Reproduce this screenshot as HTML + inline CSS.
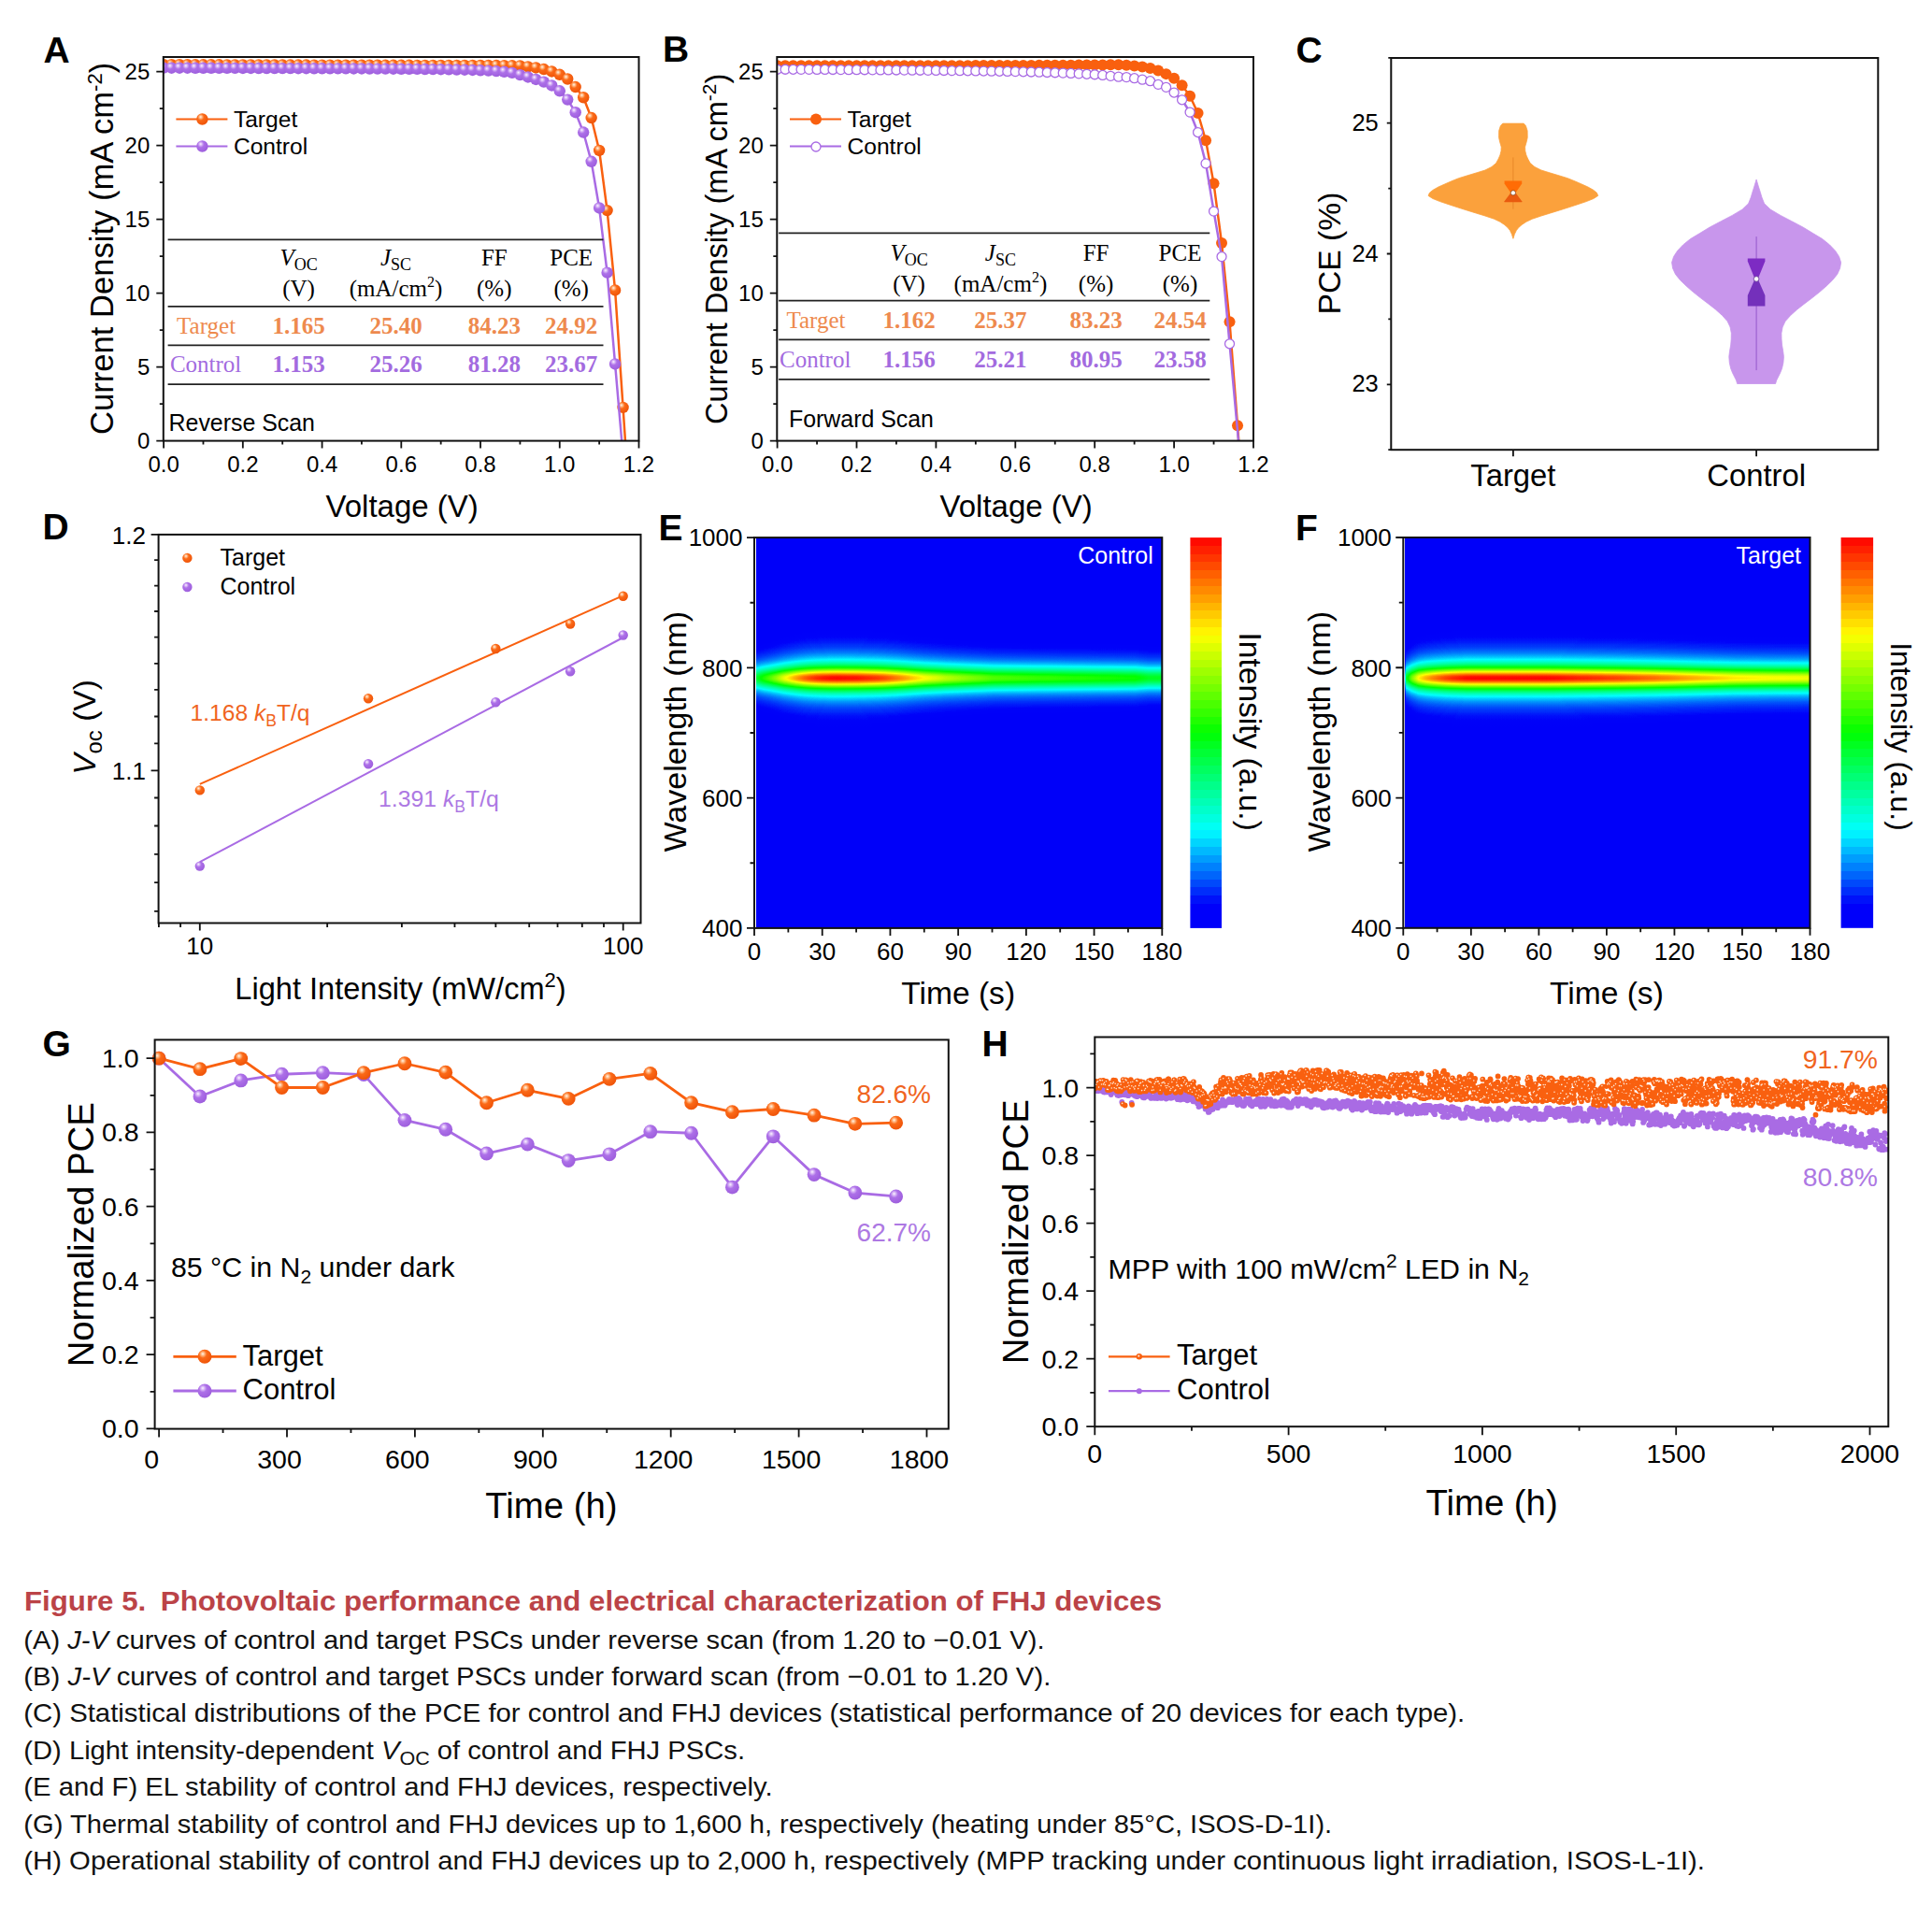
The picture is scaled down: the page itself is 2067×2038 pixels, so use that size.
<!DOCTYPE html>
<html><head><meta charset="utf-8"><title>Figure 5</title>
<style>html,body{margin:0;padding:0;background:#fff;}svg{display:block;}</style>
</head><body>
<svg width="2067" height="2038" viewBox="0 0 2067 2038" font-family="'Liberation Sans', Arial, Helvetica, sans-serif">
<defs><radialGradient id="gO" cx="0.38" cy="0.35" r="0.62" fx="0.36" fy="0.3">
<stop offset="0" stop-color="#fff5e8"/><stop offset="0.22" stop-color="#ffb27a"/><stop offset="0.45" stop-color="#fb6a18"/><stop offset="1" stop-color="#f0560a"/></radialGradient><radialGradient id="gP" cx="0.38" cy="0.35" r="0.62" fx="0.36" fy="0.3">
<stop offset="0" stop-color="#fbf4ff"/><stop offset="0.22" stop-color="#d4b0f5"/><stop offset="0.45" stop-color="#ad70e8"/><stop offset="1" stop-color="#9f60de"/></radialGradient><filter id="jetF" x="0" y="0" width="1" height="1" color-interpolation-filters="sRGB">
<feColorMatrix in="SourceGraphic" type="matrix" values="1 0 0 0 0 1 0 0 0 0 1 0 0 0 0 0 0 0 0 1" result="R"/>
<feColorMatrix in="SourceGraphic" type="matrix" values="0 1 0 0 0 0 1 0 0 0 0 1 0 0 0 0 0 0 0 1" result="G"/>
<feComposite in="R" in2="G" operator="arithmetic" k1="1" k2="0" k3="0" k4="0" result="P"/>
<feComponentTransfer in="P"><feFuncR type="table" tableValues="0 0 0 0 0 0 0 0 0 0 0 0 0 0 0 0 0 0 0 0 0 0 0 0 0 0.082 0.165 0.251 0.333 0.416 0.502 0.584 0.667 0.749 0.835 0.918 1 1 1 1 1 1 1 1 1 1 1 1 1"/><feFuncG type="table" tableValues="0 0 0 0.012 0.122 0.231 0.341 0.451 0.561 0.671 0.78 0.89 1 1 1 1 1 1 1 1 1 1 1 1 1 1 1 1 1 1 1 1 1 1 1 1 1 0.918 0.835 0.749 0.667 0.584 0.502 0.416 0.333 0.251 0.165 0.082 0"/><feFuncB type="table" tableValues="0.98 0.98 0.98 0.98 0.984 0.984 0.988 0.988 0.992 0.992 0.996 0.996 1 0.918 0.831 0.749 0.667 0.584 0.502 0.416 0.333 0.251 0.169 0.082 0 0 0 0 0 0 0 0 0 0 0 0 0 0 0 0 0 0 0 0 0 0 0 0 0"/><feFuncA type="identity"/></feComponentTransfer>
</filter><linearGradient id="hEv" x1="0" y1="0" x2="0" y2="1"><stop offset="0.0725" stop-color="#020000"/><stop offset="0.1204" stop-color="#030000"/><stop offset="0.1683" stop-color="#050000"/><stop offset="0.2042" stop-color="#080000"/><stop offset="0.2281" stop-color="#0b0000"/><stop offset="0.2472" stop-color="#0e0000"/><stop offset="0.2640" stop-color="#130000"/><stop offset="0.2688" stop-color="#150000"/><stop offset="0.2736" stop-color="#180000"/><stop offset="0.2784" stop-color="#1a0000"/><stop offset="0.2831" stop-color="#1d0000"/><stop offset="0.2879" stop-color="#210000"/><stop offset="0.2927" stop-color="#250000"/><stop offset="0.2975" stop-color="#2a0000"/><stop offset="0.3023" stop-color="#300000"/><stop offset="0.3071" stop-color="#370000"/><stop offset="0.3119" stop-color="#3f0000"/><stop offset="0.3167" stop-color="#4a0000"/><stop offset="0.3214" stop-color="#570000"/><stop offset="0.3262" stop-color="#670000"/><stop offset="0.3310" stop-color="#7a0000"/><stop offset="0.3358" stop-color="#910000"/><stop offset="0.3406" stop-color="#ac0000"/><stop offset="0.3454" stop-color="#c80000"/><stop offset="0.3502" stop-color="#e30000"/><stop offset="0.3550" stop-color="#f80000"/><stop offset="0.3597" stop-color="#ff0000"/><stop offset="0.3645" stop-color="#f80000"/><stop offset="0.3693" stop-color="#e30000"/><stop offset="0.3741" stop-color="#c80000"/><stop offset="0.3789" stop-color="#ac0000"/><stop offset="0.3837" stop-color="#910000"/><stop offset="0.3885" stop-color="#7a0000"/><stop offset="0.3933" stop-color="#670000"/><stop offset="0.3980" stop-color="#570000"/><stop offset="0.4028" stop-color="#4a0000"/><stop offset="0.4076" stop-color="#3f0000"/><stop offset="0.4124" stop-color="#370000"/><stop offset="0.4172" stop-color="#300000"/><stop offset="0.4220" stop-color="#2a0000"/><stop offset="0.4268" stop-color="#250000"/><stop offset="0.4315" stop-color="#210000"/><stop offset="0.4363" stop-color="#1d0000"/><stop offset="0.4411" stop-color="#1a0000"/><stop offset="0.4459" stop-color="#180000"/><stop offset="0.4507" stop-color="#150000"/><stop offset="0.4555" stop-color="#130000"/><stop offset="0.4722" stop-color="#0e0000"/><stop offset="0.4914" stop-color="#0b0000"/><stop offset="0.5153" stop-color="#080000"/><stop offset="0.5512" stop-color="#050000"/><stop offset="0.5991" stop-color="#030000"/><stop offset="0.6470" stop-color="#020000"/></linearGradient><linearGradient id="hEh" x1="0" y1="0" x2="1" y2="0"><stop offset="0.0000" stop-color="#007300"/><stop offset="0.0167" stop-color="#008500"/><stop offset="0.0333" stop-color="#009400"/><stop offset="0.0500" stop-color="#00a500"/><stop offset="0.0667" stop-color="#00b900"/><stop offset="0.0833" stop-color="#00c900"/><stop offset="0.1000" stop-color="#00d900"/><stop offset="0.1167" stop-color="#00e600"/><stop offset="0.1333" stop-color="#00f000"/><stop offset="0.1500" stop-color="#00f700"/><stop offset="0.1667" stop-color="#00fb00"/><stop offset="0.1833" stop-color="#00fe00"/><stop offset="0.2000" stop-color="#00ff00"/><stop offset="0.2167" stop-color="#00fe00"/><stop offset="0.2333" stop-color="#00fd00"/><stop offset="0.2500" stop-color="#00fc00"/><stop offset="0.2667" stop-color="#00f900"/><stop offset="0.2833" stop-color="#00f600"/><stop offset="0.3000" stop-color="#00f300"/><stop offset="0.3167" stop-color="#00ee00"/><stop offset="0.3333" stop-color="#00e700"/><stop offset="0.3500" stop-color="#00e000"/><stop offset="0.3667" stop-color="#00d800"/><stop offset="0.3833" stop-color="#00cf00"/><stop offset="0.4000" stop-color="#00c700"/><stop offset="0.4167" stop-color="#00bf00"/><stop offset="0.4333" stop-color="#00ba00"/><stop offset="0.4500" stop-color="#00b500"/><stop offset="0.4667" stop-color="#00af00"/><stop offset="0.4833" stop-color="#00ab00"/><stop offset="0.5000" stop-color="#00a700"/><stop offset="0.5167" stop-color="#00a300"/><stop offset="0.5333" stop-color="#009f00"/><stop offset="0.5500" stop-color="#009c00"/><stop offset="0.5667" stop-color="#009800"/><stop offset="0.5833" stop-color="#009400"/><stop offset="0.6000" stop-color="#009300"/><stop offset="0.6167" stop-color="#009200"/><stop offset="0.6333" stop-color="#009100"/><stop offset="0.6500" stop-color="#009000"/><stop offset="0.6667" stop-color="#008f00"/><stop offset="0.6833" stop-color="#008e00"/><stop offset="0.7000" stop-color="#008d00"/><stop offset="0.7167" stop-color="#008d00"/><stop offset="0.7333" stop-color="#008c00"/><stop offset="0.7500" stop-color="#008b00"/><stop offset="0.7667" stop-color="#008a00"/><stop offset="0.7833" stop-color="#008900"/><stop offset="0.8000" stop-color="#008900"/><stop offset="0.8167" stop-color="#008800"/><stop offset="0.8333" stop-color="#008700"/><stop offset="0.8500" stop-color="#008600"/><stop offset="0.8667" stop-color="#008600"/><stop offset="0.8833" stop-color="#008500"/><stop offset="0.9000" stop-color="#008400"/><stop offset="0.9167" stop-color="#008300"/><stop offset="0.9333" stop-color="#008300"/><stop offset="0.9500" stop-color="#007d00"/><stop offset="0.9667" stop-color="#007800"/><stop offset="0.9833" stop-color="#007800"/><stop offset="1.0000" stop-color="#007800"/></linearGradient><linearGradient id="hEcb" x1="0" y1="0" x2="0" y2="1"><stop offset="0.0000" stop-color="#ff0b00"/><stop offset="0.0208" stop-color="#ff0b00"/><stop offset="0.0208" stop-color="#ff2000"/><stop offset="0.0417" stop-color="#ff2000"/><stop offset="0.0417" stop-color="#ff3500"/><stop offset="0.0625" stop-color="#ff3500"/><stop offset="0.0625" stop-color="#ff4a00"/><stop offset="0.0833" stop-color="#ff4a00"/><stop offset="0.0833" stop-color="#ff6000"/><stop offset="0.1042" stop-color="#ff6000"/><stop offset="0.1042" stop-color="#ff7500"/><stop offset="0.1250" stop-color="#ff7500"/><stop offset="0.1250" stop-color="#ff8a00"/><stop offset="0.1458" stop-color="#ff8a00"/><stop offset="0.1458" stop-color="#ff9f00"/><stop offset="0.1667" stop-color="#ff9f00"/><stop offset="0.1667" stop-color="#ffb500"/><stop offset="0.1875" stop-color="#ffb500"/><stop offset="0.1875" stop-color="#ffca00"/><stop offset="0.2083" stop-color="#ffca00"/><stop offset="0.2083" stop-color="#ffdf00"/><stop offset="0.2292" stop-color="#ffdf00"/><stop offset="0.2292" stop-color="#fff400"/><stop offset="0.2500" stop-color="#fff400"/><stop offset="0.2500" stop-color="#f4ff00"/><stop offset="0.2708" stop-color="#f4ff00"/><stop offset="0.2708" stop-color="#dfff00"/><stop offset="0.2917" stop-color="#dfff00"/><stop offset="0.2917" stop-color="#caff00"/><stop offset="0.3125" stop-color="#caff00"/><stop offset="0.3125" stop-color="#b5ff00"/><stop offset="0.3333" stop-color="#b5ff00"/><stop offset="0.3333" stop-color="#9fff00"/><stop offset="0.3542" stop-color="#9fff00"/><stop offset="0.3542" stop-color="#8aff00"/><stop offset="0.3750" stop-color="#8aff00"/><stop offset="0.3750" stop-color="#75ff00"/><stop offset="0.3958" stop-color="#75ff00"/><stop offset="0.3958" stop-color="#60ff00"/><stop offset="0.4167" stop-color="#60ff00"/><stop offset="0.4167" stop-color="#4aff00"/><stop offset="0.4375" stop-color="#4aff00"/><stop offset="0.4375" stop-color="#35ff00"/><stop offset="0.4583" stop-color="#35ff00"/><stop offset="0.4583" stop-color="#20ff00"/><stop offset="0.4792" stop-color="#20ff00"/><stop offset="0.4792" stop-color="#0bff00"/><stop offset="0.5000" stop-color="#0bff00"/><stop offset="0.5000" stop-color="#00ff0b"/><stop offset="0.5208" stop-color="#00ff0b"/><stop offset="0.5208" stop-color="#00ff20"/><stop offset="0.5417" stop-color="#00ff20"/><stop offset="0.5417" stop-color="#00ff35"/><stop offset="0.5625" stop-color="#00ff35"/><stop offset="0.5625" stop-color="#00ff4a"/><stop offset="0.5833" stop-color="#00ff4a"/><stop offset="0.5833" stop-color="#00ff60"/><stop offset="0.6042" stop-color="#00ff60"/><stop offset="0.6042" stop-color="#00ff75"/><stop offset="0.6250" stop-color="#00ff75"/><stop offset="0.6250" stop-color="#00ff8a"/><stop offset="0.6458" stop-color="#00ff8a"/><stop offset="0.6458" stop-color="#00ff9f"/><stop offset="0.6667" stop-color="#00ff9f"/><stop offset="0.6667" stop-color="#00ffb5"/><stop offset="0.6875" stop-color="#00ffb5"/><stop offset="0.6875" stop-color="#00ffca"/><stop offset="0.7083" stop-color="#00ffca"/><stop offset="0.7083" stop-color="#00ffdf"/><stop offset="0.7292" stop-color="#00ffdf"/><stop offset="0.7292" stop-color="#00fff4"/><stop offset="0.7500" stop-color="#00fff4"/><stop offset="0.7500" stop-color="#00f1ff"/><stop offset="0.7708" stop-color="#00f1ff"/><stop offset="0.7708" stop-color="#00d5fe"/><stop offset="0.7917" stop-color="#00d5fe"/><stop offset="0.7917" stop-color="#00b9fe"/><stop offset="0.8125" stop-color="#00b9fe"/><stop offset="0.8125" stop-color="#009dfd"/><stop offset="0.8333" stop-color="#009dfd"/><stop offset="0.8333" stop-color="#0081fd"/><stop offset="0.8542" stop-color="#0081fd"/><stop offset="0.8542" stop-color="#0065fc"/><stop offset="0.8750" stop-color="#0065fc"/><stop offset="0.8750" stop-color="#0049fb"/><stop offset="0.8958" stop-color="#0049fb"/><stop offset="0.8958" stop-color="#002dfb"/><stop offset="0.9167" stop-color="#002dfb"/><stop offset="0.9167" stop-color="#0011fa"/><stop offset="0.9375" stop-color="#0011fa"/><stop offset="0.9375" stop-color="#0000fa"/><stop offset="0.9583" stop-color="#0000fa"/><stop offset="0.9583" stop-color="#0000fa"/><stop offset="0.9792" stop-color="#0000fa"/><stop offset="0.9792" stop-color="#0000fa"/><stop offset="1.0000" stop-color="#0000fa"/></linearGradient><linearGradient id="hFv" x1="0" y1="0" x2="0" y2="1"><stop offset="0.0728" stop-color="#020000"/><stop offset="0.1206" stop-color="#030000"/><stop offset="0.1685" stop-color="#050000"/><stop offset="0.2044" stop-color="#080000"/><stop offset="0.2283" stop-color="#0b0000"/><stop offset="0.2475" stop-color="#0e0000"/><stop offset="0.2642" stop-color="#130000"/><stop offset="0.2690" stop-color="#150000"/><stop offset="0.2738" stop-color="#180000"/><stop offset="0.2786" stop-color="#1a0000"/><stop offset="0.2834" stop-color="#1d0000"/><stop offset="0.2882" stop-color="#210000"/><stop offset="0.2930" stop-color="#250000"/><stop offset="0.2978" stop-color="#2a0000"/><stop offset="0.3025" stop-color="#300000"/><stop offset="0.3073" stop-color="#370000"/><stop offset="0.3121" stop-color="#3f0000"/><stop offset="0.3169" stop-color="#4a0000"/><stop offset="0.3217" stop-color="#570000"/><stop offset="0.3265" stop-color="#670000"/><stop offset="0.3313" stop-color="#7a0000"/><stop offset="0.3360" stop-color="#910000"/><stop offset="0.3408" stop-color="#ac0000"/><stop offset="0.3456" stop-color="#c80000"/><stop offset="0.3504" stop-color="#e30000"/><stop offset="0.3552" stop-color="#f80000"/><stop offset="0.3600" stop-color="#ff0000"/><stop offset="0.3648" stop-color="#f80000"/><stop offset="0.3696" stop-color="#e30000"/><stop offset="0.3743" stop-color="#c80000"/><stop offset="0.3791" stop-color="#ac0000"/><stop offset="0.3839" stop-color="#910000"/><stop offset="0.3887" stop-color="#7a0000"/><stop offset="0.3935" stop-color="#670000"/><stop offset="0.3983" stop-color="#570000"/><stop offset="0.4031" stop-color="#4a0000"/><stop offset="0.4079" stop-color="#3f0000"/><stop offset="0.4126" stop-color="#370000"/><stop offset="0.4174" stop-color="#300000"/><stop offset="0.4222" stop-color="#2a0000"/><stop offset="0.4270" stop-color="#250000"/><stop offset="0.4318" stop-color="#210000"/><stop offset="0.4366" stop-color="#1d0000"/><stop offset="0.4414" stop-color="#1a0000"/><stop offset="0.4461" stop-color="#180000"/><stop offset="0.4509" stop-color="#150000"/><stop offset="0.4557" stop-color="#130000"/><stop offset="0.4725" stop-color="#0e0000"/><stop offset="0.4916" stop-color="#0b0000"/><stop offset="0.5156" stop-color="#080000"/><stop offset="0.5515" stop-color="#050000"/><stop offset="0.5993" stop-color="#030000"/><stop offset="0.6472" stop-color="#020000"/></linearGradient><linearGradient id="hFh" x1="0" y1="0" x2="1" y2="0"><stop offset="0.0000" stop-color="#006b00"/><stop offset="0.0167" stop-color="#009d00"/><stop offset="0.0333" stop-color="#00c200"/><stop offset="0.0500" stop-color="#00d300"/><stop offset="0.0667" stop-color="#00df00"/><stop offset="0.0833" stop-color="#00e800"/><stop offset="0.1000" stop-color="#00f000"/><stop offset="0.1167" stop-color="#00f600"/><stop offset="0.1333" stop-color="#00fa00"/><stop offset="0.1500" stop-color="#00fe00"/><stop offset="0.1667" stop-color="#00ff00"/><stop offset="0.1833" stop-color="#00ff00"/><stop offset="0.2000" stop-color="#00ff00"/><stop offset="0.2167" stop-color="#00ff00"/><stop offset="0.2333" stop-color="#00ff00"/><stop offset="0.2500" stop-color="#00ff00"/><stop offset="0.2667" stop-color="#00ff00"/><stop offset="0.2833" stop-color="#00ff00"/><stop offset="0.3000" stop-color="#00ff00"/><stop offset="0.3167" stop-color="#00ff00"/><stop offset="0.3333" stop-color="#00ff00"/><stop offset="0.3500" stop-color="#00ff00"/><stop offset="0.3667" stop-color="#00fe00"/><stop offset="0.3833" stop-color="#00fd00"/><stop offset="0.4000" stop-color="#00fb00"/><stop offset="0.4167" stop-color="#00fa00"/><stop offset="0.4333" stop-color="#00f800"/><stop offset="0.4500" stop-color="#00f700"/><stop offset="0.4667" stop-color="#00f500"/><stop offset="0.4833" stop-color="#00f400"/><stop offset="0.5000" stop-color="#00f200"/><stop offset="0.5167" stop-color="#00f100"/><stop offset="0.5333" stop-color="#00ef00"/><stop offset="0.5500" stop-color="#00ed00"/><stop offset="0.5667" stop-color="#00eb00"/><stop offset="0.5833" stop-color="#00e900"/><stop offset="0.6000" stop-color="#00e700"/><stop offset="0.6167" stop-color="#00e500"/><stop offset="0.6333" stop-color="#00e200"/><stop offset="0.6500" stop-color="#00e000"/><stop offset="0.6667" stop-color="#00dd00"/><stop offset="0.6833" stop-color="#00da00"/><stop offset="0.7000" stop-color="#00d700"/><stop offset="0.7167" stop-color="#00d400"/><stop offset="0.7333" stop-color="#00d100"/><stop offset="0.7500" stop-color="#00cf00"/><stop offset="0.7667" stop-color="#00cc00"/><stop offset="0.7833" stop-color="#00ca00"/><stop offset="0.8000" stop-color="#00c700"/><stop offset="0.8167" stop-color="#00c500"/><stop offset="0.8333" stop-color="#00c400"/><stop offset="0.8500" stop-color="#00c300"/><stop offset="0.8667" stop-color="#00c200"/><stop offset="0.8833" stop-color="#00c100"/><stop offset="0.9000" stop-color="#00c000"/><stop offset="0.9167" stop-color="#00bf00"/><stop offset="0.9333" stop-color="#00bf00"/><stop offset="0.9500" stop-color="#00be00"/><stop offset="0.9667" stop-color="#00be00"/><stop offset="0.9833" stop-color="#00bd00"/><stop offset="1.0000" stop-color="#00bd00"/></linearGradient><linearGradient id="hFcb" x1="0" y1="0" x2="0" y2="1"><stop offset="0.0000" stop-color="#ff0b00"/><stop offset="0.0208" stop-color="#ff0b00"/><stop offset="0.0208" stop-color="#ff2000"/><stop offset="0.0417" stop-color="#ff2000"/><stop offset="0.0417" stop-color="#ff3500"/><stop offset="0.0625" stop-color="#ff3500"/><stop offset="0.0625" stop-color="#ff4a00"/><stop offset="0.0833" stop-color="#ff4a00"/><stop offset="0.0833" stop-color="#ff6000"/><stop offset="0.1042" stop-color="#ff6000"/><stop offset="0.1042" stop-color="#ff7500"/><stop offset="0.1250" stop-color="#ff7500"/><stop offset="0.1250" stop-color="#ff8a00"/><stop offset="0.1458" stop-color="#ff8a00"/><stop offset="0.1458" stop-color="#ff9f00"/><stop offset="0.1667" stop-color="#ff9f00"/><stop offset="0.1667" stop-color="#ffb500"/><stop offset="0.1875" stop-color="#ffb500"/><stop offset="0.1875" stop-color="#ffca00"/><stop offset="0.2083" stop-color="#ffca00"/><stop offset="0.2083" stop-color="#ffdf00"/><stop offset="0.2292" stop-color="#ffdf00"/><stop offset="0.2292" stop-color="#fff400"/><stop offset="0.2500" stop-color="#fff400"/><stop offset="0.2500" stop-color="#f4ff00"/><stop offset="0.2708" stop-color="#f4ff00"/><stop offset="0.2708" stop-color="#dfff00"/><stop offset="0.2917" stop-color="#dfff00"/><stop offset="0.2917" stop-color="#caff00"/><stop offset="0.3125" stop-color="#caff00"/><stop offset="0.3125" stop-color="#b5ff00"/><stop offset="0.3333" stop-color="#b5ff00"/><stop offset="0.3333" stop-color="#9fff00"/><stop offset="0.3542" stop-color="#9fff00"/><stop offset="0.3542" stop-color="#8aff00"/><stop offset="0.3750" stop-color="#8aff00"/><stop offset="0.3750" stop-color="#75ff00"/><stop offset="0.3958" stop-color="#75ff00"/><stop offset="0.3958" stop-color="#60ff00"/><stop offset="0.4167" stop-color="#60ff00"/><stop offset="0.4167" stop-color="#4aff00"/><stop offset="0.4375" stop-color="#4aff00"/><stop offset="0.4375" stop-color="#35ff00"/><stop offset="0.4583" stop-color="#35ff00"/><stop offset="0.4583" stop-color="#20ff00"/><stop offset="0.4792" stop-color="#20ff00"/><stop offset="0.4792" stop-color="#0bff00"/><stop offset="0.5000" stop-color="#0bff00"/><stop offset="0.5000" stop-color="#00ff0b"/><stop offset="0.5208" stop-color="#00ff0b"/><stop offset="0.5208" stop-color="#00ff20"/><stop offset="0.5417" stop-color="#00ff20"/><stop offset="0.5417" stop-color="#00ff35"/><stop offset="0.5625" stop-color="#00ff35"/><stop offset="0.5625" stop-color="#00ff4a"/><stop offset="0.5833" stop-color="#00ff4a"/><stop offset="0.5833" stop-color="#00ff60"/><stop offset="0.6042" stop-color="#00ff60"/><stop offset="0.6042" stop-color="#00ff75"/><stop offset="0.6250" stop-color="#00ff75"/><stop offset="0.6250" stop-color="#00ff8a"/><stop offset="0.6458" stop-color="#00ff8a"/><stop offset="0.6458" stop-color="#00ff9f"/><stop offset="0.6667" stop-color="#00ff9f"/><stop offset="0.6667" stop-color="#00ffb5"/><stop offset="0.6875" stop-color="#00ffb5"/><stop offset="0.6875" stop-color="#00ffca"/><stop offset="0.7083" stop-color="#00ffca"/><stop offset="0.7083" stop-color="#00ffdf"/><stop offset="0.7292" stop-color="#00ffdf"/><stop offset="0.7292" stop-color="#00fff4"/><stop offset="0.7500" stop-color="#00fff4"/><stop offset="0.7500" stop-color="#00f1ff"/><stop offset="0.7708" stop-color="#00f1ff"/><stop offset="0.7708" stop-color="#00d5fe"/><stop offset="0.7917" stop-color="#00d5fe"/><stop offset="0.7917" stop-color="#00b9fe"/><stop offset="0.8125" stop-color="#00b9fe"/><stop offset="0.8125" stop-color="#009dfd"/><stop offset="0.8333" stop-color="#009dfd"/><stop offset="0.8333" stop-color="#0081fd"/><stop offset="0.8542" stop-color="#0081fd"/><stop offset="0.8542" stop-color="#0065fc"/><stop offset="0.8750" stop-color="#0065fc"/><stop offset="0.8750" stop-color="#0049fb"/><stop offset="0.8958" stop-color="#0049fb"/><stop offset="0.8958" stop-color="#002dfb"/><stop offset="0.9167" stop-color="#002dfb"/><stop offset="0.9167" stop-color="#0011fa"/><stop offset="0.9375" stop-color="#0011fa"/><stop offset="0.9375" stop-color="#0000fa"/><stop offset="0.9583" stop-color="#0000fa"/><stop offset="0.9583" stop-color="#0000fa"/><stop offset="0.9792" stop-color="#0000fa"/><stop offset="0.9792" stop-color="#0000fa"/><stop offset="1.0000" stop-color="#0000fa"/></linearGradient></defs>
<rect width="2067" height="2038" fill="#fff"/>
<text x="46.5" y="66.8" font-size="39" font-weight="bold">A</text>
<clipPath id="clipA"><rect x="174.8" y="61" width="508.7" height="410.6"/></clipPath>
<g clip-path="url(#clipA)">
<path d="M175.1 69.17L183.57 69.2L192.05 69.22L200.52 69.24L208.99 69.26L217.47 69.28L225.94 69.3L234.41 69.32L242.89 69.34L251.36 69.36L259.83 69.38L268.31 69.41L276.78 69.43L285.25 69.45L293.73 69.47L302.2 69.49L310.67 69.51L319.15 69.53L327.62 69.55L336.09 69.58L344.57 69.6L353.04 69.62L361.51 69.64L369.99 69.66L378.46 69.69L386.93 69.71L395.41 69.73L403.88 69.75L412.35 69.77L420.83 69.79L429.3 69.81L437.77 69.82L446.25 69.84L454.72 69.85L463.19 69.86L471.67 69.87L480.14 69.88L488.61 69.9L497.09 69.92L505.56 69.94L514.03 69.96L522.51 70L530.98 70.05L539.45 70.13L547.93 70.26L556.4 70.44L564.87 71.39L573.35 72.49L581.82 74.07L590.29 76.44L598.77 79.76L607.24 84.5L615.71 93.03L624.19 104.25L632.66 126.05L641.13 160.97L649.61 225.12L658.08 310.44L666.55 435.89L669.03 472.6" stroke="#f9600f" stroke-width="2.5" fill="none" stroke-linejoin="round" />
<circle cx="175.1" cy="69.17" r="6.2" fill="url(#gO)"/>
<circle cx="183.57" cy="69.2" r="6.2" fill="url(#gO)"/>
<circle cx="192.05" cy="69.22" r="6.2" fill="url(#gO)"/>
<circle cx="200.52" cy="69.24" r="6.2" fill="url(#gO)"/>
<circle cx="208.99" cy="69.26" r="6.2" fill="url(#gO)"/>
<circle cx="217.47" cy="69.28" r="6.2" fill="url(#gO)"/>
<circle cx="225.94" cy="69.3" r="6.2" fill="url(#gO)"/>
<circle cx="234.41" cy="69.32" r="6.2" fill="url(#gO)"/>
<circle cx="242.89" cy="69.34" r="6.2" fill="url(#gO)"/>
<circle cx="251.36" cy="69.36" r="6.2" fill="url(#gO)"/>
<circle cx="259.83" cy="69.38" r="6.2" fill="url(#gO)"/>
<circle cx="268.31" cy="69.41" r="6.2" fill="url(#gO)"/>
<circle cx="276.78" cy="69.43" r="6.2" fill="url(#gO)"/>
<circle cx="285.25" cy="69.45" r="6.2" fill="url(#gO)"/>
<circle cx="293.73" cy="69.47" r="6.2" fill="url(#gO)"/>
<circle cx="302.2" cy="69.49" r="6.2" fill="url(#gO)"/>
<circle cx="310.67" cy="69.51" r="6.2" fill="url(#gO)"/>
<circle cx="319.15" cy="69.53" r="6.2" fill="url(#gO)"/>
<circle cx="327.62" cy="69.55" r="6.2" fill="url(#gO)"/>
<circle cx="336.09" cy="69.58" r="6.2" fill="url(#gO)"/>
<circle cx="344.57" cy="69.6" r="6.2" fill="url(#gO)"/>
<circle cx="353.04" cy="69.62" r="6.2" fill="url(#gO)"/>
<circle cx="361.51" cy="69.64" r="6.2" fill="url(#gO)"/>
<circle cx="369.99" cy="69.66" r="6.2" fill="url(#gO)"/>
<circle cx="378.46" cy="69.69" r="6.2" fill="url(#gO)"/>
<circle cx="386.93" cy="69.71" r="6.2" fill="url(#gO)"/>
<circle cx="395.41" cy="69.73" r="6.2" fill="url(#gO)"/>
<circle cx="403.88" cy="69.75" r="6.2" fill="url(#gO)"/>
<circle cx="412.35" cy="69.77" r="6.2" fill="url(#gO)"/>
<circle cx="420.83" cy="69.79" r="6.2" fill="url(#gO)"/>
<circle cx="429.3" cy="69.81" r="6.2" fill="url(#gO)"/>
<circle cx="437.77" cy="69.82" r="6.2" fill="url(#gO)"/>
<circle cx="446.25" cy="69.84" r="6.2" fill="url(#gO)"/>
<circle cx="454.72" cy="69.85" r="6.2" fill="url(#gO)"/>
<circle cx="463.19" cy="69.86" r="6.2" fill="url(#gO)"/>
<circle cx="471.67" cy="69.87" r="6.2" fill="url(#gO)"/>
<circle cx="480.14" cy="69.88" r="6.2" fill="url(#gO)"/>
<circle cx="488.61" cy="69.9" r="6.2" fill="url(#gO)"/>
<circle cx="497.09" cy="69.92" r="6.2" fill="url(#gO)"/>
<circle cx="505.56" cy="69.94" r="6.2" fill="url(#gO)"/>
<circle cx="514.03" cy="69.96" r="6.2" fill="url(#gO)"/>
<circle cx="522.51" cy="70" r="6.2" fill="url(#gO)"/>
<circle cx="530.98" cy="70.05" r="6.2" fill="url(#gO)"/>
<circle cx="539.45" cy="70.13" r="6.2" fill="url(#gO)"/>
<circle cx="547.93" cy="70.26" r="6.2" fill="url(#gO)"/>
<circle cx="556.4" cy="70.44" r="6.2" fill="url(#gO)"/>
<circle cx="564.87" cy="71.39" r="6.2" fill="url(#gO)"/>
<circle cx="573.35" cy="72.49" r="6.2" fill="url(#gO)"/>
<circle cx="581.82" cy="74.07" r="6.2" fill="url(#gO)"/>
<circle cx="590.29" cy="76.44" r="6.2" fill="url(#gO)"/>
<circle cx="598.77" cy="79.76" r="6.2" fill="url(#gO)"/>
<circle cx="607.24" cy="84.5" r="6.2" fill="url(#gO)"/>
<circle cx="615.71" cy="93.03" r="6.2" fill="url(#gO)"/>
<circle cx="624.19" cy="104.25" r="6.2" fill="url(#gO)"/>
<circle cx="632.66" cy="126.05" r="6.2" fill="url(#gO)"/>
<circle cx="641.13" cy="160.97" r="6.2" fill="url(#gO)"/>
<circle cx="649.61" cy="225.12" r="6.2" fill="url(#gO)"/>
<circle cx="658.08" cy="310.44" r="6.2" fill="url(#gO)"/>
<circle cx="666.55" cy="435.89" r="6.2" fill="url(#gO)"/>
<path d="M175.1 72.65L183.57 72.68L192.05 72.7L200.52 72.73L208.99 72.76L217.47 72.79L225.94 72.82L234.41 72.85L242.89 72.88L251.36 72.92L259.83 72.95L268.31 72.98L276.78 73.02L285.25 73.05L293.73 73.09L302.2 73.12L310.67 73.16L319.15 73.19L327.62 73.23L336.09 73.26L344.57 73.3L353.04 73.33L361.51 73.37L369.99 73.4L378.46 73.44L386.93 73.49L395.41 73.53L403.88 73.58L412.35 73.64L420.83 73.69L429.3 73.76L437.77 73.83L446.25 73.91L454.72 74L463.19 74.11L471.67 74.23L480.14 74.37L488.61 74.53L497.09 74.7L505.56 74.94L514.03 75.27L522.51 75.65L530.98 76.12L539.45 76.76L547.93 77.86L556.4 80.08L564.87 82.45L573.35 84.97L581.82 87.66L590.29 91.45L598.77 97.3L607.24 106.62L615.71 120.21L624.19 141.54L632.66 172.82L641.13 222.43L649.61 291.64L658.08 389.44L665.28 472.6" stroke="#a96be4" stroke-width="2.5" fill="none" stroke-linejoin="round" />
<circle cx="175.1" cy="72.65" r="6.2" fill="url(#gP)"/>
<circle cx="183.57" cy="72.68" r="6.2" fill="url(#gP)"/>
<circle cx="192.05" cy="72.7" r="6.2" fill="url(#gP)"/>
<circle cx="200.52" cy="72.73" r="6.2" fill="url(#gP)"/>
<circle cx="208.99" cy="72.76" r="6.2" fill="url(#gP)"/>
<circle cx="217.47" cy="72.79" r="6.2" fill="url(#gP)"/>
<circle cx="225.94" cy="72.82" r="6.2" fill="url(#gP)"/>
<circle cx="234.41" cy="72.85" r="6.2" fill="url(#gP)"/>
<circle cx="242.89" cy="72.88" r="6.2" fill="url(#gP)"/>
<circle cx="251.36" cy="72.92" r="6.2" fill="url(#gP)"/>
<circle cx="259.83" cy="72.95" r="6.2" fill="url(#gP)"/>
<circle cx="268.31" cy="72.98" r="6.2" fill="url(#gP)"/>
<circle cx="276.78" cy="73.02" r="6.2" fill="url(#gP)"/>
<circle cx="285.25" cy="73.05" r="6.2" fill="url(#gP)"/>
<circle cx="293.73" cy="73.09" r="6.2" fill="url(#gP)"/>
<circle cx="302.2" cy="73.12" r="6.2" fill="url(#gP)"/>
<circle cx="310.67" cy="73.16" r="6.2" fill="url(#gP)"/>
<circle cx="319.15" cy="73.19" r="6.2" fill="url(#gP)"/>
<circle cx="327.62" cy="73.23" r="6.2" fill="url(#gP)"/>
<circle cx="336.09" cy="73.26" r="6.2" fill="url(#gP)"/>
<circle cx="344.57" cy="73.3" r="6.2" fill="url(#gP)"/>
<circle cx="353.04" cy="73.33" r="6.2" fill="url(#gP)"/>
<circle cx="361.51" cy="73.37" r="6.2" fill="url(#gP)"/>
<circle cx="369.99" cy="73.4" r="6.2" fill="url(#gP)"/>
<circle cx="378.46" cy="73.44" r="6.2" fill="url(#gP)"/>
<circle cx="386.93" cy="73.49" r="6.2" fill="url(#gP)"/>
<circle cx="395.41" cy="73.53" r="6.2" fill="url(#gP)"/>
<circle cx="403.88" cy="73.58" r="6.2" fill="url(#gP)"/>
<circle cx="412.35" cy="73.64" r="6.2" fill="url(#gP)"/>
<circle cx="420.83" cy="73.69" r="6.2" fill="url(#gP)"/>
<circle cx="429.3" cy="73.76" r="6.2" fill="url(#gP)"/>
<circle cx="437.77" cy="73.83" r="6.2" fill="url(#gP)"/>
<circle cx="446.25" cy="73.91" r="6.2" fill="url(#gP)"/>
<circle cx="454.72" cy="74" r="6.2" fill="url(#gP)"/>
<circle cx="463.19" cy="74.11" r="6.2" fill="url(#gP)"/>
<circle cx="471.67" cy="74.23" r="6.2" fill="url(#gP)"/>
<circle cx="480.14" cy="74.37" r="6.2" fill="url(#gP)"/>
<circle cx="488.61" cy="74.53" r="6.2" fill="url(#gP)"/>
<circle cx="497.09" cy="74.7" r="6.2" fill="url(#gP)"/>
<circle cx="505.56" cy="74.94" r="6.2" fill="url(#gP)"/>
<circle cx="514.03" cy="75.27" r="6.2" fill="url(#gP)"/>
<circle cx="522.51" cy="75.65" r="6.2" fill="url(#gP)"/>
<circle cx="530.98" cy="76.12" r="6.2" fill="url(#gP)"/>
<circle cx="539.45" cy="76.76" r="6.2" fill="url(#gP)"/>
<circle cx="547.93" cy="77.86" r="6.2" fill="url(#gP)"/>
<circle cx="556.4" cy="80.08" r="6.2" fill="url(#gP)"/>
<circle cx="564.87" cy="82.45" r="6.2" fill="url(#gP)"/>
<circle cx="573.35" cy="84.97" r="6.2" fill="url(#gP)"/>
<circle cx="581.82" cy="87.66" r="6.2" fill="url(#gP)"/>
<circle cx="590.29" cy="91.45" r="6.2" fill="url(#gP)"/>
<circle cx="598.77" cy="97.3" r="6.2" fill="url(#gP)"/>
<circle cx="607.24" cy="106.62" r="6.2" fill="url(#gP)"/>
<circle cx="615.71" cy="120.21" r="6.2" fill="url(#gP)"/>
<circle cx="624.19" cy="141.54" r="6.2" fill="url(#gP)"/>
<circle cx="632.66" cy="172.82" r="6.2" fill="url(#gP)"/>
<circle cx="641.13" cy="222.43" r="6.2" fill="url(#gP)"/>
<circle cx="649.61" cy="291.64" r="6.2" fill="url(#gP)"/>
<circle cx="658.08" cy="389.44" r="6.2" fill="url(#gP)"/>
</g>
<rect x="174.8" y="61" width="508.7" height="410.6" fill="none" stroke="#111" stroke-width="2"/>
<path d="M174.8 471.6h-7.5M174.8 392.6h-7.5M174.8 313.6h-7.5M174.8 234.6h-7.5M174.8 155.6h-7.5M174.8 76.6h-7.5" stroke="#111" stroke-width="1.8" fill="none"/>
<path d="M174.8 432.1h-4M174.8 353.1h-4M174.8 274.1h-4M174.8 195.1h-4M174.8 116.1h-4" stroke="#111" stroke-width="1.8" fill="none"/>
<path d="M175.1 471.6v8M259.83 471.6v8M344.57 471.6v8M429.3 471.6v8M514.03 471.6v8M598.77 471.6v8M683.5 471.6v8" stroke="#111" stroke-width="1.8" fill="none"/>
<path d="M217.47 471.6v4M302.2 471.6v4M386.93 471.6v4M471.67 471.6v4M556.4 471.6v4M641.13 471.6v4" stroke="#111" stroke-width="1.8" fill="none"/>
<text x="160.3" y="480.2" font-size="24" text-anchor="end">0</text>
<text x="160.3" y="401.2" font-size="24" text-anchor="end">5</text>
<text x="160.3" y="322.2" font-size="24" text-anchor="end">10</text>
<text x="160.3" y="243.2" font-size="24" text-anchor="end">15</text>
<text x="160.3" y="164.2" font-size="24" text-anchor="end">20</text>
<text x="160.3" y="85.2" font-size="24" text-anchor="end">25</text>
<text x="175.1" y="504.6" font-size="24" text-anchor="middle">0.0</text>
<text x="259.83" y="504.6" font-size="24" text-anchor="middle">0.2</text>
<text x="344.57" y="504.6" font-size="24" text-anchor="middle">0.4</text>
<text x="429.3" y="504.6" font-size="24" text-anchor="middle">0.6</text>
<text x="514.03" y="504.6" font-size="24" text-anchor="middle">0.8</text>
<text x="598.77" y="504.6" font-size="24" text-anchor="middle">1.0</text>
<text x="683.5" y="504.6" font-size="24" text-anchor="middle">1.2</text>
<text x="121.2" y="265.8" font-size="34.6" text-anchor="middle" transform="rotate(-90 121.2 265.8)">Current Density (mA cm<tspan dy="-12.5" font-size="22.1">-2</tspan><tspan dy="12.5">)</tspan></text>
<text x="430.15" y="552.5" font-size="33" text-anchor="middle">Voltage (V)</text>
<line x1="188.4" y1="127.5" x2="243.4" y2="127.5" stroke="#f9600f" stroke-width="2.2" />
<line x1="188.4" y1="156.5" x2="243.4" y2="156.5" stroke="#a96be4" stroke-width="2.2" />
<circle cx="216.4" cy="127.5" r="6.2" fill="url(#gO)"/>
<circle cx="216.4" cy="156.5" r="6.2" fill="url(#gP)"/>
<text x="249.9" y="135.8" font-size="24.6">Target</text>
<text x="249.9" y="165" font-size="24.6">Control</text>
<line x1="179.6" y1="256.4" x2="645.5" y2="256.4" stroke="#222" stroke-width="1.8" />
<line x1="179.6" y1="327.9" x2="645.5" y2="327.9" stroke="#222" stroke-width="1.8" />
<line x1="179.6" y1="369.3" x2="645.5" y2="369.3" stroke="#222" stroke-width="1.8" />
<line x1="179.6" y1="411.1" x2="645.5" y2="411.1" stroke="#222" stroke-width="1.8" />
<text x="319.6" y="284.3" font-size="25" text-anchor="middle" font-family="'Liberation Serif', 'Times New Roman', serif"><tspan font-style="italic">V</tspan><tspan font-size="18" dy="5">OC</tspan></text>
<text x="423.5" y="284.3" font-size="25" text-anchor="middle" font-family="'Liberation Serif', 'Times New Roman', serif"><tspan font-style="italic">J</tspan><tspan font-size="18" dy="5">SC</tspan></text>
<text x="528.8" y="284.3" font-size="25" text-anchor="middle" font-family="'Liberation Serif', 'Times New Roman', serif">FF</text>
<text x="611.2" y="284.3" font-size="25" text-anchor="middle" font-family="'Liberation Serif', 'Times New Roman', serif">PCE</text>
<text x="319.6" y="317.3" font-size="25" text-anchor="middle" font-family="'Liberation Serif', 'Times New Roman', serif">(V)</text>
<text x="423.5" y="317.3" font-size="25" text-anchor="middle" font-family="'Liberation Serif', 'Times New Roman', serif">(mA/cm<tspan font-size="16" dy="-10">2</tspan><tspan dy="10">)</tspan></text>
<text x="528.8" y="317.3" font-size="25" text-anchor="middle" font-family="'Liberation Serif', 'Times New Roman', serif">(%)</text>
<text x="611.2" y="317.3" font-size="25" text-anchor="middle" font-family="'Liberation Serif', 'Times New Roman', serif">(%)</text>
<text x="220.6" y="356.6" font-size="25" text-anchor="middle" fill="#ee8a4e" font-family="'Liberation Serif', 'Times New Roman', serif">Target</text>
<text x="220.1" y="398.4" font-size="25" text-anchor="middle" fill="#a36bdf" font-family="'Liberation Serif', 'Times New Roman', serif">Control</text>
<text x="319.6" y="356.6" font-size="25" text-anchor="middle" fill="#ee8a4e" font-weight="bold" font-family="'Liberation Serif', 'Times New Roman', serif">1.165</text>
<text x="423.5" y="356.6" font-size="25" text-anchor="middle" fill="#ee8a4e" font-weight="bold" font-family="'Liberation Serif', 'Times New Roman', serif">25.40</text>
<text x="528.8" y="356.6" font-size="25" text-anchor="middle" fill="#ee8a4e" font-weight="bold" font-family="'Liberation Serif', 'Times New Roman', serif">84.23</text>
<text x="611.2" y="356.6" font-size="25" text-anchor="middle" fill="#ee8a4e" font-weight="bold" font-family="'Liberation Serif', 'Times New Roman', serif">24.92</text>
<text x="319.6" y="398.4" font-size="25" text-anchor="middle" fill="#a36bdf" font-weight="bold" font-family="'Liberation Serif', 'Times New Roman', serif">1.153</text>
<text x="423.5" y="398.4" font-size="25" text-anchor="middle" fill="#a36bdf" font-weight="bold" font-family="'Liberation Serif', 'Times New Roman', serif">25.26</text>
<text x="528.8" y="398.4" font-size="25" text-anchor="middle" fill="#a36bdf" font-weight="bold" font-family="'Liberation Serif', 'Times New Roman', serif">81.28</text>
<text x="611.2" y="398.4" font-size="25" text-anchor="middle" fill="#a36bdf" font-weight="bold" font-family="'Liberation Serif', 'Times New Roman', serif">23.67</text>
<text x="180.6" y="461.4" font-size="24.9">Reverse Scan</text>
<text x="709" y="65.8" font-size="39" font-weight="bold">B</text>
<clipPath id="clipB"><rect x="831.3" y="61" width="509.7" height="410.6"/></clipPath>
<g clip-path="url(#clipB)">
<path d="M831.6 70.28L840.09 70.28L848.58 70.28L857.07 70.28L865.56 70.28L874.05 70.28L882.54 70.28L891.03 70.28L899.52 70.28L908.01 70.28L916.5 70.28L924.99 70.28L933.48 70.28L941.97 70.28L950.46 70.28L958.95 70.28L967.44 70.28L975.93 70.27L984.42 70.26L992.91 70.25L1001.4 70.23L1009.89 70.21L1018.38 70.19L1026.87 70.17L1035.36 70.14L1043.85 70.11L1052.34 70.08L1060.83 70.05L1069.32 70.02L1077.81 69.99L1086.3 69.96L1094.79 69.93L1103.28 69.89L1111.77 69.85L1120.26 69.8L1128.75 69.75L1137.24 69.7L1145.73 69.65L1154.22 69.59L1162.71 69.54L1171.2 69.49L1179.69 69.43L1188.18 69.36L1196.67 69.33L1205.16 69.81L1213.65 70.44L1222.14 71.39L1230.63 72.97L1239.12 75.49L1247.61 79.13L1256.1 83.71L1264.59 91.29L1273.08 102.67L1281.57 121L1290.06 150.23L1298.55 196.36L1307.04 260.04L1315.53 344.25L1324.02 455.33L1325.34 472.6" stroke="#f9600f" stroke-width="2.5" fill="none" stroke-linejoin="round" />
<circle cx="831.6" cy="70.28" r="6" fill="#f9600f"/>
<circle cx="840.09" cy="70.28" r="6" fill="#f9600f"/>
<circle cx="848.58" cy="70.28" r="6" fill="#f9600f"/>
<circle cx="857.07" cy="70.28" r="6" fill="#f9600f"/>
<circle cx="865.56" cy="70.28" r="6" fill="#f9600f"/>
<circle cx="874.05" cy="70.28" r="6" fill="#f9600f"/>
<circle cx="882.54" cy="70.28" r="6" fill="#f9600f"/>
<circle cx="891.03" cy="70.28" r="6" fill="#f9600f"/>
<circle cx="899.52" cy="70.28" r="6" fill="#f9600f"/>
<circle cx="908.01" cy="70.28" r="6" fill="#f9600f"/>
<circle cx="916.5" cy="70.28" r="6" fill="#f9600f"/>
<circle cx="924.99" cy="70.28" r="6" fill="#f9600f"/>
<circle cx="933.48" cy="70.28" r="6" fill="#f9600f"/>
<circle cx="941.97" cy="70.28" r="6" fill="#f9600f"/>
<circle cx="950.46" cy="70.28" r="6" fill="#f9600f"/>
<circle cx="958.95" cy="70.28" r="6" fill="#f9600f"/>
<circle cx="967.44" cy="70.28" r="6" fill="#f9600f"/>
<circle cx="975.93" cy="70.27" r="6" fill="#f9600f"/>
<circle cx="984.42" cy="70.26" r="6" fill="#f9600f"/>
<circle cx="992.91" cy="70.25" r="6" fill="#f9600f"/>
<circle cx="1001.4" cy="70.23" r="6" fill="#f9600f"/>
<circle cx="1009.89" cy="70.21" r="6" fill="#f9600f"/>
<circle cx="1018.38" cy="70.19" r="6" fill="#f9600f"/>
<circle cx="1026.87" cy="70.17" r="6" fill="#f9600f"/>
<circle cx="1035.36" cy="70.14" r="6" fill="#f9600f"/>
<circle cx="1043.85" cy="70.11" r="6" fill="#f9600f"/>
<circle cx="1052.34" cy="70.08" r="6" fill="#f9600f"/>
<circle cx="1060.83" cy="70.05" r="6" fill="#f9600f"/>
<circle cx="1069.32" cy="70.02" r="6" fill="#f9600f"/>
<circle cx="1077.81" cy="69.99" r="6" fill="#f9600f"/>
<circle cx="1086.3" cy="69.96" r="6" fill="#f9600f"/>
<circle cx="1094.79" cy="69.93" r="6" fill="#f9600f"/>
<circle cx="1103.28" cy="69.89" r="6" fill="#f9600f"/>
<circle cx="1111.77" cy="69.85" r="6" fill="#f9600f"/>
<circle cx="1120.26" cy="69.8" r="6" fill="#f9600f"/>
<circle cx="1128.75" cy="69.75" r="6" fill="#f9600f"/>
<circle cx="1137.24" cy="69.7" r="6" fill="#f9600f"/>
<circle cx="1145.73" cy="69.65" r="6" fill="#f9600f"/>
<circle cx="1154.22" cy="69.59" r="6" fill="#f9600f"/>
<circle cx="1162.71" cy="69.54" r="6" fill="#f9600f"/>
<circle cx="1171.2" cy="69.49" r="6" fill="#f9600f"/>
<circle cx="1179.69" cy="69.43" r="6" fill="#f9600f"/>
<circle cx="1188.18" cy="69.36" r="6" fill="#f9600f"/>
<circle cx="1196.67" cy="69.33" r="6" fill="#f9600f"/>
<circle cx="1205.16" cy="69.81" r="6" fill="#f9600f"/>
<circle cx="1213.65" cy="70.44" r="6" fill="#f9600f"/>
<circle cx="1222.14" cy="71.39" r="6" fill="#f9600f"/>
<circle cx="1230.63" cy="72.97" r="6" fill="#f9600f"/>
<circle cx="1239.12" cy="75.49" r="6" fill="#f9600f"/>
<circle cx="1247.61" cy="79.13" r="6" fill="#f9600f"/>
<circle cx="1256.1" cy="83.71" r="6" fill="#f9600f"/>
<circle cx="1264.59" cy="91.29" r="6" fill="#f9600f"/>
<circle cx="1273.08" cy="102.67" r="6" fill="#f9600f"/>
<circle cx="1281.57" cy="121" r="6" fill="#f9600f"/>
<circle cx="1290.06" cy="150.23" r="6" fill="#f9600f"/>
<circle cx="1298.55" cy="196.36" r="6" fill="#f9600f"/>
<circle cx="1307.04" cy="260.04" r="6" fill="#f9600f"/>
<circle cx="1315.53" cy="344.25" r="6" fill="#f9600f"/>
<circle cx="1324.02" cy="455.33" r="6" fill="#f9600f"/>
<path d="M831.6 74.23L840.09 74.26L848.58 74.29L857.07 74.33L865.56 74.37L874.05 74.42L882.54 74.46L891.03 74.52L899.52 74.57L908.01 74.63L916.5 74.69L924.99 74.75L933.48 74.82L941.97 74.88L950.46 74.95L958.95 75.02L967.44 75.09L975.93 75.16L984.42 75.24L992.91 75.32L1001.4 75.4L1009.89 75.49L1018.38 75.59L1026.87 75.69L1035.36 75.79L1043.85 75.91L1052.34 76.03L1060.83 76.16L1069.32 76.29L1077.81 76.44L1086.3 76.6L1094.79 76.78L1103.28 76.98L1111.77 77.21L1120.26 77.48L1128.75 77.77L1137.24 78.1L1145.73 78.46L1154.22 78.86L1162.71 79.29L1171.2 79.76L1179.69 80.47L1188.18 81.37L1196.67 82.13L1205.16 82.6L1213.65 83.71L1222.14 85.13L1230.63 86.71L1239.12 90.35L1247.61 93.35L1256.1 99.04L1264.59 106.78L1273.08 120.05L1281.57 141.54L1290.06 174.88L1298.55 226.07L1307.04 274.57L1315.53 367.79L1325.08 472.6" stroke="#a96be4" stroke-width="2.5" fill="none" stroke-linejoin="round" />
<circle cx="831.6" cy="74.23" r="5.0" fill="#fff" stroke="#a96be4" stroke-width="1.3"/>
<circle cx="840.09" cy="74.26" r="5.0" fill="#fff" stroke="#a96be4" stroke-width="1.3"/>
<circle cx="848.58" cy="74.29" r="5.0" fill="#fff" stroke="#a96be4" stroke-width="1.3"/>
<circle cx="857.07" cy="74.33" r="5.0" fill="#fff" stroke="#a96be4" stroke-width="1.3"/>
<circle cx="865.56" cy="74.37" r="5.0" fill="#fff" stroke="#a96be4" stroke-width="1.3"/>
<circle cx="874.05" cy="74.42" r="5.0" fill="#fff" stroke="#a96be4" stroke-width="1.3"/>
<circle cx="882.54" cy="74.46" r="5.0" fill="#fff" stroke="#a96be4" stroke-width="1.3"/>
<circle cx="891.03" cy="74.52" r="5.0" fill="#fff" stroke="#a96be4" stroke-width="1.3"/>
<circle cx="899.52" cy="74.57" r="5.0" fill="#fff" stroke="#a96be4" stroke-width="1.3"/>
<circle cx="908.01" cy="74.63" r="5.0" fill="#fff" stroke="#a96be4" stroke-width="1.3"/>
<circle cx="916.5" cy="74.69" r="5.0" fill="#fff" stroke="#a96be4" stroke-width="1.3"/>
<circle cx="924.99" cy="74.75" r="5.0" fill="#fff" stroke="#a96be4" stroke-width="1.3"/>
<circle cx="933.48" cy="74.82" r="5.0" fill="#fff" stroke="#a96be4" stroke-width="1.3"/>
<circle cx="941.97" cy="74.88" r="5.0" fill="#fff" stroke="#a96be4" stroke-width="1.3"/>
<circle cx="950.46" cy="74.95" r="5.0" fill="#fff" stroke="#a96be4" stroke-width="1.3"/>
<circle cx="958.95" cy="75.02" r="5.0" fill="#fff" stroke="#a96be4" stroke-width="1.3"/>
<circle cx="967.44" cy="75.09" r="5.0" fill="#fff" stroke="#a96be4" stroke-width="1.3"/>
<circle cx="975.93" cy="75.16" r="5.0" fill="#fff" stroke="#a96be4" stroke-width="1.3"/>
<circle cx="984.42" cy="75.24" r="5.0" fill="#fff" stroke="#a96be4" stroke-width="1.3"/>
<circle cx="992.91" cy="75.32" r="5.0" fill="#fff" stroke="#a96be4" stroke-width="1.3"/>
<circle cx="1001.4" cy="75.4" r="5.0" fill="#fff" stroke="#a96be4" stroke-width="1.3"/>
<circle cx="1009.89" cy="75.49" r="5.0" fill="#fff" stroke="#a96be4" stroke-width="1.3"/>
<circle cx="1018.38" cy="75.59" r="5.0" fill="#fff" stroke="#a96be4" stroke-width="1.3"/>
<circle cx="1026.87" cy="75.69" r="5.0" fill="#fff" stroke="#a96be4" stroke-width="1.3"/>
<circle cx="1035.36" cy="75.79" r="5.0" fill="#fff" stroke="#a96be4" stroke-width="1.3"/>
<circle cx="1043.85" cy="75.91" r="5.0" fill="#fff" stroke="#a96be4" stroke-width="1.3"/>
<circle cx="1052.34" cy="76.03" r="5.0" fill="#fff" stroke="#a96be4" stroke-width="1.3"/>
<circle cx="1060.83" cy="76.16" r="5.0" fill="#fff" stroke="#a96be4" stroke-width="1.3"/>
<circle cx="1069.32" cy="76.29" r="5.0" fill="#fff" stroke="#a96be4" stroke-width="1.3"/>
<circle cx="1077.81" cy="76.44" r="5.0" fill="#fff" stroke="#a96be4" stroke-width="1.3"/>
<circle cx="1086.3" cy="76.6" r="5.0" fill="#fff" stroke="#a96be4" stroke-width="1.3"/>
<circle cx="1094.79" cy="76.78" r="5.0" fill="#fff" stroke="#a96be4" stroke-width="1.3"/>
<circle cx="1103.28" cy="76.98" r="5.0" fill="#fff" stroke="#a96be4" stroke-width="1.3"/>
<circle cx="1111.77" cy="77.21" r="5.0" fill="#fff" stroke="#a96be4" stroke-width="1.3"/>
<circle cx="1120.26" cy="77.48" r="5.0" fill="#fff" stroke="#a96be4" stroke-width="1.3"/>
<circle cx="1128.75" cy="77.77" r="5.0" fill="#fff" stroke="#a96be4" stroke-width="1.3"/>
<circle cx="1137.24" cy="78.1" r="5.0" fill="#fff" stroke="#a96be4" stroke-width="1.3"/>
<circle cx="1145.73" cy="78.46" r="5.0" fill="#fff" stroke="#a96be4" stroke-width="1.3"/>
<circle cx="1154.22" cy="78.86" r="5.0" fill="#fff" stroke="#a96be4" stroke-width="1.3"/>
<circle cx="1162.71" cy="79.29" r="5.0" fill="#fff" stroke="#a96be4" stroke-width="1.3"/>
<circle cx="1171.2" cy="79.76" r="5.0" fill="#fff" stroke="#a96be4" stroke-width="1.3"/>
<circle cx="1179.69" cy="80.47" r="5.0" fill="#fff" stroke="#a96be4" stroke-width="1.3"/>
<circle cx="1188.18" cy="81.37" r="5.0" fill="#fff" stroke="#a96be4" stroke-width="1.3"/>
<circle cx="1196.67" cy="82.13" r="5.0" fill="#fff" stroke="#a96be4" stroke-width="1.3"/>
<circle cx="1205.16" cy="82.6" r="5.0" fill="#fff" stroke="#a96be4" stroke-width="1.3"/>
<circle cx="1213.65" cy="83.71" r="5.0" fill="#fff" stroke="#a96be4" stroke-width="1.3"/>
<circle cx="1222.14" cy="85.13" r="5.0" fill="#fff" stroke="#a96be4" stroke-width="1.3"/>
<circle cx="1230.63" cy="86.71" r="5.0" fill="#fff" stroke="#a96be4" stroke-width="1.3"/>
<circle cx="1239.12" cy="90.35" r="5.0" fill="#fff" stroke="#a96be4" stroke-width="1.3"/>
<circle cx="1247.61" cy="93.35" r="5.0" fill="#fff" stroke="#a96be4" stroke-width="1.3"/>
<circle cx="1256.1" cy="99.04" r="5.0" fill="#fff" stroke="#a96be4" stroke-width="1.3"/>
<circle cx="1264.59" cy="106.78" r="5.0" fill="#fff" stroke="#a96be4" stroke-width="1.3"/>
<circle cx="1273.08" cy="120.05" r="5.0" fill="#fff" stroke="#a96be4" stroke-width="1.3"/>
<circle cx="1281.57" cy="141.54" r="5.0" fill="#fff" stroke="#a96be4" stroke-width="1.3"/>
<circle cx="1290.06" cy="174.88" r="5.0" fill="#fff" stroke="#a96be4" stroke-width="1.3"/>
<circle cx="1298.55" cy="226.07" r="5.0" fill="#fff" stroke="#a96be4" stroke-width="1.3"/>
<circle cx="1307.04" cy="274.57" r="5.0" fill="#fff" stroke="#a96be4" stroke-width="1.3"/>
<circle cx="1315.53" cy="367.79" r="5.0" fill="#fff" stroke="#a96be4" stroke-width="1.3"/>
</g>
<rect x="831.3" y="61" width="509.7" height="410.6" fill="none" stroke="#111" stroke-width="2"/>
<path d="M831.3 471.6h-7.5M831.3 392.6h-7.5M831.3 313.6h-7.5M831.3 234.6h-7.5M831.3 155.6h-7.5M831.3 76.6h-7.5" stroke="#111" stroke-width="1.8" fill="none"/>
<path d="M831.3 432.1h-4M831.3 353.1h-4M831.3 274.1h-4M831.3 195.1h-4M831.3 116.1h-4" stroke="#111" stroke-width="1.8" fill="none"/>
<path d="M831.6 471.6v8M916.5 471.6v8M1001.4 471.6v8M1086.3 471.6v8M1171.2 471.6v8M1256.1 471.6v8M1341 471.6v8" stroke="#111" stroke-width="1.8" fill="none"/>
<path d="M874.05 471.6v4M958.95 471.6v4M1043.85 471.6v4M1128.75 471.6v4M1213.65 471.6v4M1298.55 471.6v4" stroke="#111" stroke-width="1.8" fill="none"/>
<text x="816.8" y="480.2" font-size="24" text-anchor="end">0</text>
<text x="816.8" y="401.2" font-size="24" text-anchor="end">5</text>
<text x="816.8" y="322.2" font-size="24" text-anchor="end">10</text>
<text x="816.8" y="243.2" font-size="24" text-anchor="end">15</text>
<text x="816.8" y="164.2" font-size="24" text-anchor="end">20</text>
<text x="816.8" y="85.2" font-size="24" text-anchor="end">25</text>
<text x="831.6" y="504.6" font-size="24" text-anchor="middle">0.0</text>
<text x="916.5" y="504.6" font-size="24" text-anchor="middle">0.2</text>
<text x="1001.4" y="504.6" font-size="24" text-anchor="middle">0.4</text>
<text x="1086.3" y="504.6" font-size="24" text-anchor="middle">0.6</text>
<text x="1171.2" y="504.6" font-size="24" text-anchor="middle">0.8</text>
<text x="1256.1" y="504.6" font-size="24" text-anchor="middle">1.0</text>
<text x="1341" y="504.6" font-size="24" text-anchor="middle">1.2</text>
<text x="777.8" y="266.3" font-size="32.6" text-anchor="middle" transform="rotate(-90 777.8 266.3)">Current Density (mA cm<tspan dy="-11.7" font-size="20.9">-2</tspan><tspan dy="11.7">)</tspan></text>
<text x="1087.15" y="552.5" font-size="33" text-anchor="middle">Voltage (V)</text>
<line x1="845" y1="127.5" x2="900" y2="127.5" stroke="#f9600f" stroke-width="2.2" />
<line x1="845" y1="156.5" x2="900" y2="156.5" stroke="#a96be4" stroke-width="2.2" />
<circle cx="873" cy="127.5" r="6" fill="#f9600f"/>
<circle cx="873" cy="157" r="5.0" fill="#fff" stroke="#a96be4" stroke-width="1.3"/>
<text x="906.5" y="135.8" font-size="24.6">Target</text>
<text x="906.5" y="165" font-size="24.6">Control</text>
<line x1="833.1" y1="249.3" x2="1294.3" y2="249.3" stroke="#222" stroke-width="1.8" />
<line x1="833.1" y1="321.7" x2="1294.3" y2="321.7" stroke="#222" stroke-width="1.8" />
<line x1="833.1" y1="363.4" x2="1294.3" y2="363.4" stroke="#222" stroke-width="1.8" />
<line x1="833.1" y1="405.8" x2="1294.3" y2="405.8" stroke="#222" stroke-width="1.8" />
<text x="972.6" y="279" font-size="25" text-anchor="middle" font-family="'Liberation Serif', 'Times New Roman', serif"><tspan font-style="italic">V</tspan><tspan font-size="18" dy="5">OC</tspan></text>
<text x="1070.4" y="279" font-size="25" text-anchor="middle" font-family="'Liberation Serif', 'Times New Roman', serif"><tspan font-style="italic">J</tspan><tspan font-size="18" dy="5">SC</tspan></text>
<text x="1172.6" y="279" font-size="25" text-anchor="middle" font-family="'Liberation Serif', 'Times New Roman', serif">FF</text>
<text x="1262.5" y="279" font-size="25" text-anchor="middle" font-family="'Liberation Serif', 'Times New Roman', serif">PCE</text>
<text x="972.6" y="311.6" font-size="25" text-anchor="middle" font-family="'Liberation Serif', 'Times New Roman', serif">(V)</text>
<text x="1070.4" y="311.6" font-size="25" text-anchor="middle" font-family="'Liberation Serif', 'Times New Roman', serif">(mA/cm<tspan font-size="16" dy="-10">2</tspan><tspan dy="10">)</tspan></text>
<text x="1172.6" y="311.6" font-size="25" text-anchor="middle" font-family="'Liberation Serif', 'Times New Roman', serif">(%)</text>
<text x="1262.5" y="311.6" font-size="25" text-anchor="middle" font-family="'Liberation Serif', 'Times New Roman', serif">(%)</text>
<text x="873" y="351.4" font-size="25" text-anchor="middle" fill="#ee8a4e" font-family="'Liberation Serif', 'Times New Roman', serif">Target</text>
<text x="872.2" y="393.1" font-size="25" text-anchor="middle" fill="#a36bdf" font-family="'Liberation Serif', 'Times New Roman', serif">Control</text>
<text x="972.6" y="351.4" font-size="25" text-anchor="middle" fill="#ee8a4e" font-weight="bold" font-family="'Liberation Serif', 'Times New Roman', serif">1.162</text>
<text x="1070.4" y="351.4" font-size="25" text-anchor="middle" fill="#ee8a4e" font-weight="bold" font-family="'Liberation Serif', 'Times New Roman', serif">25.37</text>
<text x="1172.6" y="351.4" font-size="25" text-anchor="middle" fill="#ee8a4e" font-weight="bold" font-family="'Liberation Serif', 'Times New Roman', serif">83.23</text>
<text x="1262.5" y="351.4" font-size="25" text-anchor="middle" fill="#ee8a4e" font-weight="bold" font-family="'Liberation Serif', 'Times New Roman', serif">24.54</text>
<text x="972.6" y="393.1" font-size="25" text-anchor="middle" fill="#a36bdf" font-weight="bold" font-family="'Liberation Serif', 'Times New Roman', serif">1.156</text>
<text x="1070.4" y="393.1" font-size="25" text-anchor="middle" fill="#a36bdf" font-weight="bold" font-family="'Liberation Serif', 'Times New Roman', serif">25.21</text>
<text x="1172.6" y="393.1" font-size="25" text-anchor="middle" fill="#a36bdf" font-weight="bold" font-family="'Liberation Serif', 'Times New Roman', serif">80.95</text>
<text x="1262.5" y="393.1" font-size="25" text-anchor="middle" fill="#a36bdf" font-weight="bold" font-family="'Liberation Serif', 'Times New Roman', serif">23.58</text>
<text x="844" y="457.2" font-size="24.9">Forward Scan</text>
<text x="1386.5" y="66.5" font-size="39" font-weight="bold">C</text>
<path d="M1630.1 132.1L1632.4 134.5L1634.1 139.8L1634.2 147.3L1633.1 152L1631.6 157.2L1631.8 161.5L1632.9 165.9L1634.7 170L1637.2 174.6L1641.9 178.5L1648.9 182L1656.9 184.5L1666.9 187.5L1677.3 190.7L1685.4 194L1692.2 197L1698.9 200L1704.6 203.2L1708.4 206.3L1709.7 209.4L1704.9 212.5L1697.2 215.6L1687.9 218.7L1678.5 221.8L1668.4 225L1658.7 228L1648.9 231L1639.4 234.2L1632.9 237.3L1628.2 240.4L1624.7 243.5L1622.3 246.6L1620.4 250.5L1618.9 255.3L1618.9 255.3L1617.4 250.5L1615.5 246.6L1613.1 243.5L1609.6 240.4L1604.9 237.3L1598.4 234.2L1588.9 231L1579.1 228L1569.4 225L1559.3 221.8L1549.9 218.7L1540.6 215.6L1532.9 212.5L1528.1 209.4L1529.4 206.3L1533.2 203.2L1538.9 200L1545.6 197L1552.4 194L1560.5 190.7L1570.9 187.5L1580.9 184.5L1588.9 182L1595.9 178.5L1600.6 174.6L1603.1 170L1604.9 165.9L1606 161.5L1606.2 157.2L1604.7 152L1603.6 147.3L1603.7 139.8L1605.4 134.5L1607.7 132.1Z" fill="#fba13c" stroke="#fba13c" stroke-width="0.8" stroke-linejoin="round"/>
<line x1="1618.9" y1="168.4" x2="1618.9" y2="223.7" stroke="#e8882a" stroke-width="1" />
<path d="M1609.6 193.5H1628.2V196.5L1621.5 206.3H1616.3L1609.6 196.5Z" fill="#ff6c05"/>
<path d="M1616.3 206.3H1621.5L1628.2 215.2V216.2H1609.6V215.2Z" fill="#e95a0e"/>
<circle cx="1618.9" cy="206.3" r="2.6" fill="#fff" stroke="#7a3a10" stroke-width="0.7"/>
<path d="M1879.1 192L1880.3 196L1881.5 200L1883.2 205.2L1884.9 211L1887.6 217.8L1894.1 224L1904.9 230.4L1916.6 236.5L1928.9 243L1939.6 249.5L1949.7 255.6L1957.6 262L1963.5 268.2L1967.6 274.5L1969.6 280.8L1968.6 287L1965.7 293.4L1960.6 299.7L1954.1 306L1946.9 312.3L1939 318.6L1930.6 324.9L1922.6 331.2L1915.6 337.5L1910 343.8L1907.1 350L1905.9 356.4L1906 362.7L1906.5 369L1907.6 375.3L1908.4 381.6L1907.9 388L1906.5 394.2L1904.6 399L1902.6 403L1900.6 407L1899.6 410.5L1858.6 410.5L1857.6 407L1855.6 403L1853.6 399L1851.7 394.2L1850.3 388L1849.8 381.6L1850.6 375.3L1851.7 369L1852.2 362.7L1852.3 356.4L1851.1 350L1848.2 343.8L1842.6 337.5L1835.6 331.2L1827.6 324.9L1819.2 318.6L1811.3 312.3L1804.1 306L1797.6 299.7L1792.5 293.4L1789.6 287L1788.6 280.8L1790.6 274.5L1794.7 268.2L1800.6 262L1808.5 255.6L1818.6 249.5L1829.3 243L1841.6 236.5L1853.3 230.4L1864.1 224L1870.6 217.8L1873.3 211L1875 205.2L1876.7 200L1877.9 196L1879.1 192Z" fill="#c896ec" stroke="#c896ec" stroke-width="0.8" stroke-linejoin="round"/>
<line x1="1879.1" y1="253.1" x2="1879.1" y2="396.1" stroke="#9458cc" stroke-width="1" />
<path d="M1869.8 276.4H1888.4V279.4L1880.7 298.4H1877.5L1869.8 279.4Z" fill="#7d2bc3"/>
<path d="M1877.5 298.4H1880.7L1888.4 316.1V327.4H1869.8V316.1Z" fill="#7430bb"/>
<circle cx="1879.1" cy="298.4" r="2.8" fill="#fff" stroke="#4a1a80" stroke-width="0.7"/>
<rect x="1488.3" y="62" width="521" height="419.2" fill="none" stroke="#111" stroke-width="2"/>
<path d="M1488.3 411.3h-4.5M1488.3 271.5h-4.5M1488.3 131.7h-4.5" stroke="#111" stroke-width="1.8" fill="none"/>
<path d="M1488.3 481.2h-3M1488.3 341.4h-3M1488.3 201.6h-3M1488.3 61.8h-3" stroke="#111" stroke-width="1.8" fill="none"/>
<path d="M1618.9 481.2v7M1879.1 481.2v7" stroke="#111" stroke-width="1.8" fill="none"/>
<text x="1474.8" y="419.3" font-size="25.5" text-anchor="end">23</text>
<text x="1474.8" y="279.5" font-size="25.5" text-anchor="end">24</text>
<text x="1474.8" y="139.7" font-size="25.5" text-anchor="end">25</text>
<text x="1618.9" y="520.4" font-size="32.8" text-anchor="middle">Target</text>
<text x="1879.1" y="520.4" font-size="32.8" text-anchor="middle">Control</text>
<text x="1434" y="271" font-size="33.7" text-anchor="middle" transform="rotate(-90 1434 271)">PCE (%)</text>
<text x="45.5" y="577.3" font-size="39" font-weight="bold">D</text>
<line x1="213.8" y1="838.9" x2="666.7" y2="637.1" stroke="#f9600f" stroke-width="2" />
<line x1="213.8" y1="922.2" x2="666.7" y2="682" stroke="#a96be4" stroke-width="2" />
<circle cx="213.8" cy="845.4" r="5.2" fill="url(#gO)"/>
<circle cx="394.03" cy="747.2" r="5.2" fill="url(#gO)"/>
<circle cx="530.36" cy="694" r="5.2" fill="url(#gO)"/>
<circle cx="610.12" cy="667.5" r="5.2" fill="url(#gO)"/>
<circle cx="666.7" cy="637.8" r="5.2" fill="url(#gO)"/>
<circle cx="213.8" cy="926.6" r="5.2" fill="url(#gP)"/>
<circle cx="394.03" cy="817.2" r="5.2" fill="url(#gP)"/>
<circle cx="530.36" cy="751.2" r="5.2" fill="url(#gP)"/>
<circle cx="610.12" cy="718.3" r="5.2" fill="url(#gP)"/>
<circle cx="666.7" cy="679.5" r="5.2" fill="url(#gP)"/>
<rect x="169.6" y="571.9" width="515.9" height="415.6" fill="none" stroke="#111" stroke-width="2"/>
<path d="M169.6 571.9h-8M169.6 824.4h-8" stroke="#111" stroke-width="1.8" fill="none"/>
<path d="M169.6 599.2h-4.5M169.6 626.6h-4.5M169.6 654h-4.5M169.6 681.7h-4.5M169.6 709.8h-4.5M169.6 737.8h-4.5M169.6 766.5h-4.5M169.6 795.3h-4.5M169.6 853.5h-4.5M169.6 883.5h-4.5M169.6 913.9h-4.5M169.6 944.1h-4.5M169.6 974.8h-4.5" stroke="#111" stroke-width="1.8" fill="none"/>
<path d="M213.8 987.5v8M666.7 987.5v8" stroke="#111" stroke-width="1.8" fill="none"/>
<path d="M169.91 987.5v4.5M193.08 987.5v4.5M350.14 987.5v4.5M429.89 987.5v4.5M486.47 987.5v4.5M530.36 987.5v4.5M566.22 987.5v4.5M596.54 987.5v4.5M622.81 987.5v4.5M645.98 987.5v4.5" stroke="#111" stroke-width="1.8" fill="none"/>
<text x="156" y="581.5" font-size="26" text-anchor="end">1.2</text>
<text x="156" y="834" font-size="26" text-anchor="end">1.1</text>
<text x="213.8" y="1021" font-size="26" text-anchor="middle">10</text>
<text x="666.7" y="1021" font-size="26" text-anchor="middle">100</text>
<circle cx="200.4" cy="596.9" r="5.2" fill="url(#gO)"/>
<circle cx="200.4" cy="628" r="5.2" fill="url(#gP)"/>
<text x="235.5" y="605.2" font-size="25">Target</text>
<text x="235.5" y="636.4" font-size="25">Control</text>
<text x="203.6" y="770.8" font-size="24.6" fill="#f0641e">1.168 <tspan font-style="italic">k</tspan><tspan font-size="17.5" dy="6">B</tspan><tspan dy="-6">T/q</tspan></text>
<text x="405" y="862.5" font-size="24.8" fill="#ad78e3">1.391 <tspan font-style="italic">k</tspan><tspan font-size="17.5" dy="6">B</tspan><tspan dy="-6">T/q</tspan></text>
<text x="102" y="778" font-size="33.5" text-anchor="middle" transform="rotate(-90 102 778)"><tspan font-style="italic">V</tspan><tspan font-size="24" dy="7">oc</tspan><tspan dy="-7"> (V)</tspan></text>
<text x="428.5" y="1069" font-size="32.6" text-anchor="middle">Light Intensity (mW/cm<tspan font-size="22" dy="-13">2</tspan><tspan dy="13">)</tspan></text>
<text x="704.5" y="578" font-size="39" font-weight="bold">E</text>
<rect x="809" y="575.1" width="434.3" height="417.8" fill="#0000fa"/>
<g filter="url(#jetF)"><rect x="809" y="575.1" width="434.3" height="417.8" fill="url(#hEv)"/><rect x="809" y="575.1" width="434.3" height="417.8" fill="url(#hEh)" style="mix-blend-mode:screen"/></g>
<rect x="1273.4" y="575.1" width="33.6" height="417.8" fill="url(#hEcb)"/>
<rect x="807" y="575.1" width="436.3" height="417.8" fill="none" stroke="#111" stroke-width="2"/>
<path d="M807 992.9h-8M807 853.63h-8M807 714.37h-8M807 575.1h-8" stroke="#111" stroke-width="1.8" fill="none"/>
<path d="M807 923.27h-4.5M807 784h-4.5M807 644.73h-4.5" stroke="#111" stroke-width="1.8" fill="none"/>
<path d="M807 992.9v8M879.72 992.9v8M952.43 992.9v8M1025.15 992.9v8M1097.87 992.9v8M1170.58 992.9v8M1243.3 992.9v8" stroke="#111" stroke-width="1.8" fill="none"/>
<path d="M843.36 992.9v4.5M916.08 992.9v4.5M988.79 992.9v4.5M1061.51 992.9v4.5M1134.22 992.9v4.5M1206.94 992.9v4.5" stroke="#111" stroke-width="1.8" fill="none"/>
<text x="794.5" y="1002.2" font-size="26" text-anchor="end">400</text>
<text x="794.5" y="862.93" font-size="26" text-anchor="end">600</text>
<text x="794.5" y="723.67" font-size="26" text-anchor="end">800</text>
<text x="794.5" y="584.4" font-size="26" text-anchor="end">1000</text>
<text x="807" y="1027.3" font-size="26" text-anchor="middle">0</text>
<text x="879.72" y="1027.3" font-size="26" text-anchor="middle">30</text>
<text x="952.43" y="1027.3" font-size="26" text-anchor="middle">60</text>
<text x="1025.15" y="1027.3" font-size="26" text-anchor="middle">90</text>
<text x="1097.87" y="1027.3" font-size="26" text-anchor="middle">120</text>
<text x="1170.58" y="1027.3" font-size="26" text-anchor="middle">150</text>
<text x="1243.3" y="1027.3" font-size="26" text-anchor="middle">180</text>
<text x="1233.8" y="603.4" font-size="25" text-anchor="end" fill="#fff">Control</text>
<text x="734" y="782.7" font-size="34" text-anchor="middle" transform="rotate(-90 734 782.7)">Wavelength (nm)</text>
<text x="1025.15" y="1074" font-size="33.6" text-anchor="middle">Time (s)</text>
<text x="1326" y="782.7" font-size="33.5" text-anchor="middle" transform="rotate(90 1326 782.7)">Intensity (a.u.)</text>
<text x="1386" y="578" font-size="39" font-weight="bold">F</text>
<rect x="1503.3" y="575" width="433.2" height="417.8" fill="#0000fa"/>
<g filter="url(#jetF)"><rect x="1503.3" y="575" width="433.2" height="417.8" fill="url(#hFv)"/><rect x="1503.3" y="575" width="433.2" height="417.8" fill="url(#hFh)" style="mix-blend-mode:screen"/></g>
<rect x="1969.6" y="575" width="34.5" height="417.8" fill="url(#hFcb)"/>
<rect x="1501.3" y="575" width="435.2" height="417.8" fill="none" stroke="#111" stroke-width="2"/>
<path d="M1501.3 992.8h-8M1501.3 853.53h-8M1501.3 714.27h-8M1501.3 575h-8" stroke="#111" stroke-width="1.8" fill="none"/>
<path d="M1501.3 923.17h-4.5M1501.3 783.9h-4.5M1501.3 644.63h-4.5" stroke="#111" stroke-width="1.8" fill="none"/>
<path d="M1501.3 992.8v8M1573.83 992.8v8M1646.37 992.8v8M1718.9 992.8v8M1791.43 992.8v8M1863.97 992.8v8M1936.5 992.8v8" stroke="#111" stroke-width="1.8" fill="none"/>
<path d="M1537.57 992.8v4.5M1610.1 992.8v4.5M1682.63 992.8v4.5M1755.17 992.8v4.5M1827.7 992.8v4.5M1900.23 992.8v4.5" stroke="#111" stroke-width="1.8" fill="none"/>
<text x="1488.8" y="1002.1" font-size="26" text-anchor="end">400</text>
<text x="1488.8" y="862.83" font-size="26" text-anchor="end">600</text>
<text x="1488.8" y="723.57" font-size="26" text-anchor="end">800</text>
<text x="1488.8" y="584.3" font-size="26" text-anchor="end">1000</text>
<text x="1501.3" y="1027.3" font-size="26" text-anchor="middle">0</text>
<text x="1573.83" y="1027.3" font-size="26" text-anchor="middle">30</text>
<text x="1646.37" y="1027.3" font-size="26" text-anchor="middle">60</text>
<text x="1718.9" y="1027.3" font-size="26" text-anchor="middle">90</text>
<text x="1791.43" y="1027.3" font-size="26" text-anchor="middle">120</text>
<text x="1863.97" y="1027.3" font-size="26" text-anchor="middle">150</text>
<text x="1936.5" y="1027.3" font-size="26" text-anchor="middle">180</text>
<text x="1927" y="603.4" font-size="25" text-anchor="end" fill="#fff">Target</text>
<text x="1423" y="782.7" font-size="34" text-anchor="middle" transform="rotate(-90 1423 782.7)">Wavelength (nm)</text>
<text x="1718.9" y="1074" font-size="33.6" text-anchor="middle">Time (s)</text>
<text x="2023.1" y="788" font-size="31.8" text-anchor="middle" transform="rotate(90 2023.1 788)">Intensity (a.u.)</text>
<text x="45.5" y="1130.3" font-size="39" font-weight="bold">G</text>
<path d="M170.1 1132.2L213.91 1173.01L257.72 1155.97L301.52 1149.24L345.33 1147.65L389.14 1149.63L432.95 1198.37L476.76 1208.27L520.56 1234.02L564.37 1224.12L608.18 1241.55L651.99 1234.82L695.8 1210.65L739.6 1212.23L783.41 1270.08L827.22 1215.8L871.03 1256.61L914.84 1276.02L958.64 1279.98" stroke="#a96be4" stroke-width="2.8" fill="none" stroke-linejoin="round" />
<circle cx="170.1" cy="1132.2" r="7.4" fill="url(#gP)"/>
<circle cx="213.91" cy="1173.01" r="7.4" fill="url(#gP)"/>
<circle cx="257.72" cy="1155.97" r="7.4" fill="url(#gP)"/>
<circle cx="301.52" cy="1149.24" r="7.4" fill="url(#gP)"/>
<circle cx="345.33" cy="1147.65" r="7.4" fill="url(#gP)"/>
<circle cx="389.14" cy="1149.63" r="7.4" fill="url(#gP)"/>
<circle cx="432.95" cy="1198.37" r="7.4" fill="url(#gP)"/>
<circle cx="476.76" cy="1208.27" r="7.4" fill="url(#gP)"/>
<circle cx="520.56" cy="1234.02" r="7.4" fill="url(#gP)"/>
<circle cx="564.37" cy="1224.12" r="7.4" fill="url(#gP)"/>
<circle cx="608.18" cy="1241.55" r="7.4" fill="url(#gP)"/>
<circle cx="651.99" cy="1234.82" r="7.4" fill="url(#gP)"/>
<circle cx="695.8" cy="1210.65" r="7.4" fill="url(#gP)"/>
<circle cx="739.6" cy="1212.23" r="7.4" fill="url(#gP)"/>
<circle cx="783.41" cy="1270.08" r="7.4" fill="url(#gP)"/>
<circle cx="827.22" cy="1215.8" r="7.4" fill="url(#gP)"/>
<circle cx="871.03" cy="1256.61" r="7.4" fill="url(#gP)"/>
<circle cx="914.84" cy="1276.02" r="7.4" fill="url(#gP)"/>
<circle cx="958.64" cy="1279.98" r="7.4" fill="url(#gP)"/>
<path d="M170.1 1132.2L213.91 1143.69L257.72 1132.6L301.52 1163.5L345.33 1163.5L389.14 1147.65L432.95 1137.75L476.76 1147.26L520.56 1179.74L564.37 1166.27L608.18 1175.39L651.99 1154.39L695.8 1148.44L739.6 1179.74L783.41 1189.65L827.22 1186.48L871.03 1193.21L914.84 1202.33L958.64 1201.14" stroke="#f9600f" stroke-width="2.8" fill="none" stroke-linejoin="round" />
<circle cx="170.1" cy="1132.2" r="7.4" fill="url(#gO)"/>
<circle cx="213.91" cy="1143.69" r="7.4" fill="url(#gO)"/>
<circle cx="257.72" cy="1132.6" r="7.4" fill="url(#gO)"/>
<circle cx="301.52" cy="1163.5" r="7.4" fill="url(#gO)"/>
<circle cx="345.33" cy="1163.5" r="7.4" fill="url(#gO)"/>
<circle cx="389.14" cy="1147.65" r="7.4" fill="url(#gO)"/>
<circle cx="432.95" cy="1137.75" r="7.4" fill="url(#gO)"/>
<circle cx="476.76" cy="1147.26" r="7.4" fill="url(#gO)"/>
<circle cx="520.56" cy="1179.74" r="7.4" fill="url(#gO)"/>
<circle cx="564.37" cy="1166.27" r="7.4" fill="url(#gO)"/>
<circle cx="608.18" cy="1175.39" r="7.4" fill="url(#gO)"/>
<circle cx="651.99" cy="1154.39" r="7.4" fill="url(#gO)"/>
<circle cx="695.8" cy="1148.44" r="7.4" fill="url(#gO)"/>
<circle cx="739.6" cy="1179.74" r="7.4" fill="url(#gO)"/>
<circle cx="783.41" cy="1189.65" r="7.4" fill="url(#gO)"/>
<circle cx="827.22" cy="1186.48" r="7.4" fill="url(#gO)"/>
<circle cx="871.03" cy="1193.21" r="7.4" fill="url(#gO)"/>
<circle cx="914.84" cy="1202.33" r="7.4" fill="url(#gO)"/>
<circle cx="958.64" cy="1201.14" r="7.4" fill="url(#gO)"/>
<rect x="165.6" y="1112.4" width="849.2" height="416.2" fill="none" stroke="#111" stroke-width="2"/>
<path d="M165.6 1528.4h-9M165.6 1449.16h-9M165.6 1369.92h-9M165.6 1290.68h-9M165.6 1211.44h-9M165.6 1132.2h-9" stroke="#111" stroke-width="1.8" fill="none"/>
<path d="M165.6 1488.78h-5M165.6 1409.54h-5M165.6 1330.3h-5M165.6 1251.06h-5M165.6 1171.82h-5" stroke="#111" stroke-width="1.8" fill="none"/>
<path d="M170.1 1528.6v9M307 1528.6v9M443.9 1528.6v9M580.8 1528.6v9M717.7 1528.6v9M854.6 1528.6v9M991.5 1528.6v9" stroke="#111" stroke-width="1.8" fill="none"/>
<path d="M238.55 1528.6v4.5M375.45 1528.6v4.5M512.35 1528.6v4.5M649.25 1528.6v4.5M786.15 1528.6v4.5M923.05 1528.6v4.5" stroke="#111" stroke-width="1.8" fill="none"/>
<text x="148.5" y="1538.4" font-size="28.5" text-anchor="end">0.0</text>
<text x="148.5" y="1459.16" font-size="28.5" text-anchor="end">0.2</text>
<text x="148.5" y="1379.92" font-size="28.5" text-anchor="end">0.4</text>
<text x="148.5" y="1300.68" font-size="28.5" text-anchor="end">0.6</text>
<text x="148.5" y="1221.44" font-size="28.5" text-anchor="end">0.8</text>
<text x="148.5" y="1142.2" font-size="28.5" text-anchor="end">1.0</text>
<text x="162.1" y="1571.1" font-size="28.5" text-anchor="middle">0</text>
<text x="299" y="1571.1" font-size="28.5" text-anchor="middle">300</text>
<text x="435.9" y="1571.1" font-size="28.5" text-anchor="middle">600</text>
<text x="572.8" y="1571.1" font-size="28.5" text-anchor="middle">900</text>
<text x="709.7" y="1571.1" font-size="28.5" text-anchor="middle">1200</text>
<text x="846.6" y="1571.1" font-size="28.5" text-anchor="middle">1500</text>
<text x="983.5" y="1571.1" font-size="28.5" text-anchor="middle">1800</text>
<text x="996" y="1179.9" font-size="28" text-anchor="end" fill="#f0641e">82.6%</text>
<text x="996" y="1327.5" font-size="28" text-anchor="end" fill="#ad78e3">62.7%</text>
<text x="183" y="1365.9" font-size="30.3">85 °C in N<tspan font-size="21" dy="7">2</tspan><tspan dy="-7"> under dark</tspan></text>
<line x1="185.4" y1="1451.3" x2="252.8" y2="1451.3" stroke="#f9600f" stroke-width="2.8" />
<circle cx="219" cy="1451.3" r="7.5" fill="url(#gO)"/>
<line x1="185.4" y1="1488" x2="252.8" y2="1488" stroke="#a96be4" stroke-width="2.8" />
<circle cx="219" cy="1488" r="7.5" fill="url(#gP)"/>
<text x="259.5" y="1460.7" font-size="31">Target</text>
<text x="259.5" y="1497.4" font-size="31">Control</text>
<text x="100" y="1320.8" font-size="38.3" text-anchor="middle" transform="rotate(-90 100 1320.8)">Normalized PCE</text>
<text x="589.9" y="1623.9" font-size="38.3" text-anchor="middle">Time (h)</text>
<text x="1050.5" y="1129.5" font-size="39" font-weight="bold">H</text>
<clipPath id="clipH"><rect x="1171.3" y="1109.5" width="849" height="416.7"/></clipPath>
<g clip-path="url(#clipH)">
<path d="M1171.3 1165.4h0M1171.8 1164.1h0M1172.2 1164.4h0M1172.7 1164.8h0M1173.2 1164.5h0M1173.7 1167.0h0M1174.1 1167.2h0M1174.6 1166.9h0M1175.1 1165.9h0M1175.5 1167.1h0M1176.0 1165.2h0M1176.5 1164.4h0M1177.0 1166.3h0M1177.4 1165.8h0M1177.9 1164.4h0M1178.4 1166.0h0M1178.8 1165.7h0M1179.3 1167.2h0M1179.8 1166.6h0M1180.3 1166.3h0M1180.7 1168.3h0M1181.2 1167.5h0M1181.7 1168.6h0M1182.1 1167.6h0M1182.6 1165.7h0M1183.1 1167.2h0M1183.6 1164.9h0M1184.0 1165.2h0M1184.5 1167.5h0M1185.0 1168.4h0M1185.4 1167.6h0M1185.9 1165.0h0M1186.4 1167.5h0M1186.9 1166.3h0M1187.3 1165.8h0M1187.8 1167.8h0M1188.3 1167.4h0M1188.7 1171.0h0M1189.2 1168.1h0M1189.7 1167.3h0M1190.2 1165.2h0M1190.6 1165.7h0M1191.1 1166.7h0M1191.6 1165.6h0M1192.0 1168.1h0M1192.5 1166.7h0M1193.0 1165.7h0M1193.5 1167.2h0M1193.9 1169.0h0M1194.4 1167.5h0M1194.9 1169.9h0M1195.3 1171.4h0M1195.8 1171.7h0M1196.3 1171.7h0M1196.7 1172.1h0M1197.2 1166.3h0M1197.7 1167.0h0M1198.2 1167.0h0M1198.6 1169.5h0M1199.1 1171.5h0M1199.6 1171.3h0M1200.0 1170.5h0M1200.5 1170.5h0M1201.0 1171.0h0M1201.5 1169.3h0M1201.9 1169.7h0M1202.4 1170.6h0M1202.9 1168.7h0M1203.3 1170.3h0M1203.8 1171.3h0M1204.3 1168.5h0M1204.8 1168.1h0M1205.2 1167.5h0M1205.7 1168.4h0M1206.2 1171.6h0M1206.6 1170.2h0M1207.1 1172.2h0M1207.6 1168.6h0M1208.1 1167.7h0M1208.5 1166.4h0M1209.0 1168.1h0M1209.5 1167.8h0M1209.9 1166.5h0M1210.4 1169.7h0M1210.9 1170.5h0M1211.4 1166.6h0M1211.8 1167.5h0M1212.3 1166.7h0M1212.8 1167.2h0M1213.2 1167.7h0M1213.7 1172.0h0M1214.2 1167.0h0M1214.7 1170.7h0M1215.1 1172.8h0M1215.6 1171.3h0M1216.1 1171.9h0M1216.5 1173.2h0M1217.0 1172.8h0M1217.5 1172.6h0M1218.0 1171.7h0M1218.4 1171.4h0M1218.9 1172.0h0M1219.4 1167.8h0M1219.8 1170.1h0M1220.3 1167.4h0M1220.8 1167.4h0M1221.3 1169.0h0M1221.7 1171.4h0M1222.2 1172.9h0M1222.7 1174.1h0M1223.1 1171.2h0M1223.6 1170.7h0M1224.1 1174.4h0M1224.6 1174.0h0M1225.0 1170.4h0M1225.5 1170.0h0M1226.0 1169.7h0M1226.4 1170.3h0M1226.9 1172.6h0M1227.4 1172.9h0M1227.9 1172.1h0M1228.3 1172.1h0M1228.8 1168.4h0M1229.3 1169.0h0M1229.7 1171.1h0M1230.2 1171.1h0M1230.7 1172.9h0M1231.2 1174.7h0M1231.6 1174.9h0M1232.1 1173.7h0M1232.6 1174.2h0M1233.0 1173.5h0M1233.5 1173.8h0M1234.0 1174.3h0M1234.5 1174.5h0M1234.9 1174.4h0M1235.4 1174.9h0M1235.9 1173.6h0M1236.3 1173.4h0M1236.8 1170.6h0M1237.3 1172.8h0M1237.8 1171.7h0M1238.2 1175.0h0M1238.7 1171.5h0M1239.2 1172.7h0M1239.6 1172.4h0M1240.1 1169.5h0M1240.6 1172.1h0M1241.1 1173.1h0M1241.5 1174.6h0M1242.0 1174.3h0M1242.5 1174.9h0M1242.9 1173.7h0M1243.4 1174.6h0M1243.9 1171.4h0M1244.4 1168.6h0M1244.8 1171.0h0M1245.3 1171.9h0M1245.8 1171.7h0M1246.2 1174.3h0M1246.7 1174.3h0M1247.2 1172.6h0M1247.6 1175.6h0M1248.1 1175.0h0M1248.6 1174.9h0M1249.1 1171.8h0M1249.5 1173.3h0M1250.0 1171.7h0M1250.5 1169.5h0M1250.9 1169.4h0M1251.4 1169.6h0M1251.9 1171.1h0M1252.4 1172.5h0M1252.8 1174.8h0M1253.3 1173.7h0M1253.8 1174.5h0M1254.2 1172.1h0M1254.7 1173.5h0M1255.2 1172.8h0M1255.7 1171.2h0M1256.1 1172.0h0M1256.6 1170.5h0M1257.1 1171.7h0M1257.5 1169.9h0M1258.0 1171.6h0M1258.5 1172.6h0M1259.0 1174.9h0M1259.4 1174.5h0M1259.9 1176.2h0M1260.4 1172.4h0M1260.8 1175.6h0M1261.3 1175.1h0M1261.8 1173.7h0M1262.3 1176.4h0M1262.7 1174.8h0M1263.2 1176.6h0M1263.7 1176.3h0M1264.1 1175.8h0M1264.6 1176.1h0M1265.1 1173.1h0M1265.6 1172.4h0M1266.0 1170.7h0M1266.5 1170.8h0M1267.0 1175.1h0M1267.4 1176.1h0M1267.9 1173.5h0M1268.4 1169.5h0M1268.9 1171.2h0M1269.3 1174.8h0M1269.8 1176.7h0M1270.3 1177.3h0M1270.7 1177.0h0M1271.2 1176.4h0M1271.7 1174.2h0M1272.2 1174.8h0M1272.6 1175.9h0M1273.1 1170.6h0M1273.6 1171.2h0M1274.0 1171.2h0M1274.5 1173.6h0M1275.0 1172.9h0M1275.5 1175.4h0M1275.9 1177.2h0M1276.4 1178.3h0M1276.9 1178.4h0M1277.3 1175.1h0M1277.8 1173.9h0M1278.3 1172.7h0M1278.8 1174.1h0M1279.2 1177.1h0M1279.7 1176.0h0M1280.2 1174.5h0M1280.6 1178.8h0M1281.1 1180.5h0M1281.6 1180.3h0M1282.1 1179.6h0M1282.5 1184.1h0M1283.0 1183.7h0M1283.5 1181.9h0M1283.9 1178.5h0M1284.4 1179.0h0M1284.9 1179.4h0M1285.4 1182.8h0M1285.8 1181.3h0M1286.3 1181.1h0M1286.8 1182.8h0M1287.2 1179.7h0M1287.7 1182.7h0M1288.2 1182.2h0M1288.7 1181.7h0M1289.1 1182.5h0M1289.6 1186.6h0M1290.1 1185.3h0M1290.5 1182.1h0M1291.0 1182.2h0M1291.5 1184.9h0M1292.0 1182.5h0M1292.4 1186.8h0M1292.9 1189.9h0M1293.4 1188.1h0M1293.8 1189.4h0M1294.3 1183.9h0M1294.8 1183.9h0M1295.3 1184.0h0M1295.7 1187.2h0M1296.2 1186.6h0M1296.7 1187.0h0M1297.1 1186.8h0M1297.6 1186.8h0M1298.1 1185.2h0M1298.5 1181.7h0M1299.0 1179.2h0M1299.5 1180.4h0M1300.0 1178.9h0M1300.4 1179.2h0M1300.9 1180.2h0M1301.4 1178.5h0M1301.8 1180.1h0M1302.3 1181.0h0M1302.8 1185.2h0M1303.3 1179.8h0M1303.7 1181.9h0M1304.2 1183.0h0M1304.7 1182.5h0M1305.1 1181.7h0M1305.6 1179.9h0M1306.1 1182.5h0M1306.6 1182.8h0M1307.0 1181.4h0M1307.5 1180.0h0M1308.0 1176.3h0M1308.4 1179.0h0M1308.9 1182.6h0M1309.4 1181.8h0M1309.9 1181.3h0M1310.3 1182.7h0M1310.8 1182.0h0M1311.3 1180.3h0M1311.7 1178.9h0M1312.2 1178.7h0M1312.7 1178.2h0M1313.2 1178.1h0M1313.6 1178.4h0M1314.1 1179.3h0M1314.6 1177.0h0M1315.0 1176.0h0M1315.5 1177.8h0M1316.0 1177.6h0M1316.5 1177.1h0M1316.9 1176.6h0M1317.4 1176.1h0M1317.9 1179.2h0M1318.3 1179.2h0M1318.8 1177.1h0M1319.3 1177.9h0M1319.8 1177.0h0M1320.2 1177.3h0M1320.7 1177.6h0M1321.2 1177.4h0M1321.6 1176.8h0M1322.1 1175.5h0M1322.6 1176.8h0M1323.1 1175.0h0M1323.5 1181.0h0M1324.0 1182.1h0M1324.5 1178.5h0M1324.9 1180.0h0M1325.4 1174.9h0M1325.9 1177.2h0M1326.4 1175.9h0M1326.8 1176.4h0M1327.3 1181.0h0M1327.8 1178.6h0M1328.2 1179.9h0M1328.7 1179.3h0M1329.2 1182.4h0M1329.7 1182.9h0M1330.1 1181.6h0M1330.6 1183.1h0M1331.1 1182.7h0M1331.5 1181.0h0M1332.0 1180.0h0M1332.5 1179.5h0M1333.0 1175.7h0M1333.4 1176.1h0M1333.9 1178.5h0M1334.4 1179.9h0M1334.8 1177.6h0M1335.3 1176.5h0M1335.8 1177.0h0M1336.3 1176.3h0M1336.7 1175.5h0M1337.2 1176.6h0M1337.7 1182.0h0M1338.1 1180.0h0M1338.6 1180.4h0M1339.1 1179.6h0M1339.6 1183.3h0M1340.0 1182.4h0M1340.5 1180.7h0M1341.0 1180.2h0M1341.4 1179.8h0M1341.9 1178.9h0M1342.4 1179.6h0M1342.9 1177.8h0M1343.3 1181.2h0M1343.8 1179.4h0M1344.3 1181.3h0M1344.7 1177.2h0M1345.2 1176.3h0M1345.7 1175.6h0M1346.1 1177.8h0M1346.6 1175.7h0M1347.1 1175.6h0M1347.6 1180.1h0M1348.0 1181.5h0M1348.5 1182.9h0M1349.0 1183.9h0M1349.4 1183.5h0M1349.9 1180.8h0M1350.4 1177.6h0M1350.9 1178.2h0M1351.3 1175.9h0M1351.8 1176.5h0M1352.3 1182.5h0M1352.7 1179.1h0M1353.2 1183.8h0M1353.7 1183.1h0M1354.2 1180.9h0M1354.6 1182.0h0M1355.1 1178.2h0M1355.6 1175.9h0M1356.0 1176.6h0M1356.5 1177.4h0M1357.0 1179.9h0M1357.5 1178.8h0M1357.9 1179.2h0M1358.4 1178.0h0M1358.9 1176.8h0M1359.3 1176.2h0M1359.8 1181.9h0M1360.3 1182.9h0M1360.8 1181.5h0M1361.2 1179.4h0M1361.7 1181.9h0M1362.2 1182.5h0M1362.6 1181.2h0M1363.1 1179.8h0M1363.6 1183.3h0M1364.1 1178.2h0M1364.5 1179.9h0M1365.0 1180.3h0M1365.5 1179.9h0M1365.9 1183.0h0M1366.4 1182.1h0M1366.9 1180.7h0M1367.4 1181.1h0M1367.8 1180.3h0M1368.3 1181.1h0M1368.8 1179.1h0M1369.2 1179.2h0M1369.7 1178.5h0M1370.2 1181.3h0M1370.7 1182.7h0M1371.1 1179.5h0M1371.6 1176.1h0M1372.1 1176.5h0M1372.5 1179.7h0M1373.0 1175.9h0M1373.5 1175.7h0M1374.0 1180.0h0M1374.4 1179.2h0M1374.9 1181.5h0M1375.4 1183.1h0M1375.8 1181.2h0M1376.3 1177.4h0M1376.8 1179.7h0M1377.3 1178.4h0M1377.7 1184.5h0M1378.2 1182.2h0M1378.7 1184.7h0M1379.1 1184.7h0M1379.6 1181.1h0M1380.1 1182.6h0M1380.6 1184.1h0M1381.0 1184.7h0M1381.5 1183.4h0M1382.0 1183.9h0M1382.4 1180.2h0M1382.9 1180.8h0M1383.4 1178.7h0M1383.9 1178.6h0M1384.3 1177.6h0M1384.8 1179.8h0M1385.3 1177.6h0M1385.7 1178.6h0M1386.2 1177.3h0M1386.7 1176.0h0M1387.2 1176.0h0M1387.6 1177.2h0M1388.1 1177.6h0M1388.6 1183.0h0M1389.0 1180.6h0M1389.5 1180.5h0M1390.0 1180.9h0M1390.5 1177.8h0M1390.9 1176.0h0M1391.4 1176.1h0M1391.9 1176.9h0M1392.3 1178.1h0M1392.8 1179.1h0M1393.3 1180.4h0M1393.8 1179.6h0M1394.2 1178.1h0M1394.7 1180.3h0M1395.2 1178.2h0M1395.6 1176.2h0M1396.1 1177.2h0M1396.6 1176.3h0M1397.0 1176.5h0M1397.5 1176.2h0M1398.0 1177.0h0M1398.5 1182.4h0M1398.9 1182.5h0M1399.4 1179.4h0M1399.9 1180.4h0M1400.3 1178.0h0M1400.8 1177.8h0M1401.3 1180.7h0M1401.8 1182.0h0M1402.2 1183.4h0M1402.7 1184.3h0M1403.2 1179.3h0M1403.6 1181.5h0M1404.1 1180.6h0M1404.6 1182.0h0M1405.1 1177.5h0M1405.5 1177.1h0M1406.0 1177.0h0M1406.5 1176.9h0M1406.9 1179.3h0M1407.4 1179.6h0M1407.9 1176.9h0M1408.4 1177.1h0M1408.8 1179.3h0M1409.3 1180.8h0M1409.8 1181.9h0M1410.2 1179.5h0M1410.7 1177.9h0M1411.2 1180.2h0M1411.7 1178.1h0M1412.1 1178.6h0M1412.6 1179.0h0M1413.1 1181.6h0M1413.5 1178.6h0M1414.0 1179.4h0M1414.5 1178.8h0M1415.0 1184.5h0M1415.4 1185.1h0M1415.9 1185.2h0M1416.4 1184.8h0M1416.8 1185.3h0M1417.3 1182.4h0M1417.8 1182.7h0M1418.3 1180.4h0M1418.7 1182.4h0M1419.2 1183.8h0M1419.7 1181.8h0M1420.1 1184.6h0M1420.6 1181.5h0M1421.1 1180.4h0M1421.6 1178.9h0M1422.0 1178.3h0M1422.5 1177.7h0M1423.0 1178.5h0M1423.4 1178.1h0M1423.9 1178.7h0M1424.4 1184.0h0M1424.9 1183.8h0M1425.3 1182.2h0M1425.8 1184.5h0M1426.3 1182.1h0M1426.7 1180.2h0M1427.2 1178.0h0M1427.7 1178.3h0M1428.2 1178.1h0M1428.6 1178.8h0M1429.1 1177.5h0M1429.6 1180.6h0M1430.0 1183.7h0M1430.5 1179.3h0M1431.0 1180.1h0M1431.5 1180.0h0M1431.9 1181.9h0M1432.4 1185.6h0M1432.9 1182.6h0M1433.3 1185.9h0M1433.8 1183.8h0M1434.3 1184.7h0M1434.8 1183.8h0M1435.2 1180.6h0M1435.7 1182.0h0M1436.2 1181.7h0M1436.6 1178.6h0M1437.1 1180.6h0M1437.6 1181.9h0M1438.1 1181.2h0M1438.5 1179.0h0M1439.0 1183.1h0M1439.5 1183.8h0M1439.9 1179.0h0M1440.4 1182.3h0M1440.9 1179.5h0M1441.4 1178.5h0M1441.8 1177.7h0M1442.3 1179.5h0M1442.8 1180.2h0M1443.2 1179.3h0M1443.7 1179.2h0M1444.2 1178.7h0M1444.7 1179.8h0M1445.1 1184.3h0M1445.6 1185.7h0M1446.1 1184.3h0M1446.5 1185.2h0M1447.0 1187.5h0M1447.5 1184.4h0M1447.9 1183.0h0M1448.4 1182.1h0M1448.9 1178.0h0M1449.4 1178.3h0M1449.8 1181.5h0M1450.3 1183.8h0M1450.8 1186.1h0M1451.2 1183.8h0M1451.7 1186.4h0M1452.2 1182.6h0M1452.7 1185.3h0M1453.1 1182.5h0M1453.6 1182.8h0M1454.1 1180.8h0M1454.5 1179.7h0M1455.0 1181.2h0M1455.5 1182.0h0M1456.0 1185.8h0M1456.4 1185.2h0M1456.9 1187.5h0M1457.4 1187.1h0M1457.8 1182.8h0M1458.3 1180.1h0M1458.8 1181.5h0M1459.3 1185.5h0M1459.7 1182.9h0M1460.2 1181.8h0M1460.7 1182.2h0M1461.1 1185.0h0M1461.6 1185.0h0M1462.1 1180.3h0M1462.6 1179.8h0M1463.0 1179.8h0M1463.5 1178.8h0M1464.0 1181.1h0M1464.4 1182.5h0M1464.9 1183.3h0M1465.4 1182.3h0M1465.9 1179.0h0M1466.3 1186.0h0M1466.8 1187.5h0M1467.3 1188.2h0M1467.7 1187.3h0M1468.2 1185.7h0M1468.7 1186.2h0M1469.2 1188.3h0M1469.6 1187.1h0M1470.1 1188.3h0M1470.6 1189.0h0M1471.0 1183.3h0M1471.5 1183.9h0M1472.0 1180.1h0M1472.5 1180.9h0M1472.9 1189.1h0M1473.4 1186.7h0M1473.9 1184.3h0M1474.3 1180.4h0M1474.8 1185.0h0M1475.3 1180.5h0M1475.8 1182.0h0M1476.2 1185.2h0M1476.7 1189.1h0M1477.2 1189.6h0M1477.6 1187.2h0M1478.1 1183.2h0M1478.6 1188.9h0M1479.1 1188.9h0M1479.5 1189.3h0M1480.0 1188.4h0M1480.5 1186.4h0M1480.9 1187.3h0M1481.4 1187.5h0M1481.9 1189.4h0M1482.4 1186.8h0M1482.8 1188.0h0M1483.3 1185.0h0M1483.8 1181.7h0M1484.2 1180.6h0M1484.7 1180.8h0M1485.2 1190.1h0M1485.7 1187.0h0M1486.1 1187.0h0M1486.6 1187.1h0M1487.1 1186.7h0M1487.5 1185.9h0M1488.0 1184.5h0M1488.5 1184.8h0M1489.0 1183.7h0M1489.4 1187.1h0M1489.9 1186.4h0M1490.4 1183.0h0M1490.8 1182.7h0M1491.3 1180.9h0M1491.8 1184.8h0M1492.3 1186.6h0M1492.7 1185.9h0M1493.2 1185.8h0M1493.7 1188.1h0M1494.1 1189.0h0M1494.6 1190.7h0M1495.1 1187.5h0M1495.5 1187.8h0M1496.0 1186.7h0M1496.5 1180.7h0M1497.0 1184.5h0M1497.4 1186.1h0M1497.9 1185.5h0M1498.4 1189.0h0M1498.8 1181.7h0M1499.3 1184.4h0M1499.8 1184.2h0M1500.3 1183.9h0M1500.7 1183.8h0M1501.2 1183.1h0M1501.7 1183.9h0M1502.1 1186.8h0M1502.6 1186.3h0M1503.1 1187.4h0M1503.6 1188.3h0M1504.0 1186.2h0M1504.5 1186.7h0M1505.0 1191.7h0M1505.4 1191.5h0M1505.9 1186.9h0M1506.4 1184.5h0M1506.9 1183.4h0M1507.3 1183.6h0M1507.8 1188.4h0M1508.3 1185.9h0M1508.7 1190.3h0M1509.2 1189.2h0M1509.7 1189.2h0M1510.2 1191.7h0M1510.6 1190.3h0M1511.1 1186.4h0M1511.6 1188.7h0M1512.0 1188.3h0M1512.5 1187.9h0M1513.0 1183.5h0M1513.5 1183.1h0M1513.9 1182.0h0M1514.4 1182.6h0M1514.9 1187.2h0M1515.3 1188.1h0M1515.8 1187.7h0M1516.3 1191.2h0M1516.8 1186.9h0M1517.2 1186.7h0M1517.7 1184.5h0M1518.2 1184.9h0M1518.6 1186.7h0M1519.1 1189.6h0M1519.6 1186.8h0M1520.1 1190.7h0M1520.5 1187.5h0M1521.0 1185.1h0M1521.5 1185.2h0M1521.9 1183.6h0M1522.4 1184.1h0M1522.9 1183.0h0M1523.4 1183.9h0M1523.8 1184.5h0M1524.3 1190.5h0M1524.8 1189.0h0M1525.2 1182.7h0M1525.7 1190.4h0M1526.2 1182.8h0M1526.7 1184.5h0M1527.1 1182.8h0M1527.6 1187.5h0M1528.1 1183.9h0M1528.5 1182.8h0M1529.0 1184.1h0M1529.5 1185.1h0M1530.0 1183.0h0M1530.4 1186.7h0M1530.9 1184.3h0M1531.4 1185.6h0M1531.8 1188.1h0M1532.3 1188.2h0M1532.8 1185.9h0M1533.3 1185.4h0M1533.7 1189.9h0M1534.2 1190.9h0M1534.7 1190.3h0M1535.1 1192.2h0M1535.6 1183.9h0M1536.1 1186.1h0M1536.6 1184.0h0M1537.0 1186.9h0M1537.5 1185.1h0M1538.0 1185.3h0M1538.4 1183.8h0M1538.9 1183.9h0M1539.4 1186.5h0M1539.9 1184.4h0M1540.3 1183.3h0M1540.8 1185.1h0M1541.3 1183.2h0M1541.7 1189.1h0M1542.2 1186.8h0M1542.7 1183.7h0M1543.2 1188.2h0M1543.6 1194.8h0M1544.1 1194.7h0M1544.6 1194.8h0M1545.0 1194.1h0M1545.5 1192.4h0M1546.0 1192.1h0M1546.4 1188.1h0M1546.9 1187.7h0M1547.4 1185.0h0M1547.9 1187.1h0M1548.3 1193.9h0M1548.8 1195.2h0M1549.3 1193.7h0M1549.7 1193.7h0M1550.2 1193.3h0M1550.7 1193.8h0M1551.2 1188.2h0M1551.6 1188.4h0M1552.1 1185.3h0M1552.6 1185.3h0M1553.0 1184.2h0M1553.5 1187.1h0M1554.0 1185.9h0M1554.5 1186.8h0M1554.9 1184.7h0M1555.4 1186.0h0M1555.9 1190.8h0M1556.3 1193.6h0M1556.8 1189.1h0M1557.3 1191.4h0M1557.8 1186.5h0M1558.2 1186.2h0M1558.7 1187.4h0M1559.2 1189.3h0M1559.6 1187.5h0M1560.1 1190.0h0M1560.6 1186.9h0M1561.1 1189.4h0M1561.5 1190.5h0M1562.0 1193.5h0M1562.5 1192.9h0M1562.9 1195.8h0M1563.4 1196.1h0M1563.9 1192.2h0M1564.4 1194.5h0M1564.8 1193.2h0M1565.3 1195.9h0M1565.8 1195.5h0M1566.2 1192.8h0M1566.7 1191.3h0M1567.2 1195.7h0M1567.7 1195.3h0M1568.1 1192.8h0M1568.6 1186.6h0M1569.1 1186.0h0M1569.5 1184.7h0M1570.0 1184.9h0M1570.5 1186.7h0M1571.0 1187.0h0M1571.4 1187.3h0M1571.9 1185.7h0M1572.4 1187.1h0M1572.8 1191.1h0M1573.3 1191.7h0M1573.8 1192.8h0M1574.3 1192.7h0M1574.7 1194.0h0M1575.2 1188.8h0M1575.7 1186.1h0M1576.1 1189.9h0M1576.6 1193.4h0M1577.1 1194.5h0M1577.6 1193.3h0M1578.0 1193.1h0M1578.5 1190.1h0M1579.0 1194.2h0M1579.4 1195.0h0M1579.9 1195.8h0M1580.4 1193.5h0M1580.9 1193.4h0M1581.3 1188.8h0M1581.8 1194.3h0M1582.3 1196.2h0M1582.7 1193.4h0M1583.2 1188.6h0M1583.7 1196.2h0M1584.2 1193.0h0M1584.6 1193.4h0M1585.1 1190.4h0M1585.6 1186.5h0M1586.0 1193.0h0M1586.5 1188.2h0M1587.0 1187.8h0M1587.5 1189.0h0M1587.9 1194.2h0M1588.4 1191.7h0M1588.9 1186.4h0M1589.3 1189.2h0M1589.8 1189.5h0M1590.3 1196.6h0M1590.8 1197.9h0M1591.2 1189.9h0M1591.7 1192.5h0M1592.2 1192.2h0M1592.6 1186.4h0M1593.1 1188.6h0M1593.6 1187.0h0M1594.1 1188.9h0M1594.5 1188.3h0M1595.0 1188.9h0M1595.5 1190.5h0M1595.9 1192.8h0M1596.4 1191.1h0M1596.9 1194.3h0M1597.3 1196.1h0M1597.8 1197.3h0M1598.3 1196.4h0M1598.8 1196.5h0M1599.2 1191.4h0M1599.7 1195.7h0M1600.2 1196.3h0M1600.6 1193.2h0M1601.1 1194.0h0M1601.6 1197.8h0M1602.1 1193.6h0M1602.5 1191.7h0M1603.0 1187.9h0M1603.5 1185.9h0M1603.9 1192.8h0M1604.4 1196.3h0M1604.9 1196.6h0M1605.4 1196.4h0M1605.8 1192.9h0M1606.3 1189.5h0M1606.8 1188.2h0M1607.2 1192.5h0M1607.7 1194.7h0M1608.2 1194.8h0M1608.7 1194.5h0M1609.1 1191.0h0M1609.6 1192.3h0M1610.1 1192.2h0M1610.5 1194.5h0M1611.0 1196.7h0M1611.5 1193.3h0M1612.0 1195.5h0M1612.4 1192.7h0M1612.9 1191.4h0M1613.4 1197.6h0M1613.8 1196.9h0M1614.3 1196.3h0M1614.8 1193.1h0M1615.3 1194.8h0M1615.7 1191.1h0M1616.2 1188.6h0M1616.7 1188.8h0M1617.1 1188.3h0M1617.6 1186.3h0M1618.1 1188.4h0M1618.6 1189.2h0M1619.0 1187.6h0M1619.5 1189.5h0M1620.0 1187.0h0M1620.4 1185.6h0M1620.9 1186.2h0M1621.4 1188.7h0M1621.9 1193.6h0M1622.3 1187.1h0M1622.8 1186.9h0M1623.3 1189.2h0M1623.7 1188.7h0M1624.2 1186.0h0M1624.7 1187.3h0M1625.2 1186.4h0M1625.6 1186.0h0M1626.1 1186.0h0M1626.6 1189.0h0M1627.0 1194.9h0M1627.5 1196.2h0M1628.0 1195.7h0M1628.5 1193.0h0M1628.9 1191.4h0M1629.4 1186.5h0M1629.9 1187.8h0M1630.3 1186.8h0M1630.8 1191.6h0M1631.3 1186.8h0M1631.8 1188.6h0M1632.2 1193.1h0M1632.7 1190.2h0M1633.2 1195.8h0M1633.6 1192.5h0M1634.1 1188.3h0M1634.6 1186.6h0M1635.1 1187.9h0M1635.5 1196.7h0M1636.0 1198.0h0M1636.5 1190.6h0M1636.9 1191.9h0M1637.4 1192.6h0M1637.9 1189.9h0M1638.4 1188.8h0M1638.8 1191.8h0M1639.3 1193.5h0M1639.8 1190.7h0M1640.2 1196.2h0M1640.7 1193.3h0M1641.2 1189.2h0M1641.7 1191.5h0M1642.1 1187.0h0M1642.6 1185.6h0M1643.1 1187.3h0M1643.5 1192.2h0M1644.0 1195.4h0M1644.5 1194.2h0M1644.9 1196.2h0M1645.4 1196.9h0M1645.9 1197.3h0M1646.4 1193.8h0M1646.8 1192.4h0M1647.3 1191.6h0M1647.8 1193.5h0M1648.2 1193.2h0M1648.7 1193.2h0M1649.2 1197.3h0M1649.7 1192.7h0M1650.1 1197.2h0M1650.6 1195.1h0M1651.1 1194.1h0M1651.5 1197.1h0M1652.0 1197.2h0M1652.5 1191.9h0M1653.0 1194.2h0M1653.4 1196.0h0M1653.9 1194.9h0M1654.4 1187.3h0M1654.8 1186.6h0M1655.3 1185.5h0M1655.8 1186.7h0M1656.3 1190.2h0M1656.7 1192.0h0M1657.2 1185.6h0M1657.7 1185.5h0M1658.1 1186.0h0M1658.6 1189.3h0M1659.1 1192.0h0M1659.6 1191.8h0M1660.0 1191.5h0M1660.5 1189.6h0M1661.0 1188.2h0M1661.4 1192.6h0M1661.9 1188.3h0M1662.4 1189.1h0M1662.9 1191.5h0M1663.3 1193.7h0M1663.8 1188.3h0M1664.3 1195.2h0M1664.7 1194.6h0M1665.2 1193.4h0M1665.7 1193.5h0M1666.2 1187.0h0M1666.6 1187.3h0M1667.1 1188.0h0M1667.6 1188.6h0M1668.0 1189.8h0M1668.5 1194.0h0M1669.0 1189.9h0M1669.5 1186.5h0M1669.9 1190.1h0M1670.4 1186.1h0M1670.9 1191.4h0M1671.3 1189.7h0M1671.8 1192.4h0M1672.3 1188.4h0M1672.8 1185.8h0M1673.2 1191.7h0M1673.7 1190.0h0M1674.2 1193.7h0M1674.6 1190.5h0M1675.1 1193.8h0M1675.6 1192.5h0M1676.1 1186.8h0M1676.5 1190.8h0M1677.0 1194.5h0M1677.5 1191.6h0M1677.9 1186.6h0M1678.4 1187.0h0M1678.9 1192.9h0M1679.4 1198.5h0M1679.8 1195.3h0M1680.3 1192.7h0M1680.8 1193.1h0M1681.2 1191.2h0M1681.7 1198.2h0M1682.2 1198.4h0M1682.7 1197.7h0M1683.1 1192.9h0M1683.6 1191.5h0M1684.1 1194.0h0M1684.5 1186.8h0M1685.0 1189.0h0M1685.5 1195.9h0M1686.0 1197.9h0M1686.4 1196.9h0M1686.9 1197.6h0M1687.4 1194.6h0M1687.8 1185.7h0M1688.3 1192.1h0M1688.8 1193.5h0M1689.3 1191.3h0M1689.7 1192.9h0M1690.2 1187.6h0M1690.7 1185.8h0M1691.1 1188.9h0M1691.6 1193.3h0M1692.1 1193.9h0M1692.6 1195.3h0M1693.0 1191.5h0M1693.5 1199.1h0M1694.0 1194.4h0M1694.4 1192.2h0M1694.9 1193.8h0M1695.4 1191.4h0M1695.8 1194.3h0M1696.3 1193.5h0M1696.8 1193.1h0M1697.3 1195.6h0M1697.7 1195.9h0M1698.2 1199.1h0M1698.7 1197.7h0M1699.1 1194.3h0M1699.6 1193.1h0M1700.1 1194.1h0M1700.6 1187.5h0M1701.0 1189.7h0M1701.5 1187.3h0M1702.0 1185.7h0M1702.4 1194.0h0M1702.9 1188.5h0M1703.4 1191.7h0M1703.9 1194.3h0M1704.3 1189.5h0M1704.8 1188.9h0M1705.3 1185.8h0M1705.7 1191.2h0M1706.2 1189.6h0M1706.7 1189.9h0M1707.2 1188.8h0M1707.6 1189.3h0M1708.1 1191.5h0M1708.6 1196.3h0M1709.0 1194.2h0M1709.5 1197.3h0M1710.0 1198.7h0M1710.5 1200.7h0M1710.9 1191.9h0M1711.4 1192.2h0M1711.9 1190.8h0M1712.3 1186.3h0M1712.8 1189.2h0M1713.3 1188.1h0M1713.8 1186.8h0M1714.2 1192.1h0M1714.7 1191.9h0M1715.2 1197.1h0M1715.6 1193.0h0M1716.1 1194.1h0M1716.6 1195.2h0M1717.1 1193.7h0M1717.5 1190.4h0M1718.0 1189.2h0M1718.5 1185.8h0M1718.9 1188.7h0M1719.4 1185.6h0M1719.9 1187.8h0M1720.4 1189.3h0M1720.8 1192.6h0M1721.3 1194.1h0M1721.8 1195.4h0M1722.2 1193.4h0M1722.7 1191.8h0M1723.2 1198.6h0M1723.7 1201.5h0M1724.1 1195.9h0M1724.6 1196.9h0M1725.1 1193.5h0M1725.5 1199.4h0M1726.0 1191.3h0M1726.5 1198.8h0M1727.0 1200.2h0M1727.4 1192.5h0M1727.9 1186.0h0M1728.4 1186.9h0M1728.8 1189.9h0M1729.3 1189.2h0M1729.8 1187.5h0M1730.3 1188.4h0M1730.7 1195.4h0M1731.2 1196.5h0M1731.7 1196.1h0M1732.1 1194.5h0M1732.6 1193.0h0M1733.1 1199.5h0M1733.6 1200.4h0M1734.0 1200.0h0M1734.5 1199.8h0M1735.0 1201.8h0M1735.4 1200.0h0M1735.9 1201.3h0M1736.4 1201.0h0M1736.9 1198.1h0M1737.3 1190.0h0M1737.8 1186.2h0M1738.3 1195.8h0M1738.7 1194.0h0M1739.2 1199.6h0M1739.7 1201.8h0M1740.2 1193.1h0M1740.6 1188.2h0M1741.1 1188.7h0M1741.6 1187.0h0M1742.0 1186.9h0M1742.5 1187.8h0M1743.0 1198.6h0M1743.5 1197.7h0M1743.9 1189.7h0M1744.4 1186.7h0M1744.9 1194.2h0M1745.3 1195.4h0M1745.8 1198.2h0M1746.3 1201.3h0M1746.7 1202.4h0M1747.2 1199.8h0M1747.7 1195.0h0M1748.2 1191.6h0M1748.6 1190.2h0M1749.1 1195.3h0M1749.6 1188.1h0M1750.0 1191.9h0M1750.5 1187.0h0M1751.0 1188.8h0M1751.5 1187.8h0M1751.9 1191.0h0M1752.4 1190.5h0M1752.9 1195.3h0M1753.3 1190.6h0M1753.8 1189.6h0M1754.3 1193.9h0M1754.8 1195.0h0M1755.2 1195.2h0M1755.7 1189.9h0M1756.2 1196.1h0M1756.6 1191.1h0M1757.1 1186.9h0M1757.6 1194.8h0M1758.1 1200.9h0M1758.5 1200.0h0M1759.0 1191.8h0M1759.5 1198.6h0M1759.9 1193.7h0M1760.4 1193.6h0M1760.9 1191.6h0M1761.4 1191.8h0M1761.8 1193.5h0M1762.3 1191.5h0M1762.8 1190.2h0M1763.2 1194.8h0M1763.7 1196.3h0M1764.2 1203.5h0M1764.7 1203.5h0M1765.1 1195.3h0M1765.6 1197.7h0M1766.1 1200.6h0M1766.5 1203.1h0M1767.0 1200.8h0M1767.5 1201.8h0M1768.0 1193.1h0M1768.4 1193.4h0M1768.9 1191.8h0M1769.4 1200.9h0M1769.8 1198.8h0M1770.3 1200.9h0M1770.8 1202.8h0M1771.3 1193.5h0M1771.7 1190.5h0M1772.2 1190.7h0M1772.7 1190.4h0M1773.1 1194.2h0M1773.6 1201.9h0M1774.1 1202.8h0M1774.6 1202.9h0M1775.0 1196.7h0M1775.5 1193.9h0M1776.0 1192.7h0M1776.4 1195.3h0M1776.9 1204.0h0M1777.4 1201.5h0M1777.9 1199.1h0M1778.3 1196.2h0M1778.8 1202.3h0M1779.3 1198.9h0M1779.7 1196.2h0M1780.2 1202.6h0M1780.7 1200.5h0M1781.2 1202.7h0M1781.6 1201.3h0M1782.1 1197.7h0M1782.6 1192.5h0M1783.0 1194.3h0M1783.5 1196.1h0M1784.0 1198.9h0M1784.5 1198.3h0M1784.9 1195.7h0M1785.4 1200.4h0M1785.9 1201.1h0M1786.3 1195.0h0M1786.8 1195.6h0M1787.3 1197.2h0M1787.8 1194.3h0M1788.2 1198.2h0M1788.7 1198.0h0M1789.2 1201.0h0M1789.6 1203.5h0M1790.1 1199.4h0M1790.6 1202.0h0M1791.1 1204.5h0M1791.5 1200.2h0M1792.0 1201.0h0M1792.5 1204.3h0M1792.9 1202.7h0M1793.4 1202.0h0M1793.9 1202.0h0M1794.4 1203.7h0M1794.8 1201.9h0M1795.3 1198.3h0M1795.8 1198.9h0M1796.2 1196.9h0M1796.7 1195.9h0M1797.2 1201.2h0M1797.6 1201.2h0M1798.1 1193.5h0M1798.6 1194.0h0M1799.1 1195.4h0M1799.5 1192.7h0M1800.0 1194.0h0M1800.5 1193.1h0M1800.9 1189.8h0M1801.4 1197.6h0M1801.9 1204.8h0M1802.4 1204.1h0M1802.8 1198.1h0M1803.3 1198.8h0M1803.8 1196.5h0M1804.2 1198.6h0M1804.7 1199.4h0M1805.2 1192.5h0M1805.7 1197.0h0M1806.1 1199.6h0M1806.6 1201.0h0M1807.1 1192.6h0M1807.5 1198.3h0M1808.0 1201.7h0M1808.5 1202.4h0M1809.0 1195.1h0M1809.4 1191.9h0M1809.9 1194.8h0M1810.4 1197.5h0M1810.8 1199.4h0M1811.3 1204.6h0M1811.8 1205.3h0M1812.3 1201.3h0M1812.7 1201.5h0M1813.2 1202.7h0M1813.7 1202.5h0M1814.1 1202.9h0M1814.6 1198.5h0M1815.1 1199.9h0M1815.6 1194.0h0M1816.0 1195.5h0M1816.5 1200.4h0M1817.0 1201.1h0M1817.4 1203.4h0M1817.9 1202.8h0M1818.4 1202.6h0M1818.9 1194.5h0M1819.3 1191.3h0M1819.8 1193.7h0M1820.3 1190.7h0M1820.7 1193.6h0M1821.2 1196.0h0M1821.7 1198.0h0M1822.2 1191.4h0M1822.6 1191.0h0M1823.1 1192.0h0M1823.6 1195.0h0M1824.0 1198.8h0M1824.5 1201.4h0M1825.0 1198.5h0M1825.5 1198.7h0M1825.9 1195.7h0M1826.4 1199.4h0M1826.9 1205.4h0M1827.3 1200.6h0M1827.8 1197.6h0M1828.3 1195.3h0M1828.8 1191.4h0M1829.2 1193.8h0M1829.7 1192.3h0M1830.2 1200.7h0M1830.6 1197.9h0M1831.1 1195.1h0M1831.6 1196.0h0M1832.1 1195.4h0M1832.5 1191.6h0M1833.0 1191.5h0M1833.5 1204.7h0M1833.9 1203.7h0M1834.4 1205.8h0M1834.9 1206.8h0M1835.4 1203.5h0M1835.8 1201.7h0M1836.3 1206.9h0M1836.8 1199.9h0M1837.2 1197.9h0M1837.7 1193.1h0M1838.2 1192.3h0M1838.7 1200.2h0M1839.1 1205.5h0M1839.6 1204.0h0M1840.1 1197.8h0M1840.5 1193.6h0M1841.0 1191.6h0M1841.5 1194.6h0M1842.0 1193.6h0M1842.4 1201.8h0M1842.9 1206.4h0M1843.4 1206.1h0M1843.8 1204.0h0M1844.3 1193.8h0M1844.8 1193.7h0M1845.2 1195.3h0M1845.7 1199.4h0M1846.2 1203.6h0M1846.7 1205.8h0M1847.1 1207.2h0M1847.6 1206.8h0M1848.1 1202.6h0M1848.5 1197.2h0M1849.0 1205.3h0M1849.5 1201.3h0M1850.0 1199.4h0M1850.4 1201.1h0M1850.9 1200.8h0M1851.4 1200.4h0M1851.8 1200.3h0M1852.3 1196.0h0M1852.8 1199.0h0M1853.3 1199.1h0M1853.7 1201.4h0M1854.2 1203.1h0M1854.7 1202.2h0M1855.1 1193.0h0M1855.6 1193.0h0M1856.1 1196.1h0M1856.6 1194.1h0M1857.0 1199.3h0M1857.5 1197.0h0M1858.0 1204.5h0M1858.4 1204.1h0M1858.9 1204.5h0M1859.4 1197.2h0M1859.9 1205.0h0M1860.3 1198.1h0M1860.8 1192.4h0M1861.3 1194.3h0M1861.7 1193.8h0M1862.2 1204.1h0M1862.7 1202.1h0M1863.2 1201.7h0M1863.6 1197.6h0M1864.1 1201.0h0M1864.6 1194.1h0M1865.0 1197.7h0M1865.5 1206.9h0M1866.0 1197.5h0M1866.5 1193.3h0M1866.9 1195.8h0M1867.4 1196.0h0M1867.9 1199.0h0M1868.3 1197.5h0M1868.8 1198.2h0M1869.3 1194.5h0M1869.8 1193.1h0M1870.2 1193.5h0M1870.7 1194.6h0M1871.2 1194.4h0M1871.6 1194.6h0M1872.1 1198.6h0M1872.6 1198.4h0M1873.1 1197.7h0M1873.5 1196.5h0M1874.0 1204.2h0M1874.5 1200.6h0M1874.9 1202.4h0M1875.4 1208.7h0M1875.9 1207.8h0M1876.4 1200.6h0M1876.8 1200.2h0M1877.3 1199.8h0M1877.8 1194.7h0M1878.2 1199.2h0M1878.7 1200.0h0M1879.2 1194.7h0M1879.7 1196.3h0M1880.1 1195.0h0M1880.6 1198.2h0M1881.1 1195.9h0M1881.5 1197.6h0M1882.0 1202.0h0M1882.5 1197.6h0M1883.0 1206.8h0M1883.4 1201.3h0M1883.9 1201.4h0M1884.4 1204.7h0M1884.8 1208.7h0M1885.3 1203.1h0M1885.8 1205.5h0M1886.3 1201.1h0M1886.7 1195.8h0M1887.2 1196.0h0M1887.7 1203.3h0M1888.1 1197.7h0M1888.6 1197.4h0M1889.1 1199.7h0M1889.6 1196.6h0M1890.0 1195.4h0M1890.5 1197.7h0M1891.0 1201.6h0M1891.4 1201.5h0M1891.9 1200.8h0M1892.4 1201.2h0M1892.9 1195.8h0M1893.3 1200.5h0M1893.8 1199.3h0M1894.3 1199.4h0M1894.7 1210.9h0M1895.2 1205.7h0M1895.7 1209.7h0M1896.1 1198.4h0M1896.6 1196.8h0M1897.1 1199.3h0M1897.6 1202.3h0M1898.0 1204.5h0M1898.5 1210.5h0M1899.0 1211.1h0M1899.4 1211.8h0M1899.9 1210.0h0M1900.4 1200.1h0M1900.9 1201.4h0M1901.3 1205.6h0M1901.8 1211.7h0M1902.3 1210.5h0M1902.7 1208.0h0M1903.2 1206.1h0M1903.7 1206.8h0M1904.2 1200.7h0M1904.6 1197.8h0M1905.1 1211.2h0M1905.6 1210.0h0M1906.0 1205.4h0M1906.5 1200.5h0M1907.0 1202.4h0M1907.5 1197.5h0M1907.9 1197.8h0M1908.4 1198.7h0M1908.9 1205.2h0M1909.3 1204.5h0M1909.8 1205.6h0M1910.3 1206.7h0M1910.8 1201.5h0M1911.2 1210.3h0M1911.7 1210.7h0M1912.2 1207.0h0M1912.6 1208.9h0M1913.1 1211.2h0M1913.6 1202.7h0M1914.1 1207.4h0M1914.5 1203.7h0M1915.0 1200.9h0M1915.5 1200.1h0M1915.9 1199.5h0M1916.4 1196.3h0M1916.9 1199.1h0M1917.4 1196.9h0M1917.8 1199.3h0M1918.3 1203.5h0M1918.8 1213.1h0M1919.2 1207.5h0M1919.7 1207.0h0M1920.2 1210.8h0M1920.7 1207.0h0M1921.1 1213.4h0M1921.6 1205.3h0M1922.1 1201.3h0M1922.5 1199.0h0M1923.0 1200.2h0M1923.5 1203.1h0M1924.0 1204.4h0M1924.4 1203.9h0M1924.9 1198.3h0M1925.4 1197.8h0M1925.8 1199.3h0M1926.3 1201.6h0M1926.8 1203.0h0M1927.3 1201.0h0M1927.7 1200.9h0M1928.2 1209.7h0M1928.7 1213.8h0M1929.1 1209.3h0M1929.6 1197.0h0M1930.1 1203.1h0M1930.6 1198.2h0M1931.0 1206.9h0M1931.5 1202.3h0M1932.0 1205.8h0M1932.4 1208.4h0M1932.9 1210.2h0M1933.4 1211.6h0M1933.9 1206.9h0M1934.3 1214.2h0M1934.8 1205.3h0M1935.3 1206.2h0M1935.7 1213.0h0M1936.2 1214.3h0M1936.7 1213.0h0M1937.2 1209.1h0M1937.6 1206.1h0M1938.1 1209.7h0M1938.6 1200.3h0M1939.0 1206.0h0M1939.5 1197.7h0M1940.0 1200.8h0M1940.5 1199.5h0M1940.9 1209.0h0M1941.4 1206.6h0M1941.9 1212.8h0M1942.3 1214.1h0M1942.8 1215.3h0M1943.3 1209.0h0M1943.8 1213.5h0M1944.2 1215.2h0M1944.7 1213.9h0M1945.2 1209.8h0M1945.6 1214.1h0M1946.1 1211.6h0M1946.6 1214.3h0M1947.0 1216.5h0M1947.5 1216.6h0M1948.0 1214.5h0M1948.5 1208.6h0M1948.9 1207.3h0M1949.4 1212.4h0M1949.9 1216.1h0M1950.3 1216.3h0M1950.8 1210.6h0M1951.3 1217.3h0M1951.8 1215.8h0M1952.2 1210.9h0M1952.7 1207.0h0M1953.2 1204.6h0M1953.6 1206.5h0M1954.1 1209.3h0M1954.6 1207.5h0M1955.1 1217.8h0M1955.5 1213.2h0M1956.0 1203.0h0M1956.5 1215.2h0M1956.9 1218.1h0M1957.4 1215.1h0M1957.9 1210.1h0M1958.4 1212.1h0M1958.8 1213.0h0M1959.3 1212.2h0M1959.8 1212.7h0M1960.2 1211.7h0M1960.7 1204.2h0M1961.2 1209.6h0M1961.7 1212.0h0M1962.1 1210.7h0M1962.6 1219.9h0M1963.1 1214.1h0M1963.5 1216.4h0M1964.0 1214.5h0M1964.5 1220.8h0M1965.0 1220.7h0M1965.4 1214.5h0M1965.9 1218.8h0M1966.4 1212.6h0M1966.8 1208.2h0M1967.3 1215.8h0M1967.8 1220.7h0M1968.3 1220.8h0M1968.7 1221.3h0M1969.2 1217.8h0M1969.7 1208.7h0M1970.1 1209.3h0M1970.6 1214.8h0M1971.1 1213.6h0M1971.6 1220.8h0M1972.0 1216.4h0M1972.5 1214.9h0M1973.0 1206.2h0M1973.4 1205.5h0M1973.9 1214.6h0M1974.4 1212.8h0M1974.9 1215.9h0M1975.3 1217.9h0M1975.8 1223.1h0M1976.3 1221.4h0M1976.7 1220.5h0M1977.2 1221.0h0M1977.7 1215.4h0M1978.2 1219.1h0M1978.6 1222.0h0M1979.1 1223.7h0M1979.6 1218.8h0M1980.0 1212.9h0M1980.5 1211.3h0M1981.0 1206.9h0M1981.5 1215.5h0M1981.9 1216.4h0M1982.4 1222.2h0M1982.9 1221.2h0M1983.3 1210.8h0M1983.8 1209.6h0M1984.3 1215.3h0M1984.8 1219.0h0M1985.2 1222.1h0M1985.7 1221.1h0M1986.2 1225.7h0M1986.6 1223.4h0M1987.1 1224.9h0M1987.6 1216.8h0M1988.1 1224.4h0M1988.5 1219.9h0M1989.0 1222.9h0M1989.5 1225.3h0M1989.9 1218.3h0M1990.4 1220.3h0M1990.9 1225.0h0M1991.4 1213.4h0M1991.8 1225.3h0M1992.3 1223.0h0M1992.8 1218.2h0M1993.2 1224.8h0M1993.7 1225.2h0M1994.2 1219.3h0M1994.6 1219.9h0M1995.1 1225.1h0M1995.6 1226.9h0M1996.1 1220.9h0M1996.5 1223.1h0M1997.0 1219.6h0M1997.5 1220.3h0M1997.9 1220.0h0M1998.4 1217.7h0M1998.9 1222.2h0M1999.4 1220.7h0M1999.8 1217.3h0M2000.3 1210.7h0M2000.8 1216.1h0M2001.2 1222.0h0M2001.7 1220.8h0M2002.2 1220.1h0M2002.7 1213.9h0M2003.1 1216.9h0M2003.6 1217.9h0M2004.1 1209.2h0M2004.5 1209.3h0M2005.0 1212.7h0M2005.5 1214.5h0M2006.0 1210.8h0M2006.4 1224.5h0M2006.9 1215.6h0M2007.4 1209.9h0M2007.8 1215.0h0M2008.3 1218.8h0M2008.8 1218.4h0M2009.3 1214.2h0M2009.7 1215.5h0M2010.2 1229.0h0M2010.7 1229.4h0M2011.1 1215.6h0M2011.6 1214.6h0M2012.1 1222.4h0M2012.6 1230.0h0M2013.0 1230.1h0M2013.5 1225.9h0M2014.0 1229.0h0M2014.4 1227.2h0M2014.9 1227.0h0M2015.4 1230.1h0M2015.9 1217.6h0M2016.3 1212.2h0M2016.8 1212.6h0M2017.3 1213.1h0M2017.7 1221.1h0M2018.2 1219.7h0M2018.7 1219.7h0M2019.2 1229.7h0M1200.3 1178.9h0M1210.7 1180.0h0M1855.4 1198.1h0" stroke="#a96be4" stroke-width="5.8" stroke-linecap="round" fill="none"/>
<path d="M1171.3 1164.4h0M1171.6 1163.5h0M1172.0 1163.8h0M1172.3 1160.9h0M1172.6 1156.9h0M1172.9 1158.6h0M1173.3 1160.9h0M1173.6 1160.5h0M1173.9 1158.4h0M1174.2 1158.4h0M1174.6 1158.3h0M1174.9 1160.3h0M1175.2 1157.4h0M1175.5 1158.7h0M1175.9 1156.9h0M1176.2 1163.8h0M1176.5 1159.8h0M1176.8 1160.8h0M1177.2 1156.2h0M1177.5 1158.3h0M1177.8 1159.3h0M1178.2 1156.5h0M1178.5 1157.5h0M1178.8 1159.1h0M1179.1 1160.7h0M1179.5 1158.3h0M1179.8 1160.0h0M1180.1 1156.5h0M1180.4 1156.0h0M1180.8 1156.4h0M1181.1 1160.6h0M1181.4 1159.9h0M1181.7 1158.9h0M1182.1 1158.9h0M1182.4 1157.1h0M1182.7 1159.2h0M1183.0 1161.2h0M1183.4 1158.4h0M1183.7 1156.9h0M1184.0 1157.4h0M1184.3 1161.6h0M1184.7 1159.6h0M1185.0 1165.9h0M1185.3 1162.5h0M1185.7 1165.5h0M1186.0 1166.2h0M1186.3 1164.0h0M1186.6 1162.8h0M1187.0 1162.1h0M1187.3 1161.0h0M1187.6 1163.4h0M1187.9 1161.7h0M1188.3 1165.5h0M1188.6 1164.1h0M1188.9 1159.5h0M1189.2 1158.7h0M1189.6 1159.9h0M1189.9 1164.7h0M1190.2 1161.2h0M1190.5 1158.6h0M1190.9 1159.9h0M1191.2 1155.7h0M1191.5 1157.7h0M1191.9 1158.6h0M1192.2 1162.0h0M1192.5 1161.5h0M1192.8 1164.5h0M1193.2 1155.8h0M1193.5 1159.8h0M1193.8 1159.9h0M1194.1 1158.3h0M1194.5 1166.6h0M1194.8 1165.3h0M1195.1 1163.7h0M1195.4 1167.2h0M1195.8 1162.0h0M1196.1 1161.2h0M1196.4 1167.5h0M1196.7 1160.5h0M1197.1 1164.9h0M1197.4 1166.9h0M1197.7 1164.5h0M1198.1 1163.2h0M1198.4 1166.8h0M1198.7 1164.6h0M1199.0 1167.4h0M1199.4 1163.9h0M1199.7 1161.0h0M1200.0 1163.5h0M1200.3 1163.8h0M1200.7 1165.4h0M1201.0 1164.2h0M1201.3 1160.6h0M1201.6 1155.1h0M1202.0 1160.6h0M1202.3 1157.8h0M1202.6 1158.2h0M1202.9 1159.4h0M1203.3 1161.2h0M1203.6 1163.7h0M1203.9 1158.9h0M1204.2 1157.8h0M1204.6 1155.5h0M1204.9 1156.1h0M1205.2 1157.5h0M1205.6 1156.6h0M1205.9 1159.6h0M1206.2 1162.6h0M1206.5 1163.3h0M1206.9 1158.8h0M1207.2 1159.8h0M1207.5 1159.1h0M1207.8 1163.0h0M1208.2 1164.0h0M1208.5 1161.9h0M1208.8 1166.0h0M1209.1 1167.3h0M1209.5 1165.3h0M1209.8 1155.1h0M1210.1 1158.5h0M1210.4 1158.5h0M1210.8 1158.8h0M1211.1 1160.8h0M1211.4 1162.4h0M1211.8 1165.6h0M1212.1 1162.1h0M1212.4 1157.9h0M1212.7 1158.9h0M1213.1 1161.8h0M1213.4 1163.7h0M1213.7 1166.9h0M1214.0 1164.6h0M1214.4 1165.6h0M1214.7 1160.5h0M1215.0 1164.0h0M1215.3 1162.6h0M1215.7 1157.1h0M1216.0 1156.9h0M1216.3 1156.6h0M1216.6 1160.1h0M1217.0 1156.5h0M1217.3 1157.1h0M1217.6 1161.0h0M1218.0 1165.8h0M1218.3 1165.3h0M1218.6 1168.1h0M1218.9 1167.7h0M1219.3 1162.1h0M1219.6 1162.3h0M1219.9 1168.2h0M1220.2 1159.8h0M1220.6 1157.1h0M1220.9 1159.6h0M1221.2 1159.0h0M1221.5 1160.8h0M1221.9 1167.0h0M1222.2 1167.3h0M1222.5 1164.0h0M1222.8 1166.3h0M1223.2 1157.9h0M1223.5 1159.8h0M1223.8 1164.4h0M1224.1 1162.1h0M1224.5 1163.4h0M1224.8 1167.4h0M1225.1 1167.0h0M1225.5 1166.1h0M1225.8 1167.4h0M1226.1 1165.3h0M1226.4 1166.1h0M1226.8 1159.6h0M1227.1 1161.9h0M1227.4 1160.1h0M1227.7 1162.9h0M1228.1 1163.4h0M1228.4 1165.7h0M1228.7 1161.8h0M1229.0 1156.7h0M1229.4 1158.0h0M1229.7 1159.2h0M1230.0 1157.9h0M1230.3 1157.5h0M1230.7 1156.0h0M1231.0 1158.0h0M1231.3 1162.6h0M1231.7 1165.7h0M1232.0 1158.8h0M1232.3 1156.5h0M1232.6 1167.0h0M1233.0 1167.1h0M1233.3 1167.3h0M1233.6 1161.1h0M1233.9 1163.6h0M1234.3 1163.8h0M1234.6 1163.9h0M1234.9 1166.7h0M1235.2 1160.4h0M1235.6 1157.0h0M1235.9 1160.1h0M1236.2 1162.1h0M1236.5 1165.8h0M1236.9 1158.1h0M1237.2 1155.8h0M1237.5 1155.2h0M1237.8 1155.2h0M1238.2 1155.6h0M1238.5 1154.8h0M1238.8 1157.6h0M1239.2 1157.4h0M1239.5 1155.3h0M1239.8 1157.6h0M1240.1 1156.2h0M1240.5 1154.8h0M1240.8 1160.0h0M1241.1 1165.2h0M1241.4 1168.4h0M1241.8 1167.0h0M1242.1 1166.0h0M1242.4 1161.5h0M1242.7 1162.1h0M1243.1 1157.0h0M1243.4 1161.5h0M1243.7 1159.3h0M1244.0 1157.8h0M1244.4 1165.4h0M1244.7 1158.7h0M1245.0 1159.3h0M1245.4 1156.7h0M1245.7 1158.2h0M1246.0 1158.2h0M1246.3 1156.5h0M1246.7 1159.6h0M1247.0 1157.5h0M1247.3 1158.5h0M1247.6 1162.3h0M1248.0 1169.1h0M1248.3 1165.2h0M1248.6 1164.4h0M1248.9 1159.7h0M1249.3 1160.5h0M1249.6 1162.2h0M1249.9 1154.5h0M1250.2 1154.4h0M1250.6 1160.2h0M1250.9 1168.2h0M1251.2 1162.2h0M1251.6 1163.4h0M1251.9 1162.5h0M1252.2 1166.9h0M1252.5 1167.1h0M1252.9 1162.2h0M1253.2 1165.5h0M1253.5 1165.2h0M1253.8 1163.4h0M1254.2 1163.5h0M1254.5 1158.3h0M1254.8 1161.8h0M1255.1 1158.6h0M1255.5 1163.8h0M1255.8 1160.1h0M1256.1 1155.4h0M1256.4 1155.4h0M1256.8 1160.8h0M1257.1 1163.5h0M1257.4 1167.7h0M1257.7 1168.8h0M1258.1 1164.7h0M1258.4 1166.8h0M1258.7 1166.0h0M1259.1 1163.3h0M1259.4 1161.9h0M1259.7 1167.3h0M1260.0 1163.6h0M1260.4 1161.6h0M1260.7 1165.0h0M1261.0 1166.5h0M1261.3 1163.0h0M1261.7 1161.9h0M1262.0 1157.5h0M1262.3 1154.7h0M1262.6 1165.1h0M1263.0 1168.6h0M1263.3 1165.2h0M1263.6 1167.5h0M1263.9 1159.2h0M1264.3 1161.6h0M1264.6 1159.7h0M1264.9 1164.4h0M1265.3 1162.3h0M1265.6 1158.7h0M1265.9 1155.5h0M1266.2 1153.9h0M1266.6 1154.6h0M1266.9 1154.1h0M1267.2 1158.5h0M1267.5 1160.8h0M1267.9 1159.8h0M1268.2 1156.4h0M1268.5 1157.0h0M1268.8 1159.5h0M1269.2 1161.0h0M1269.5 1166.4h0M1269.8 1162.8h0M1270.1 1159.6h0M1270.5 1164.8h0M1270.8 1162.3h0M1271.1 1162.7h0M1271.5 1165.3h0M1271.8 1163.0h0M1272.1 1167.8h0M1272.4 1160.7h0M1272.8 1159.4h0M1273.1 1162.3h0M1273.4 1159.9h0M1273.7 1164.5h0M1274.1 1166.2h0M1274.4 1168.2h0M1274.7 1164.6h0M1275.0 1160.2h0M1275.4 1166.5h0M1275.7 1163.6h0M1276.0 1169.0h0M1276.3 1162.3h0M1276.7 1157.9h0M1277.0 1157.3h0M1277.3 1162.3h0M1277.6 1169.2h0M1278.0 1164.1h0M1278.3 1167.2h0M1278.6 1169.1h0M1279.0 1164.9h0M1279.3 1164.6h0M1279.6 1166.4h0M1279.9 1171.5h0M1280.3 1164.9h0M1280.6 1168.8h0M1280.9 1167.7h0M1281.2 1172.4h0M1281.6 1175.1h0M1281.9 1175.5h0M1282.2 1173.4h0M1282.5 1168.5h0M1282.9 1172.7h0M1283.2 1162.8h0M1283.5 1169.5h0M1283.8 1166.5h0M1284.2 1166.1h0M1284.5 1171.0h0M1284.8 1173.8h0M1285.2 1176.0h0M1285.5 1175.3h0M1285.8 1168.0h0M1286.1 1167.5h0M1286.5 1168.1h0M1286.8 1172.3h0M1287.1 1178.8h0M1287.4 1173.3h0M1287.8 1169.2h0M1288.1 1176.7h0M1288.4 1170.0h0M1288.7 1171.4h0M1289.1 1171.9h0M1289.4 1177.8h0M1289.7 1183.5h0M1290.0 1175.9h0M1290.4 1179.4h0M1290.7 1183.2h0M1291.0 1180.3h0M1291.4 1181.1h0M1291.7 1177.2h0M1292.0 1176.5h0M1292.3 1175.3h0M1292.7 1177.6h0M1293.0 1179.2h0M1293.3 1181.9h0M1293.6 1177.8h0M1294.0 1178.3h0M1294.3 1177.2h0M1294.6 1173.0h0M1294.9 1178.4h0M1295.3 1181.1h0M1295.6 1174.7h0M1295.9 1173.5h0M1296.2 1170.6h0M1296.6 1172.0h0M1296.9 1173.2h0M1297.2 1169.4h0M1297.5 1176.9h0M1297.9 1170.0h0M1298.2 1171.5h0M1298.5 1169.8h0M1298.9 1168.4h0M1299.2 1175.0h0M1299.5 1172.5h0M1299.8 1176.8h0M1300.2 1172.7h0M1300.5 1175.8h0M1300.8 1174.1h0M1301.1 1162.6h0M1301.5 1165.1h0M1301.8 1165.6h0M1302.1 1169.2h0M1302.4 1173.6h0M1302.8 1166.7h0M1303.1 1167.9h0M1303.4 1161.9h0M1303.7 1165.5h0M1304.1 1167.2h0M1304.4 1168.5h0M1304.7 1168.2h0M1305.1 1168.8h0M1305.4 1170.1h0M1305.7 1159.9h0M1306.0 1157.6h0M1306.4 1155.4h0M1306.7 1156.5h0M1307.0 1161.2h0M1307.3 1167.0h0M1307.7 1170.5h0M1308.0 1168.4h0M1308.3 1164.8h0M1308.6 1156.4h0M1309.0 1152.9h0M1309.3 1154.5h0M1309.6 1156.8h0M1309.9 1157.2h0M1310.3 1164.7h0M1310.6 1161.3h0M1310.9 1162.4h0M1311.3 1163.6h0M1311.6 1168.2h0M1311.9 1161.6h0M1312.2 1164.4h0M1312.6 1156.0h0M1312.9 1154.8h0M1313.2 1158.0h0M1313.5 1154.1h0M1313.9 1154.7h0M1314.2 1159.9h0M1314.5 1159.0h0M1314.8 1156.0h0M1315.2 1154.1h0M1315.5 1160.0h0M1315.8 1155.5h0M1316.1 1156.5h0M1316.5 1158.8h0M1316.8 1157.9h0M1317.1 1164.9h0M1317.4 1168.9h0M1317.8 1166.4h0M1318.1 1165.6h0M1318.4 1168.8h0M1318.8 1169.1h0M1319.1 1170.7h0M1319.4 1167.6h0M1319.7 1163.1h0M1320.1 1158.6h0M1320.4 1159.7h0M1320.7 1169.3h0M1321.0 1170.3h0M1321.4 1170.0h0M1321.7 1170.2h0M1322.0 1163.8h0M1322.3 1163.9h0M1322.7 1165.4h0M1323.0 1165.2h0M1323.3 1159.8h0M1323.6 1159.2h0M1324.0 1154.0h0M1324.3 1157.2h0M1324.6 1159.8h0M1325.0 1165.7h0M1325.3 1158.3h0M1325.6 1157.1h0M1325.9 1158.0h0M1326.3 1165.8h0M1326.6 1167.9h0M1326.9 1160.0h0M1327.2 1164.4h0M1327.6 1158.3h0M1327.9 1160.6h0M1328.2 1160.0h0M1328.5 1152.8h0M1328.9 1162.2h0M1329.2 1160.0h0M1329.5 1170.2h0M1329.8 1167.9h0M1330.2 1170.0h0M1330.5 1170.5h0M1330.8 1157.1h0M1331.1 1155.8h0M1331.5 1153.0h0M1331.8 1154.3h0M1332.1 1155.0h0M1332.5 1168.2h0M1332.8 1167.3h0M1333.1 1159.4h0M1333.4 1152.6h0M1333.8 1151.6h0M1334.1 1165.1h0M1334.4 1166.0h0M1334.7 1168.3h0M1335.1 1166.0h0M1335.4 1165.3h0M1335.7 1169.2h0M1336.0 1163.5h0M1336.4 1155.6h0M1336.7 1151.0h0M1337.0 1155.8h0M1337.3 1160.3h0M1337.7 1161.6h0M1338.0 1155.4h0M1338.3 1157.3h0M1338.7 1155.4h0M1339.0 1158.1h0M1339.3 1161.5h0M1339.6 1164.2h0M1340.0 1170.5h0M1340.3 1166.8h0M1340.6 1162.3h0M1340.9 1155.4h0M1341.3 1160.6h0M1341.6 1158.0h0M1341.9 1170.3h0M1342.2 1170.1h0M1342.6 1163.4h0M1342.9 1169.7h0M1343.2 1165.9h0M1343.5 1164.8h0M1343.9 1170.5h0M1344.2 1165.0h0M1344.5 1169.9h0M1344.9 1165.5h0M1345.2 1158.9h0M1345.5 1164.0h0M1345.8 1160.5h0M1346.2 1161.9h0M1346.5 1168.6h0M1346.8 1169.4h0M1347.1 1164.9h0M1347.5 1158.3h0M1347.8 1163.2h0M1348.1 1162.8h0M1348.4 1161.1h0M1348.8 1154.8h0M1349.1 1150.0h0M1349.4 1153.7h0M1349.7 1153.4h0M1350.1 1156.6h0M1350.4 1157.4h0M1350.7 1162.6h0M1351.0 1160.4h0M1351.4 1164.6h0M1351.7 1162.2h0M1352.0 1169.2h0M1352.4 1162.2h0M1352.7 1158.9h0M1353.0 1166.8h0M1353.3 1159.2h0M1353.7 1162.2h0M1354.0 1169.3h0M1354.3 1169.5h0M1354.6 1169.3h0M1355.0 1161.0h0M1355.3 1157.8h0M1355.6 1154.5h0M1355.9 1163.0h0M1356.3 1150.2h0M1356.6 1154.2h0M1356.9 1150.5h0M1357.2 1153.0h0M1357.6 1154.2h0M1357.9 1154.6h0M1358.2 1149.9h0M1358.6 1156.3h0M1358.9 1150.0h0M1359.2 1155.7h0M1359.5 1162.1h0M1359.9 1163.2h0M1360.2 1156.8h0M1360.5 1163.3h0M1360.8 1159.6h0M1361.2 1166.2h0M1361.5 1150.0h0M1361.8 1155.8h0M1362.1 1154.1h0M1362.5 1148.9h0M1362.8 1158.5h0M1363.1 1169.6h0M1363.4 1169.3h0M1363.8 1153.1h0M1364.1 1150.4h0M1364.4 1149.8h0M1364.8 1152.1h0M1365.1 1149.1h0M1365.4 1150.2h0M1365.7 1149.7h0M1366.1 1159.4h0M1366.4 1162.5h0M1366.7 1155.7h0M1367.0 1166.1h0M1367.4 1169.0h0M1367.7 1167.9h0M1368.0 1156.5h0M1368.3 1156.3h0M1368.7 1164.1h0M1369.0 1164.7h0M1369.3 1150.7h0M1369.6 1156.5h0M1370.0 1155.5h0M1370.3 1167.6h0M1370.6 1162.2h0M1370.9 1149.4h0M1371.3 1148.0h0M1371.6 1151.6h0M1371.9 1160.4h0M1372.3 1161.4h0M1372.6 1162.2h0M1372.9 1161.1h0M1373.2 1158.4h0M1373.6 1160.5h0M1373.9 1160.1h0M1374.2 1163.5h0M1374.5 1152.2h0M1374.9 1156.4h0M1375.2 1160.9h0M1375.5 1167.1h0M1375.8 1162.1h0M1376.2 1165.4h0M1376.5 1161.5h0M1376.8 1166.3h0M1377.1 1161.9h0M1377.5 1159.6h0M1377.8 1166.7h0M1378.1 1157.7h0M1378.5 1165.4h0M1378.8 1167.5h0M1379.1 1162.0h0M1379.4 1158.6h0M1379.8 1150.2h0M1380.1 1150.7h0M1380.4 1147.5h0M1380.7 1148.3h0M1381.1 1148.0h0M1381.4 1147.9h0M1381.7 1148.0h0M1382.0 1147.4h0M1382.4 1153.6h0M1382.7 1153.3h0M1383.0 1152.8h0M1383.3 1152.7h0M1383.7 1161.2h0M1384.0 1152.3h0M1384.3 1157.4h0M1384.7 1164.4h0M1385.0 1160.5h0M1385.3 1164.0h0M1385.6 1150.6h0M1386.0 1148.9h0M1386.3 1152.9h0M1386.6 1154.0h0M1386.9 1161.6h0M1387.3 1160.2h0M1387.6 1166.2h0M1387.9 1168.5h0M1388.2 1168.1h0M1388.6 1168.2h0M1388.9 1167.9h0M1389.2 1165.8h0M1389.5 1163.7h0M1389.9 1153.4h0M1390.2 1148.8h0M1390.5 1146.7h0M1390.8 1146.7h0M1391.2 1148.8h0M1391.5 1145.4h0M1391.8 1148.8h0M1392.2 1145.2h0M1392.5 1156.3h0M1392.8 1147.8h0M1393.1 1162.6h0M1393.5 1157.8h0M1393.8 1159.0h0M1394.1 1153.2h0M1394.4 1158.4h0M1394.8 1151.0h0M1395.1 1161.6h0M1395.4 1158.0h0M1395.7 1161.4h0M1396.1 1159.3h0M1396.4 1161.6h0M1396.7 1154.5h0M1397.0 1150.9h0M1397.4 1145.0h0M1397.7 1153.0h0M1398.0 1145.2h0M1398.4 1152.1h0M1398.7 1147.1h0M1399.0 1149.1h0M1399.3 1147.7h0M1399.7 1151.2h0M1400.0 1159.9h0M1400.3 1164.9h0M1400.6 1160.8h0M1401.0 1165.0h0M1401.3 1154.9h0M1401.6 1163.9h0M1401.9 1153.8h0M1402.3 1165.3h0M1402.6 1155.3h0M1402.9 1155.5h0M1403.2 1167.1h0M1403.6 1162.8h0M1403.9 1155.5h0M1404.2 1155.8h0M1404.6 1145.4h0M1404.9 1151.9h0M1405.2 1150.4h0M1405.5 1153.7h0M1405.9 1158.4h0M1406.2 1159.8h0M1406.5 1159.9h0M1406.8 1164.9h0M1407.2 1155.8h0M1407.5 1147.6h0M1407.8 1145.7h0M1408.1 1146.9h0M1408.5 1145.9h0M1408.8 1145.1h0M1409.1 1150.4h0M1409.4 1145.1h0M1409.8 1161.9h0M1410.1 1158.3h0M1410.4 1156.8h0M1410.7 1144.9h0M1411.1 1152.0h0M1411.4 1149.5h0M1411.7 1145.0h0M1412.1 1159.5h0M1412.4 1165.0h0M1412.7 1157.7h0M1413.0 1165.3h0M1413.4 1160.8h0M1413.7 1162.8h0M1414.0 1157.1h0M1414.3 1155.8h0M1414.7 1151.3h0M1415.0 1149.1h0M1415.3 1162.2h0M1415.6 1160.7h0M1416.0 1163.2h0M1416.3 1156.7h0M1416.6 1149.4h0M1416.9 1159.0h0M1417.3 1150.0h0M1417.6 1159.1h0M1417.9 1158.2h0M1418.3 1153.6h0M1418.6 1155.8h0M1418.9 1145.5h0M1419.2 1150.1h0M1419.6 1145.3h0M1419.9 1158.8h0M1420.2 1157.5h0M1420.5 1153.8h0M1420.9 1151.9h0M1421.2 1146.6h0M1421.5 1148.9h0M1421.8 1161.1h0M1422.2 1162.3h0M1422.5 1160.2h0M1422.8 1163.7h0M1423.1 1157.6h0M1423.5 1155.9h0M1423.8 1163.2h0M1424.1 1160.1h0M1424.5 1158.6h0M1424.8 1158.9h0M1425.1 1153.9h0M1425.4 1153.0h0M1425.8 1151.1h0M1426.1 1152.6h0M1426.4 1153.6h0M1426.7 1154.5h0M1427.1 1149.5h0M1427.4 1153.7h0M1427.7 1157.0h0M1428.0 1156.6h0M1428.4 1163.6h0M1428.7 1162.1h0M1429.0 1163.1h0M1429.3 1163.9h0M1429.7 1160.5h0M1430.0 1152.5h0M1430.3 1159.4h0M1430.6 1164.0h0M1431.0 1163.3h0M1431.3 1157.5h0M1431.6 1159.0h0M1432.0 1160.4h0M1432.3 1162.7h0M1432.6 1162.0h0M1432.9 1154.8h0M1433.3 1152.1h0M1433.6 1146.9h0M1433.9 1147.8h0M1434.2 1153.8h0M1434.6 1148.6h0M1434.9 1147.0h0M1435.2 1159.7h0M1435.5 1165.7h0M1435.9 1161.1h0M1436.2 1159.8h0M1436.5 1161.8h0M1436.8 1151.4h0M1437.2 1155.4h0M1437.5 1164.9h0M1437.8 1166.5h0M1438.2 1164.7h0M1438.5 1153.6h0M1438.8 1158.5h0M1439.1 1165.6h0M1439.5 1167.1h0M1439.8 1159.6h0M1440.1 1154.7h0M1440.4 1157.3h0M1440.8 1156.9h0M1441.1 1147.8h0M1441.4 1154.4h0M1441.7 1153.8h0M1442.1 1150.7h0M1442.4 1151.2h0M1442.7 1149.8h0M1443.0 1166.6h0M1443.4 1168.8h0M1443.7 1158.9h0M1444.0 1164.4h0M1444.3 1165.0h0M1444.7 1158.8h0M1445.0 1154.3h0M1445.3 1150.4h0M1445.7 1155.3h0M1446.0 1164.4h0M1446.3 1168.7h0M1446.6 1170.0h0M1447.0 1163.7h0M1447.3 1162.4h0M1447.6 1159.0h0M1447.9 1150.0h0M1448.3 1151.4h0M1448.6 1159.8h0M1448.9 1156.0h0M1449.2 1148.8h0M1449.6 1152.2h0M1449.9 1152.4h0M1450.2 1152.3h0M1450.5 1155.1h0M1450.9 1155.6h0M1451.2 1160.2h0M1451.5 1168.3h0M1451.9 1164.2h0M1452.2 1156.6h0M1452.5 1159.8h0M1452.8 1155.3h0M1453.2 1152.0h0M1453.5 1160.2h0M1453.8 1151.8h0M1454.1 1154.1h0M1454.5 1155.1h0M1454.8 1157.7h0M1455.1 1159.1h0M1455.4 1161.3h0M1455.8 1165.6h0M1456.1 1168.2h0M1456.4 1172.6h0M1456.7 1172.5h0M1457.1 1164.7h0M1457.4 1169.6h0M1457.7 1154.7h0M1458.1 1160.0h0M1458.4 1166.3h0M1458.7 1152.8h0M1459.0 1154.4h0M1459.4 1170.0h0M1459.7 1171.5h0M1460.0 1159.9h0M1460.3 1153.2h0M1460.7 1152.0h0M1461.0 1151.1h0M1461.3 1155.8h0M1461.6 1171.9h0M1462.0 1161.5h0M1462.3 1159.8h0M1462.6 1160.7h0M1462.9 1156.5h0M1463.3 1153.4h0M1463.6 1166.0h0M1463.9 1163.9h0M1464.2 1163.0h0M1464.6 1159.2h0M1464.9 1152.6h0M1465.2 1155.3h0M1465.6 1153.9h0M1465.9 1163.1h0M1466.2 1160.9h0M1466.5 1161.9h0M1466.9 1166.6h0M1467.2 1171.8h0M1467.5 1168.2h0M1467.8 1173.1h0M1468.2 1155.8h0M1468.5 1153.0h0M1468.8 1154.6h0M1469.1 1159.6h0M1469.5 1160.9h0M1469.8 1165.9h0M1470.1 1153.9h0M1470.4 1152.8h0M1470.8 1151.7h0M1471.1 1152.0h0M1471.4 1163.2h0M1471.8 1158.6h0M1472.1 1154.3h0M1472.4 1166.6h0M1472.7 1170.2h0M1473.1 1172.2h0M1473.4 1172.6h0M1473.7 1170.9h0M1474.0 1167.3h0M1474.4 1171.5h0M1474.7 1165.7h0M1475.0 1151.8h0M1475.3 1162.9h0M1475.7 1167.1h0M1476.0 1158.8h0M1476.3 1152.5h0M1476.6 1164.1h0M1477.0 1172.8h0M1477.3 1167.4h0M1477.6 1162.9h0M1478.0 1166.3h0M1478.3 1167.9h0M1478.6 1167.6h0M1478.9 1170.3h0M1479.3 1166.7h0M1479.6 1163.6h0M1479.9 1153.5h0M1480.2 1154.8h0M1480.6 1158.4h0M1480.9 1155.9h0M1481.2 1162.2h0M1481.5 1159.3h0M1481.9 1156.8h0M1482.2 1167.2h0M1482.5 1167.9h0M1482.8 1171.8h0M1483.2 1170.0h0M1483.5 1159.6h0M1483.8 1167.1h0M1484.1 1172.4h0M1484.5 1170.8h0M1484.8 1166.9h0M1485.1 1161.9h0M1485.5 1160.7h0M1485.8 1165.9h0M1486.1 1173.3h0M1486.4 1167.5h0M1486.8 1156.5h0M1487.1 1155.4h0M1487.4 1157.0h0M1487.7 1153.5h0M1488.1 1157.6h0M1488.4 1151.3h0M1488.7 1154.7h0M1489.0 1150.5h0M1489.4 1151.6h0M1489.7 1153.4h0M1490.0 1156.7h0M1490.3 1149.9h0M1490.7 1166.0h0M1491.0 1169.1h0M1491.3 1163.7h0M1491.7 1157.4h0M1492.0 1156.9h0M1492.3 1158.5h0M1492.6 1152.6h0M1493.0 1151.1h0M1493.3 1157.4h0M1493.6 1154.5h0M1493.9 1150.6h0M1494.3 1154.9h0M1494.6 1155.2h0M1494.9 1152.0h0M1495.2 1150.4h0M1495.6 1159.7h0M1495.9 1164.6h0M1496.2 1171.2h0M1496.5 1170.2h0M1496.9 1157.5h0M1497.2 1151.9h0M1497.5 1164.7h0M1497.9 1174.2h0M1498.2 1163.1h0M1498.5 1154.0h0M1498.8 1155.5h0M1499.2 1150.2h0M1499.5 1153.4h0M1499.8 1167.4h0M1500.1 1162.8h0M1500.5 1150.4h0M1500.8 1153.7h0M1501.1 1160.1h0M1501.4 1158.4h0M1501.8 1149.8h0M1502.1 1159.1h0M1502.4 1153.3h0M1502.7 1150.1h0M1503.1 1151.9h0M1503.4 1157.3h0M1503.7 1172.5h0M1504.0 1172.8h0M1504.4 1170.1h0M1504.7 1163.4h0M1505.0 1152.6h0M1505.4 1153.3h0M1505.7 1149.2h0M1506.0 1156.9h0M1506.3 1152.6h0M1506.7 1154.8h0M1507.0 1158.7h0M1507.3 1156.2h0M1507.6 1160.0h0M1508.0 1170.3h0M1508.3 1167.4h0M1508.6 1170.9h0M1508.9 1157.5h0M1509.3 1151.2h0M1509.6 1150.6h0M1509.9 1152.0h0M1510.2 1152.9h0M1510.6 1156.0h0M1510.9 1160.0h0M1511.2 1151.8h0M1511.6 1152.4h0M1511.9 1153.9h0M1512.2 1158.3h0M1512.5 1163.6h0M1512.9 1171.9h0M1513.2 1150.4h0M1513.5 1151.5h0M1513.8 1160.6h0M1514.2 1149.4h0M1514.5 1151.6h0M1514.8 1148.3h0M1515.1 1149.2h0M1515.5 1155.6h0M1515.8 1151.4h0M1516.1 1156.1h0M1516.4 1158.6h0M1516.8 1172.7h0M1517.1 1172.0h0M1517.4 1165.5h0M1517.8 1161.5h0M1518.1 1173.2h0M1518.4 1164.3h0M1518.7 1171.4h0M1519.1 1172.8h0M1519.4 1165.3h0M1519.7 1170.6h0M1520.0 1174.5h0M1520.4 1169.1h0M1520.7 1161.1h0M1521.0 1148.4h0M1521.3 1163.2h0M1521.7 1173.7h0M1522.0 1173.7h0M1522.3 1172.0h0M1522.6 1171.2h0M1523.0 1175.2h0M1523.3 1170.3h0M1523.6 1174.0h0M1523.9 1175.2h0M1524.3 1163.7h0M1524.6 1174.2h0M1524.9 1165.2h0M1525.3 1170.1h0M1525.6 1165.1h0M1525.9 1167.2h0M1526.2 1174.3h0M1526.6 1173.0h0M1526.9 1169.9h0M1527.2 1170.0h0M1527.5 1173.7h0M1527.9 1168.6h0M1528.2 1164.4h0M1528.5 1150.3h0M1528.8 1167.0h0M1529.2 1173.6h0M1529.5 1165.1h0M1529.8 1159.7h0M1530.1 1154.8h0M1530.5 1156.4h0M1530.8 1165.1h0M1531.1 1160.1h0M1531.5 1172.4h0M1531.8 1166.9h0M1532.1 1161.9h0M1532.4 1159.5h0M1532.8 1154.7h0M1533.1 1157.2h0M1533.4 1166.8h0M1533.7 1161.9h0M1534.1 1158.9h0M1534.4 1173.9h0M1534.7 1170.4h0M1535.0 1163.4h0M1535.4 1146.7h0M1535.7 1151.5h0M1536.0 1148.4h0M1536.3 1157.0h0M1536.7 1147.3h0M1537.0 1150.1h0M1537.3 1168.8h0M1537.6 1174.0h0M1538.0 1173.1h0M1538.3 1155.3h0M1538.6 1151.5h0M1539.0 1164.0h0M1539.3 1174.1h0M1539.6 1172.6h0M1539.9 1168.8h0M1540.3 1171.6h0M1540.6 1156.4h0M1540.9 1159.8h0M1541.2 1166.8h0M1541.6 1172.7h0M1541.9 1170.1h0M1542.2 1173.5h0M1542.5 1168.6h0M1542.9 1160.5h0M1543.2 1150.3h0M1543.5 1151.2h0M1543.8 1147.4h0M1544.2 1154.1h0M1544.5 1150.0h0M1544.8 1145.7h0M1545.2 1153.0h0M1545.5 1148.5h0M1545.8 1156.4h0M1546.1 1160.2h0M1546.5 1170.8h0M1546.8 1153.5h0M1547.1 1153.9h0M1547.4 1169.6h0M1547.8 1163.7h0M1548.1 1155.9h0M1548.4 1158.0h0M1548.7 1150.0h0M1549.1 1166.3h0M1549.4 1162.0h0M1549.7 1175.3h0M1550.0 1170.4h0M1550.4 1172.3h0M1550.7 1170.1h0M1551.0 1164.3h0M1551.4 1160.4h0M1551.7 1160.6h0M1552.0 1176.6h0M1552.3 1174.1h0M1552.7 1168.4h0M1553.0 1171.1h0M1553.3 1161.6h0M1553.6 1163.8h0M1554.0 1153.5h0M1554.3 1164.3h0M1554.6 1168.4h0M1554.9 1173.4h0M1555.3 1170.5h0M1555.6 1164.0h0M1555.9 1173.2h0M1556.2 1167.7h0M1556.6 1162.6h0M1556.9 1156.4h0M1557.2 1166.8h0M1557.5 1166.5h0M1557.9 1176.0h0M1558.2 1164.9h0M1558.5 1170.0h0M1558.9 1156.3h0M1559.2 1157.3h0M1559.5 1166.5h0M1559.8 1175.8h0M1560.2 1162.5h0M1560.5 1173.3h0M1560.8 1169.1h0M1561.1 1158.4h0M1561.5 1152.2h0M1561.8 1155.0h0M1562.1 1157.2h0M1562.4 1156.4h0M1562.8 1159.0h0M1563.1 1167.7h0M1563.4 1176.3h0M1563.7 1165.3h0M1564.1 1165.8h0M1564.4 1165.9h0M1564.7 1162.4h0M1565.1 1160.9h0M1565.4 1174.1h0M1565.7 1175.7h0M1566.0 1171.4h0M1566.4 1166.8h0M1566.7 1156.7h0M1567.0 1153.8h0M1567.3 1156.9h0M1567.7 1164.3h0M1568.0 1166.9h0M1568.3 1168.3h0M1568.6 1167.5h0M1569.0 1174.9h0M1569.3 1172.7h0M1569.6 1174.6h0M1569.9 1165.1h0M1570.3 1160.8h0M1570.6 1163.3h0M1570.9 1159.2h0M1571.3 1156.8h0M1571.6 1150.7h0M1571.9 1161.3h0M1572.2 1156.7h0M1572.6 1149.5h0M1572.9 1150.1h0M1573.2 1151.8h0M1573.5 1154.5h0M1573.9 1150.1h0M1574.2 1152.6h0M1574.5 1164.1h0M1574.8 1173.1h0M1575.2 1175.0h0M1575.5 1173.4h0M1575.8 1159.3h0M1576.1 1161.6h0M1576.5 1167.6h0M1576.8 1167.7h0M1577.1 1165.4h0M1577.4 1156.7h0M1577.8 1171.8h0M1578.1 1153.9h0M1578.4 1167.8h0M1578.8 1163.9h0M1579.1 1170.2h0M1579.4 1173.3h0M1579.7 1175.0h0M1580.1 1173.6h0M1580.4 1174.5h0M1580.7 1172.9h0M1581.0 1170.9h0M1581.4 1169.5h0M1581.7 1163.5h0M1582.0 1164.8h0M1582.3 1163.3h0M1582.7 1168.8h0M1583.0 1163.5h0M1583.3 1166.9h0M1583.6 1167.5h0M1584.0 1169.7h0M1584.3 1177.0h0M1584.6 1176.5h0M1585.0 1170.8h0M1585.3 1176.4h0M1585.6 1163.5h0M1585.9 1161.6h0M1586.3 1154.7h0M1586.6 1167.5h0M1586.9 1169.2h0M1587.2 1175.2h0M1587.6 1171.3h0M1587.9 1169.1h0M1588.2 1173.5h0M1588.5 1170.6h0M1588.9 1177.8h0M1589.2 1174.4h0M1589.5 1171.8h0M1589.8 1172.5h0M1590.2 1163.8h0M1590.5 1159.4h0M1590.8 1157.9h0M1591.2 1169.6h0M1591.5 1178.1h0M1591.8 1169.1h0M1592.1 1165.5h0M1592.5 1157.6h0M1592.8 1167.7h0M1593.1 1175.3h0M1593.4 1165.4h0M1593.8 1166.0h0M1594.1 1160.6h0M1594.4 1154.5h0M1594.7 1155.2h0M1595.1 1159.8h0M1595.4 1168.5h0M1595.7 1173.6h0M1596.0 1161.7h0M1596.4 1175.5h0M1596.7 1173.3h0M1597.0 1171.4h0M1597.3 1164.0h0M1597.7 1177.5h0M1598.0 1177.4h0M1598.3 1169.9h0M1598.7 1174.6h0M1599.0 1166.0h0M1599.3 1162.4h0M1599.6 1159.6h0M1600.0 1167.1h0M1600.3 1168.7h0M1600.6 1171.9h0M1600.9 1173.1h0M1601.3 1177.4h0M1601.6 1177.0h0M1601.9 1167.0h0M1602.2 1157.7h0M1602.6 1151.4h0M1602.9 1162.2h0M1603.2 1161.3h0M1603.5 1168.7h0M1603.9 1168.7h0M1604.2 1171.2h0M1604.5 1176.8h0M1604.9 1176.5h0M1605.2 1164.3h0M1605.5 1174.2h0M1605.8 1176.4h0M1606.2 1173.9h0M1606.5 1170.0h0M1606.8 1168.5h0M1607.1 1165.9h0M1607.5 1163.2h0M1607.8 1165.2h0M1608.1 1159.4h0M1608.4 1174.1h0M1608.8 1170.1h0M1609.1 1159.6h0M1609.4 1154.1h0M1609.7 1159.4h0M1610.1 1160.7h0M1610.4 1159.8h0M1610.7 1167.3h0M1611.1 1167.7h0M1611.4 1177.5h0M1611.7 1175.1h0M1612.0 1172.4h0M1612.4 1174.3h0M1612.7 1175.2h0M1613.0 1175.5h0M1613.3 1175.8h0M1613.7 1175.9h0M1614.0 1172.1h0M1614.3 1171.1h0M1614.6 1166.4h0M1615.0 1164.5h0M1615.3 1156.1h0M1615.6 1155.2h0M1615.9 1161.9h0M1616.3 1153.0h0M1616.6 1154.0h0M1616.9 1154.4h0M1617.2 1165.8h0M1617.6 1170.5h0M1617.9 1172.1h0M1618.2 1160.7h0M1618.6 1164.2h0M1618.9 1157.5h0M1619.2 1167.8h0M1619.5 1170.4h0M1619.9 1163.7h0M1620.2 1166.9h0M1620.5 1176.0h0M1620.8 1169.4h0M1621.2 1159.7h0M1621.5 1153.6h0M1621.8 1163.3h0M1622.1 1175.8h0M1622.5 1161.6h0M1622.8 1164.3h0M1623.1 1165.5h0M1623.4 1158.7h0M1623.8 1164.8h0M1624.1 1154.1h0M1624.4 1161.8h0M1624.8 1175.5h0M1625.1 1173.2h0M1625.4 1172.4h0M1625.7 1167.1h0M1626.1 1174.3h0M1626.4 1174.1h0M1626.7 1172.0h0M1627.0 1176.3h0M1627.4 1173.2h0M1627.7 1169.6h0M1628.0 1164.5h0M1628.3 1163.7h0M1628.7 1178.0h0M1629.0 1173.4h0M1629.3 1164.0h0M1629.6 1166.7h0M1630.0 1171.3h0M1630.3 1176.6h0M1630.6 1177.8h0M1631.0 1171.9h0M1631.3 1173.8h0M1631.6 1174.1h0M1631.9 1174.3h0M1632.3 1178.1h0M1632.6 1167.4h0M1632.9 1173.5h0M1633.2 1173.9h0M1633.6 1177.8h0M1633.9 1172.4h0M1634.2 1155.8h0M1634.5 1165.7h0M1634.9 1159.9h0M1635.2 1152.6h0M1635.5 1157.5h0M1635.8 1152.7h0M1636.2 1154.9h0M1636.5 1155.1h0M1636.8 1152.8h0M1637.1 1164.8h0M1637.5 1156.1h0M1637.8 1161.2h0M1638.1 1174.7h0M1638.5 1176.5h0M1638.8 1161.7h0M1639.1 1176.1h0M1639.4 1160.9h0M1639.8 1177.5h0M1640.1 1177.4h0M1640.4 1168.9h0M1640.7 1160.1h0M1641.1 1169.4h0M1641.4 1173.3h0M1641.7 1166.0h0M1642.0 1168.2h0M1642.4 1176.2h0M1642.7 1164.1h0M1643.0 1159.7h0M1643.3 1175.1h0M1643.7 1172.9h0M1644.0 1173.1h0M1644.3 1175.8h0M1644.7 1177.7h0M1645.0 1171.9h0M1645.3 1165.6h0M1645.6 1166.8h0M1646.0 1166.7h0M1646.3 1169.2h0M1646.6 1154.4h0M1646.9 1165.3h0M1647.3 1155.9h0M1647.6 1154.1h0M1647.9 1165.1h0M1648.2 1164.5h0M1648.6 1168.4h0M1648.9 1152.3h0M1649.2 1156.1h0M1649.5 1157.2h0M1649.9 1156.2h0M1650.2 1178.3h0M1650.5 1173.1h0M1650.8 1153.3h0M1651.2 1154.1h0M1651.5 1165.0h0M1651.8 1161.2h0M1652.2 1158.3h0M1652.5 1161.6h0M1652.8 1163.8h0M1653.1 1169.8h0M1653.5 1172.6h0M1653.8 1161.2h0M1654.1 1165.0h0M1654.4 1169.1h0M1654.8 1177.2h0M1655.1 1161.3h0M1655.4 1170.7h0M1655.7 1170.5h0M1656.1 1160.9h0M1656.4 1165.7h0M1656.7 1157.6h0M1657.0 1153.5h0M1657.4 1156.5h0M1657.7 1156.4h0M1658.0 1176.2h0M1658.4 1168.8h0M1658.7 1157.9h0M1659.0 1174.5h0M1659.3 1153.6h0M1659.7 1155.1h0M1660.0 1160.0h0M1660.3 1163.5h0M1660.6 1155.1h0M1661.0 1155.2h0M1661.3 1162.3h0M1661.6 1176.1h0M1661.9 1172.8h0M1662.3 1177.5h0M1662.6 1175.7h0M1662.9 1164.9h0M1663.2 1176.5h0M1663.6 1169.0h0M1663.9 1158.2h0M1664.2 1162.4h0M1664.6 1158.6h0M1664.9 1159.5h0M1665.2 1157.8h0M1665.5 1158.4h0M1665.9 1163.6h0M1666.2 1163.0h0M1666.5 1157.7h0M1666.8 1164.8h0M1667.2 1173.2h0M1667.5 1178.2h0M1667.8 1175.3h0M1668.1 1176.6h0M1668.5 1176.0h0M1668.8 1179.0h0M1669.1 1168.1h0M1669.4 1175.2h0M1669.8 1177.2h0M1670.1 1175.1h0M1670.4 1170.2h0M1670.7 1157.6h0M1671.1 1153.3h0M1671.4 1161.1h0M1671.7 1158.3h0M1672.1 1164.3h0M1672.4 1167.6h0M1672.7 1169.4h0M1673.0 1166.1h0M1673.4 1179.0h0M1673.7 1171.6h0M1674.0 1167.4h0M1674.3 1155.9h0M1674.7 1161.3h0M1675.0 1155.4h0M1675.3 1163.1h0M1675.6 1178.3h0M1676.0 1171.1h0M1676.3 1171.1h0M1676.6 1167.4h0M1676.9 1163.7h0M1677.3 1174.7h0M1677.6 1178.0h0M1677.9 1169.5h0M1678.3 1173.4h0M1678.6 1173.1h0M1678.9 1161.7h0M1679.2 1155.1h0M1679.6 1156.9h0M1679.9 1153.9h0M1680.2 1170.3h0M1680.5 1173.5h0M1680.9 1174.0h0M1681.2 1171.1h0M1681.5 1169.6h0M1681.8 1167.4h0M1682.2 1166.9h0M1682.5 1176.1h0M1682.8 1169.9h0M1683.1 1171.8h0M1683.5 1168.9h0M1683.8 1171.8h0M1684.1 1179.8h0M1684.5 1176.9h0M1684.8 1154.8h0M1685.1 1158.1h0M1685.4 1160.4h0M1685.8 1166.1h0M1686.1 1160.8h0M1686.4 1156.2h0M1686.7 1157.0h0M1687.1 1157.7h0M1687.4 1162.5h0M1687.7 1157.8h0M1688.0 1162.4h0M1688.4 1160.8h0M1688.7 1157.3h0M1689.0 1153.4h0M1689.3 1165.2h0M1689.7 1159.7h0M1690.0 1156.1h0M1690.3 1174.7h0M1690.6 1168.6h0M1691.0 1174.1h0M1691.3 1167.5h0M1691.6 1170.7h0M1692.0 1178.3h0M1692.3 1165.3h0M1692.6 1154.3h0M1692.9 1165.0h0M1693.3 1159.8h0M1693.6 1169.1h0M1693.9 1157.9h0M1694.2 1163.2h0M1694.6 1165.5h0M1694.9 1174.1h0M1695.2 1172.4h0M1695.5 1173.1h0M1695.9 1160.9h0M1696.2 1166.5h0M1696.5 1156.2h0M1696.8 1167.6h0M1697.2 1166.8h0M1697.5 1165.5h0M1697.8 1175.3h0M1698.2 1167.6h0M1698.5 1168.4h0M1698.8 1177.0h0M1699.1 1171.5h0M1699.5 1173.1h0M1699.8 1157.4h0M1700.1 1170.1h0M1700.4 1170.3h0M1700.8 1165.4h0M1701.1 1155.1h0M1701.4 1164.3h0M1701.7 1156.5h0M1702.1 1157.3h0M1702.4 1162.4h0M1702.7 1155.0h0M1703.0 1157.1h0M1703.4 1156.6h0M1703.7 1157.1h0M1704.0 1155.7h0M1704.4 1160.3h0M1704.7 1158.5h0M1705.0 1181.4h0M1705.3 1178.2h0M1705.7 1172.8h0M1706.0 1171.7h0M1706.3 1169.5h0M1706.6 1165.6h0M1707.0 1177.3h0M1707.3 1176.1h0M1707.6 1176.5h0M1707.9 1181.3h0M1708.3 1180.9h0M1708.6 1182.3h0M1708.9 1178.0h0M1709.2 1171.9h0M1709.6 1171.4h0M1709.9 1182.4h0M1710.2 1181.0h0M1710.5 1175.3h0M1710.9 1180.6h0M1711.2 1171.9h0M1711.5 1176.9h0M1711.9 1167.8h0M1712.2 1164.8h0M1712.5 1171.4h0M1712.8 1180.9h0M1713.2 1179.4h0M1713.5 1180.1h0M1713.8 1163.2h0M1714.1 1163.1h0M1714.5 1162.3h0M1714.8 1167.3h0M1715.1 1172.6h0M1715.4 1176.3h0M1715.8 1182.3h0M1716.1 1176.7h0M1716.4 1175.1h0M1716.7 1181.1h0M1717.1 1182.0h0M1717.4 1182.7h0M1717.7 1178.5h0M1718.1 1175.1h0M1718.4 1175.7h0M1718.7 1162.1h0M1719.0 1177.3h0M1719.4 1170.1h0M1719.7 1157.0h0M1720.0 1158.1h0M1720.3 1160.6h0M1720.7 1177.7h0M1721.0 1170.4h0M1721.3 1158.9h0M1721.6 1158.6h0M1722.0 1156.6h0M1722.3 1160.5h0M1722.6 1158.1h0M1722.9 1160.1h0M1723.3 1157.6h0M1723.6 1155.3h0M1723.9 1163.8h0M1724.3 1179.7h0M1724.6 1157.5h0M1724.9 1158.6h0M1725.2 1163.6h0M1725.6 1164.4h0M1725.9 1176.9h0M1726.2 1174.5h0M1726.5 1181.4h0M1726.9 1168.7h0M1727.2 1162.1h0M1727.5 1168.6h0M1727.8 1159.0h0M1728.2 1166.1h0M1728.5 1170.6h0M1728.8 1164.3h0M1729.1 1160.3h0M1729.5 1157.1h0M1729.8 1168.5h0M1730.1 1177.5h0M1730.4 1173.4h0M1730.8 1175.9h0M1731.1 1170.3h0M1731.4 1165.0h0M1731.8 1155.1h0M1732.1 1167.4h0M1732.4 1156.0h0M1732.7 1166.2h0M1733.1 1162.3h0M1733.4 1172.2h0M1733.7 1160.4h0M1734.0 1158.2h0M1734.4 1171.4h0M1734.7 1164.3h0M1735.0 1162.5h0M1735.3 1162.2h0M1735.7 1164.5h0M1736.0 1177.7h0M1736.3 1179.7h0M1736.6 1175.3h0M1737.0 1177.9h0M1737.3 1180.3h0M1737.6 1172.6h0M1738.0 1166.5h0M1738.3 1172.4h0M1738.6 1173.5h0M1738.9 1178.3h0M1739.3 1173.6h0M1739.6 1163.5h0M1739.9 1156.8h0M1740.2 1165.3h0M1740.6 1157.4h0M1740.9 1160.2h0M1741.2 1157.7h0M1741.5 1161.8h0M1741.9 1178.3h0M1742.2 1179.4h0M1742.5 1180.3h0M1742.8 1180.0h0M1743.2 1168.9h0M1743.5 1178.1h0M1743.8 1173.1h0M1744.1 1163.8h0M1744.5 1166.8h0M1744.8 1170.7h0M1745.1 1168.8h0M1745.5 1166.8h0M1745.8 1167.3h0M1746.1 1161.6h0M1746.4 1156.9h0M1746.8 1175.8h0M1747.1 1172.5h0M1747.4 1182.6h0M1747.7 1177.1h0M1748.1 1175.2h0M1748.4 1179.4h0M1748.7 1172.3h0M1749.0 1171.3h0M1749.4 1183.2h0M1749.7 1180.6h0M1750.0 1177.3h0M1750.3 1154.6h0M1750.7 1163.4h0M1751.0 1175.8h0M1751.3 1159.0h0M1751.7 1155.6h0M1752.0 1160.2h0M1752.3 1179.8h0M1752.6 1175.3h0M1753.0 1172.7h0M1753.3 1174.7h0M1753.6 1165.2h0M1753.9 1155.1h0M1754.3 1163.9h0M1754.6 1166.8h0M1754.9 1166.0h0M1755.2 1157.1h0M1755.6 1161.9h0M1755.9 1160.2h0M1756.2 1157.5h0M1756.5 1162.5h0M1756.9 1180.3h0M1757.2 1179.6h0M1757.5 1163.0h0M1757.9 1165.6h0M1758.2 1164.0h0M1758.5 1155.2h0M1758.8 1159.1h0M1759.2 1165.0h0M1759.5 1156.9h0M1759.8 1156.3h0M1760.1 1155.2h0M1760.5 1168.9h0M1760.8 1163.2h0M1761.1 1171.6h0M1761.4 1174.9h0M1761.8 1181.6h0M1762.1 1182.6h0M1762.4 1179.5h0M1762.7 1169.6h0M1763.1 1176.6h0M1763.4 1165.3h0M1763.7 1163.2h0M1764.0 1155.1h0M1764.4 1170.7h0M1764.7 1171.1h0M1765.0 1177.8h0M1765.4 1168.0h0M1765.7 1181.8h0M1766.0 1182.2h0M1766.3 1176.5h0M1766.7 1178.7h0M1767.0 1168.8h0M1767.3 1177.2h0M1767.6 1180.5h0M1768.0 1174.1h0M1768.3 1181.5h0M1768.6 1171.2h0M1768.9 1173.2h0M1769.3 1157.5h0M1769.6 1155.3h0M1769.9 1154.9h0M1770.2 1159.3h0M1770.6 1159.1h0M1770.9 1168.6h0M1771.2 1177.7h0M1771.6 1174.0h0M1771.9 1156.7h0M1772.2 1156.7h0M1772.5 1165.3h0M1772.9 1175.4h0M1773.2 1157.1h0M1773.5 1166.1h0M1773.8 1160.6h0M1774.2 1156.4h0M1774.5 1163.5h0M1774.8 1155.6h0M1775.1 1157.8h0M1775.5 1161.2h0M1775.8 1155.6h0M1776.1 1157.3h0M1776.4 1163.4h0M1776.8 1170.9h0M1777.1 1177.0h0M1777.4 1178.1h0M1777.8 1162.1h0M1778.1 1157.2h0M1778.4 1159.1h0M1778.7 1172.8h0M1779.1 1179.2h0M1779.4 1162.1h0M1779.7 1178.1h0M1780.0 1174.0h0M1780.4 1165.8h0M1780.7 1162.2h0M1781.0 1178.9h0M1781.3 1170.0h0M1781.7 1170.3h0M1782.0 1170.4h0M1782.3 1171.1h0M1782.6 1173.9h0M1783.0 1181.5h0M1783.3 1178.7h0M1783.6 1171.2h0M1783.9 1176.5h0M1784.3 1174.8h0M1784.6 1162.3h0M1784.9 1170.3h0M1785.3 1166.9h0M1785.6 1169.0h0M1785.9 1156.9h0M1786.2 1165.5h0M1786.6 1173.3h0M1786.9 1161.6h0M1787.2 1157.2h0M1787.5 1164.2h0M1787.9 1158.7h0M1788.2 1167.1h0M1788.5 1178.0h0M1788.8 1169.3h0M1789.2 1165.3h0M1789.5 1163.0h0M1789.8 1161.0h0M1790.1 1170.0h0M1790.5 1162.0h0M1790.8 1164.5h0M1791.1 1161.7h0M1791.5 1173.9h0M1791.8 1173.1h0M1792.1 1178.2h0M1792.4 1167.4h0M1792.8 1166.4h0M1793.1 1163.2h0M1793.4 1163.7h0M1793.7 1155.6h0M1794.1 1158.5h0M1794.4 1159.2h0M1794.7 1163.1h0M1795.0 1164.7h0M1795.4 1172.2h0M1795.7 1170.3h0M1796.0 1159.5h0M1796.3 1168.0h0M1796.7 1158.4h0M1797.0 1165.7h0M1797.3 1162.6h0M1797.7 1162.6h0M1798.0 1158.2h0M1798.3 1158.4h0M1798.6 1170.5h0M1799.0 1154.7h0M1799.3 1162.6h0M1799.6 1161.3h0M1799.9 1162.4h0M1800.3 1156.9h0M1800.6 1162.2h0M1800.9 1155.5h0M1801.2 1177.1h0M1801.6 1165.4h0M1801.9 1156.2h0M1802.2 1157.7h0M1802.5 1175.7h0M1802.9 1181.2h0M1803.2 1178.2h0M1803.5 1175.1h0M1803.8 1167.0h0M1804.2 1176.3h0M1804.5 1166.0h0M1804.8 1166.8h0M1805.2 1161.9h0M1805.5 1161.2h0M1805.8 1173.6h0M1806.1 1172.8h0M1806.5 1174.8h0M1806.8 1158.2h0M1807.1 1170.8h0M1807.4 1164.9h0M1807.8 1156.8h0M1808.1 1163.8h0M1808.4 1162.0h0M1808.7 1169.6h0M1809.1 1181.1h0M1809.4 1181.5h0M1809.7 1168.7h0M1810.0 1165.3h0M1810.4 1158.9h0M1810.7 1163.0h0M1811.0 1171.3h0M1811.4 1176.1h0M1811.7 1179.3h0M1812.0 1160.7h0M1812.3 1155.6h0M1812.7 1163.9h0M1813.0 1169.5h0M1813.3 1174.0h0M1813.6 1176.5h0M1814.0 1169.7h0M1814.3 1170.2h0M1814.6 1169.5h0M1814.9 1170.8h0M1815.3 1179.9h0M1815.6 1178.7h0M1815.9 1170.3h0M1816.2 1168.1h0M1816.6 1169.3h0M1816.9 1156.8h0M1817.2 1159.5h0M1817.6 1166.6h0M1817.9 1163.7h0M1818.2 1169.7h0M1818.5 1173.2h0M1818.9 1165.9h0M1819.2 1156.3h0M1819.5 1159.9h0M1819.8 1155.3h0M1820.2 1155.2h0M1820.5 1154.4h0M1820.8 1181.7h0M1821.1 1175.9h0M1821.5 1168.7h0M1821.8 1166.0h0M1822.1 1180.1h0M1822.4 1175.4h0M1822.8 1172.9h0M1823.1 1176.9h0M1823.4 1166.6h0M1823.7 1169.3h0M1824.1 1164.4h0M1824.4 1180.5h0M1824.7 1166.3h0M1825.1 1166.0h0M1825.4 1175.0h0M1825.7 1180.6h0M1826.0 1173.4h0M1826.4 1163.6h0M1826.7 1159.2h0M1827.0 1160.6h0M1827.3 1160.1h0M1827.7 1170.9h0M1828.0 1162.7h0M1828.3 1167.8h0M1828.6 1154.8h0M1829.0 1172.9h0M1829.3 1166.9h0M1829.6 1164.4h0M1829.9 1164.9h0M1830.3 1167.3h0M1830.6 1171.8h0M1830.9 1156.1h0M1831.3 1158.2h0M1831.6 1166.8h0M1831.9 1164.0h0M1832.2 1168.5h0M1832.6 1165.3h0M1832.9 1178.1h0M1833.2 1170.7h0M1833.5 1156.3h0M1833.9 1169.5h0M1834.2 1173.8h0M1834.5 1178.5h0M1834.8 1175.9h0M1835.2 1172.6h0M1835.5 1178.4h0M1835.8 1181.3h0M1836.1 1180.4h0M1836.5 1176.9h0M1836.8 1179.9h0M1837.1 1174.9h0M1837.5 1154.4h0M1837.8 1167.8h0M1838.1 1157.1h0M1838.4 1154.2h0M1838.8 1173.4h0M1839.1 1170.0h0M1839.4 1155.3h0M1839.7 1160.2h0M1840.1 1161.5h0M1840.4 1159.9h0M1840.7 1157.5h0M1841.0 1154.0h0M1841.4 1154.2h0M1841.7 1158.9h0M1842.0 1159.1h0M1842.3 1160.2h0M1842.7 1164.0h0M1843.0 1166.2h0M1843.3 1165.9h0M1843.6 1161.4h0M1844.0 1157.6h0M1844.3 1156.7h0M1844.6 1157.8h0M1845.0 1163.9h0M1845.3 1157.9h0M1845.6 1159.6h0M1845.9 1160.2h0M1846.3 1163.3h0M1846.6 1165.7h0M1846.9 1166.6h0M1847.2 1170.1h0M1847.6 1172.4h0M1847.9 1164.5h0M1848.2 1155.6h0M1848.5 1155.8h0M1848.9 1167.1h0M1849.2 1158.7h0M1849.5 1159.4h0M1849.8 1158.9h0M1850.2 1158.0h0M1850.5 1161.8h0M1850.8 1157.5h0M1851.2 1155.6h0M1851.5 1158.2h0M1851.8 1159.8h0M1852.1 1162.7h0M1852.5 1165.0h0M1852.8 1155.5h0M1853.1 1154.6h0M1853.4 1158.4h0M1853.8 1164.9h0M1854.1 1167.8h0M1854.4 1177.8h0M1854.7 1175.2h0M1855.1 1181.6h0M1855.4 1181.7h0M1855.7 1180.6h0M1856.0 1163.2h0M1856.4 1164.7h0M1856.7 1179.3h0M1857.0 1179.4h0M1857.3 1171.1h0M1857.7 1156.6h0M1858.0 1159.1h0M1858.3 1166.1h0M1858.7 1160.2h0M1859.0 1156.3h0M1859.3 1173.1h0M1859.6 1173.6h0M1860.0 1181.6h0M1860.3 1175.9h0M1860.6 1158.0h0M1860.9 1163.0h0M1861.3 1169.0h0M1861.6 1171.6h0M1861.9 1174.7h0M1862.2 1179.6h0M1862.6 1176.0h0M1862.9 1175.4h0M1863.2 1176.4h0M1863.5 1176.6h0M1863.9 1180.4h0M1864.2 1181.8h0M1864.5 1174.4h0M1864.9 1181.8h0M1865.2 1169.9h0M1865.5 1175.4h0M1865.8 1177.9h0M1866.2 1175.5h0M1866.5 1169.3h0M1866.8 1161.2h0M1867.1 1167.4h0M1867.5 1176.6h0M1867.8 1180.1h0M1868.1 1179.0h0M1868.4 1169.5h0M1868.8 1163.0h0M1869.1 1161.3h0M1869.4 1155.2h0M1869.7 1155.6h0M1870.1 1159.4h0M1870.4 1163.4h0M1870.7 1175.4h0M1871.1 1177.5h0M1871.4 1173.6h0M1871.7 1165.6h0M1872.0 1167.1h0M1872.4 1177.4h0M1872.7 1173.2h0M1873.0 1182.4h0M1873.3 1176.3h0M1873.7 1181.9h0M1874.0 1175.2h0M1874.3 1174.8h0M1874.6 1179.6h0M1875.0 1180.0h0M1875.3 1179.6h0M1875.6 1168.9h0M1875.9 1158.0h0M1876.3 1165.0h0M1876.6 1173.5h0M1876.9 1172.3h0M1877.2 1175.3h0M1877.6 1171.8h0M1877.9 1165.1h0M1878.2 1166.8h0M1878.6 1166.7h0M1878.9 1155.7h0M1879.2 1163.1h0M1879.5 1165.5h0M1879.9 1175.0h0M1880.2 1174.7h0M1880.5 1166.0h0M1880.8 1166.6h0M1881.2 1163.8h0M1881.5 1177.2h0M1881.8 1179.7h0M1882.1 1178.6h0M1882.5 1179.9h0M1882.8 1176.4h0M1883.1 1172.0h0M1883.4 1169.4h0M1883.8 1173.2h0M1884.1 1180.2h0M1884.4 1170.4h0M1884.8 1161.6h0M1885.1 1158.3h0M1885.4 1166.4h0M1885.7 1160.8h0M1886.1 1162.0h0M1886.4 1168.5h0M1886.7 1176.9h0M1887.0 1183.0h0M1887.4 1173.4h0M1887.7 1166.7h0M1888.0 1158.3h0M1888.3 1165.4h0M1888.7 1160.4h0M1889.0 1158.7h0M1889.3 1161.3h0M1889.6 1177.5h0M1890.0 1176.7h0M1890.3 1181.1h0M1890.6 1180.6h0M1891.0 1177.3h0M1891.3 1170.1h0M1891.6 1173.0h0M1891.9 1165.9h0M1892.3 1167.8h0M1892.6 1164.2h0M1892.9 1167.0h0M1893.2 1168.4h0M1893.6 1180.7h0M1893.9 1182.4h0M1894.2 1182.7h0M1894.5 1166.7h0M1894.9 1174.4h0M1895.2 1174.6h0M1895.5 1181.4h0M1895.8 1183.8h0M1896.2 1172.7h0M1896.5 1179.9h0M1896.8 1171.4h0M1897.1 1165.9h0M1897.5 1174.9h0M1897.8 1179.9h0M1898.1 1175.5h0M1898.5 1179.6h0M1898.8 1178.0h0M1899.1 1178.0h0M1899.4 1179.4h0M1899.8 1167.4h0M1900.1 1167.4h0M1900.4 1157.1h0M1900.7 1168.4h0M1901.1 1181.1h0M1901.4 1174.7h0M1901.7 1167.5h0M1902.0 1159.7h0M1902.4 1157.4h0M1902.7 1177.4h0M1903.0 1170.0h0M1903.3 1165.6h0M1903.7 1173.0h0M1904.0 1176.0h0M1904.3 1162.6h0M1904.7 1168.2h0M1905.0 1178.6h0M1905.3 1172.0h0M1905.6 1162.6h0M1906.0 1167.3h0M1906.3 1173.8h0M1906.6 1174.7h0M1906.9 1172.7h0M1907.3 1173.0h0M1907.6 1177.7h0M1907.9 1169.6h0M1908.2 1157.9h0M1908.6 1156.5h0M1908.9 1166.3h0M1909.2 1156.6h0M1909.5 1167.8h0M1909.9 1156.6h0M1910.2 1165.1h0M1910.5 1159.1h0M1910.9 1163.7h0M1911.2 1160.2h0M1911.5 1159.7h0M1911.8 1158.9h0M1912.2 1174.1h0M1912.5 1177.5h0M1912.8 1174.4h0M1913.1 1177.5h0M1913.5 1181.6h0M1913.8 1175.6h0M1914.1 1171.0h0M1914.4 1166.5h0M1914.8 1171.3h0M1915.1 1175.2h0M1915.4 1162.0h0M1915.7 1161.7h0M1916.1 1165.8h0M1916.4 1174.4h0M1916.7 1169.0h0M1917.0 1170.7h0M1917.4 1178.5h0M1917.7 1182.2h0M1918.0 1178.1h0M1918.4 1183.4h0M1918.7 1179.3h0M1919.0 1176.8h0M1919.3 1166.5h0M1919.7 1164.7h0M1920.0 1167.4h0M1920.3 1157.6h0M1920.6 1163.3h0M1921.0 1161.6h0M1921.3 1163.5h0M1921.6 1165.8h0M1921.9 1172.4h0M1922.3 1164.4h0M1922.6 1168.2h0M1922.9 1173.6h0M1923.2 1181.3h0M1923.6 1180.7h0M1923.9 1172.7h0M1924.2 1166.0h0M1924.6 1163.4h0M1924.9 1171.8h0M1925.2 1162.5h0M1925.5 1174.8h0M1925.9 1157.7h0M1926.2 1174.9h0M1926.5 1182.3h0M1926.8 1171.0h0M1927.2 1167.5h0M1927.5 1171.6h0M1927.8 1180.4h0M1928.1 1180.9h0M1928.5 1185.0h0M1928.8 1176.8h0M1929.1 1175.2h0M1929.4 1175.2h0M1929.8 1168.4h0M1930.1 1171.3h0M1930.4 1173.6h0M1930.8 1165.5h0M1931.1 1168.8h0M1931.4 1162.6h0M1931.7 1157.5h0M1932.1 1175.2h0M1932.4 1171.7h0M1932.7 1164.5h0M1933.0 1158.0h0M1933.4 1160.1h0M1933.7 1164.9h0M1934.0 1168.5h0M1934.3 1167.5h0M1934.7 1164.0h0M1935.0 1168.0h0M1935.3 1169.4h0M1935.6 1166.7h0M1936.0 1160.8h0M1936.3 1159.8h0M1936.6 1161.5h0M1936.9 1163.7h0M1937.3 1161.1h0M1937.6 1162.6h0M1937.9 1175.9h0M1938.3 1176.8h0M1938.6 1179.0h0M1938.9 1172.9h0M1939.2 1166.4h0M1939.6 1162.1h0M1939.9 1162.4h0M1940.2 1173.2h0M1940.5 1169.5h0M1940.9 1169.3h0M1941.2 1165.3h0M1941.5 1166.0h0M1941.8 1159.5h0M1942.2 1170.5h0M1942.5 1175.1h0M1942.8 1174.5h0M1943.1 1161.5h0M1943.5 1173.3h0M1943.8 1169.8h0M1944.1 1171.8h0M1944.5 1174.9h0M1944.8 1185.5h0M1945.1 1186.1h0M1945.4 1183.7h0M1945.8 1185.0h0M1946.1 1179.9h0M1946.4 1186.1h0M1946.7 1181.1h0M1947.1 1175.4h0M1947.4 1158.6h0M1947.7 1163.0h0M1948.0 1169.2h0M1948.4 1180.2h0M1948.7 1181.5h0M1949.0 1174.5h0M1949.3 1163.1h0M1949.7 1162.8h0M1950.0 1162.0h0M1950.3 1163.3h0M1950.6 1159.1h0M1951.0 1158.6h0M1951.3 1167.7h0M1951.6 1171.1h0M1952.0 1178.7h0M1952.3 1186.4h0M1952.6 1177.9h0M1952.9 1172.8h0M1953.3 1170.7h0M1953.6 1160.5h0M1953.9 1158.9h0M1954.2 1165.0h0M1954.6 1172.7h0M1954.9 1187.0h0M1955.2 1185.4h0M1955.5 1187.1h0M1955.9 1184.6h0M1956.2 1166.7h0M1956.5 1173.6h0M1956.8 1166.7h0M1957.2 1170.8h0M1957.5 1186.4h0M1957.8 1171.6h0M1958.2 1171.9h0M1958.5 1187.5h0M1958.8 1184.2h0M1959.1 1177.0h0M1959.5 1180.9h0M1959.8 1168.4h0M1960.1 1169.3h0M1960.4 1164.9h0M1960.8 1172.1h0M1961.1 1162.6h0M1961.4 1167.7h0M1961.7 1161.0h0M1962.1 1163.5h0M1962.4 1177.8h0M1962.7 1171.5h0M1963.0 1178.9h0M1963.4 1182.1h0M1963.7 1171.7h0M1964.0 1163.7h0M1964.4 1161.7h0M1964.7 1169.7h0M1965.0 1166.0h0M1965.3 1168.7h0M1965.7 1166.3h0M1966.0 1162.1h0M1966.3 1161.5h0M1966.6 1163.1h0M1967.0 1168.5h0M1967.3 1161.9h0M1967.6 1179.6h0M1967.9 1187.0h0M1968.3 1186.9h0M1968.6 1183.2h0M1968.9 1175.7h0M1969.2 1163.4h0M1969.6 1165.9h0M1969.9 1162.9h0M1970.2 1160.8h0M1970.5 1169.8h0M1970.9 1177.2h0M1971.2 1172.9h0M1971.5 1168.4h0M1971.9 1175.9h0M1972.2 1186.8h0M1972.5 1185.0h0M1972.8 1178.2h0M1973.2 1174.7h0M1973.5 1177.3h0M1973.8 1174.3h0M1974.1 1173.2h0M1974.5 1185.9h0M1974.8 1185.2h0M1975.1 1185.2h0M1975.4 1174.2h0M1975.8 1186.8h0M1976.1 1185.4h0M1976.4 1176.5h0M1976.7 1171.6h0M1977.1 1166.1h0M1977.4 1169.3h0M1977.7 1188.0h0M1978.1 1176.9h0M1978.4 1164.5h0M1978.7 1168.3h0M1979.0 1179.2h0M1979.4 1188.8h0M1979.7 1187.8h0M1980.0 1189.3h0M1980.3 1167.0h0M1980.7 1177.1h0M1981.0 1187.8h0M1981.3 1184.0h0M1981.6 1160.4h0M1982.0 1163.1h0M1982.3 1179.6h0M1982.6 1189.1h0M1982.9 1186.1h0M1983.3 1186.9h0M1983.6 1182.8h0M1983.9 1188.3h0M1984.3 1184.1h0M1984.6 1189.1h0M1984.9 1187.7h0M1985.2 1181.4h0M1985.6 1174.8h0M1985.9 1185.2h0M1986.2 1176.5h0M1986.5 1174.5h0M1986.9 1163.1h0M1987.2 1166.6h0M1987.5 1166.8h0M1987.8 1175.9h0M1988.2 1178.6h0M1988.5 1176.9h0M1988.8 1174.7h0M1989.1 1177.7h0M1989.5 1172.6h0M1989.8 1182.4h0M1990.1 1183.5h0M1990.4 1185.1h0M1990.8 1183.1h0M1991.1 1186.9h0M1991.4 1175.1h0M1991.8 1180.3h0M1992.1 1173.4h0M1992.4 1167.6h0M1992.7 1165.9h0M1993.1 1179.2h0M1993.4 1188.0h0M1993.7 1176.2h0M1994.0 1176.1h0M1994.4 1177.9h0M1994.7 1179.3h0M1995.0 1183.4h0M1995.3 1188.7h0M1995.7 1170.7h0M1996.0 1172.4h0M1996.3 1175.1h0M1996.6 1184.3h0M1997.0 1187.8h0M1997.3 1190.2h0M1997.6 1182.4h0M1998.0 1182.9h0M1998.3 1180.8h0M1998.6 1172.0h0M1998.9 1170.8h0M1999.3 1174.6h0M1999.6 1176.4h0M1999.9 1179.0h0M2000.2 1175.9h0M2000.6 1169.8h0M2000.9 1171.7h0M2001.2 1165.2h0M2001.5 1184.5h0M2001.9 1188.8h0M2002.2 1180.9h0M2002.5 1178.8h0M2002.8 1190.0h0M2003.2 1171.2h0M2003.5 1172.5h0M2003.8 1164.4h0M2004.2 1171.2h0M2004.5 1174.0h0M2004.8 1176.2h0M2005.1 1173.1h0M2005.5 1176.7h0M2005.8 1173.1h0M2006.1 1168.1h0M2006.4 1186.4h0M2006.8 1186.4h0M2007.1 1186.5h0M2007.4 1182.6h0M2007.7 1177.7h0M2008.1 1185.9h0M2008.4 1183.5h0M2008.7 1181.7h0M2009.0 1178.3h0M2009.4 1178.5h0M2009.7 1184.3h0M2010.0 1170.3h0M2010.3 1163.7h0M2010.7 1164.2h0M2011.0 1167.3h0M2011.3 1164.1h0M2011.7 1174.6h0M2012.0 1165.6h0M2012.3 1183.7h0M2012.6 1171.2h0M2013.0 1166.0h0M2013.3 1165.4h0M2013.6 1167.1h0M2013.9 1167.4h0M2014.3 1169.6h0M2014.6 1166.5h0M2014.9 1169.5h0M2015.2 1172.2h0M2015.6 1162.7h0M2015.9 1166.0h0M2016.2 1180.6h0M2016.5 1188.7h0M2016.9 1184.4h0M2017.2 1167.8h0M2017.5 1169.7h0M2017.9 1166.1h0M2018.2 1175.4h0M2018.5 1172.1h0M2018.8 1172.0h0M2019.2 1172.0h0M1942.5 1192.7h0M1201.2 1181.1h0M1203.6 1182.5h0M1211.1 1181.8h0" stroke="#f9600f" stroke-width="5.8" stroke-linecap="round" fill="none"/>
<path d="M1170.7 1163.7h0M1171.7 1160.2h0M1172.7 1160.2h0M1173.6 1157.7h0M1174.6 1156.7h0M1175.6 1163.1h0M1176.6 1155.5h0M1177.6 1155.8h0M1178.5 1160.0h0M1179.5 1155.8h0M1180.5 1159.9h0M1181.5 1158.2h0M1182.4 1160.5h0M1183.4 1156.7h0M1184.4 1165.2h0M1185.4 1165.5h0M1186.4 1161.4h0M1187.3 1161.0h0M1188.3 1158.8h0M1189.3 1164.0h0M1190.3 1159.2h0M1191.3 1157.9h0M1192.2 1163.8h0M1193.2 1159.2h0M1194.2 1164.6h0M1195.2 1161.3h0M1196.1 1159.8h0M1197.1 1163.8h0M1198.1 1163.9h0M1199.1 1160.3h0M1200.1 1164.7h0M1201.0 1154.4h0M1202.0 1157.5h0M1203.0 1163.0h0M1204.0 1154.8h0M1205.0 1155.9h0M1205.9 1162.6h0M1206.9 1158.4h0M1207.9 1161.2h0M1208.9 1164.6h0M1209.8 1157.8h0M1210.8 1161.7h0M1211.8 1157.2h0M1212.8 1163.0h0M1213.8 1164.9h0M1214.7 1161.9h0M1215.7 1155.9h0M1216.7 1156.4h0M1217.7 1164.6h0M1218.7 1161.4h0M1219.6 1159.1h0M1220.6 1158.3h0M1221.6 1166.6h0M1222.6 1157.2h0M1223.5 1161.4h0M1224.5 1166.3h0M1225.5 1164.6h0M1226.5 1161.2h0M1227.5 1162.7h0M1228.4 1156.0h0M1229.4 1157.2h0M1230.4 1157.3h0M1231.4 1158.1h0M1232.4 1166.4h0M1233.3 1162.9h0M1234.3 1166.0h0M1235.3 1159.4h0M1236.3 1157.4h0M1237.2 1154.5h0M1238.2 1156.9h0M1239.2 1156.9h0M1240.2 1159.3h0M1241.2 1166.3h0M1242.1 1161.4h0M1243.1 1158.6h0M1244.1 1158.0h0M1245.1 1157.5h0M1246.1 1158.9h0M1247.0 1161.6h0M1248.0 1163.7h0M1249.0 1161.5h0M1250.0 1159.5h0M1251.0 1162.7h0M1251.9 1166.4h0M1252.9 1164.5h0M1253.9 1157.6h0M1254.9 1163.1h0M1255.8 1154.7h0M1256.8 1167.0h0M1257.8 1166.1h0M1258.8 1161.2h0M1259.8 1160.9h0M1260.7 1162.3h0M1261.7 1154.0h0M1262.7 1164.5h0M1263.7 1160.9h0M1264.7 1161.6h0M1265.6 1153.2h0M1266.6 1157.8h0M1267.6 1155.7h0M1268.6 1160.3h0M1269.5 1158.9h0M1270.5 1162.0h0M1271.5 1167.1h0M1272.5 1161.6h0M1273.5 1165.5h0M1274.4 1159.5h0M1275.4 1168.3h0M1276.4 1156.6h0M1277.4 1163.4h0M1278.4 1164.2h0M1279.3 1170.8h0M1280.3 1167.0h0M1281.3 1174.8h0M1282.3 1172.0h0M1283.2 1165.8h0M1284.2 1173.1h0M1285.2 1167.3h0M1286.2 1171.6h0M1287.2 1168.5h0M1288.1 1170.7h0M1289.1 1182.8h0M1290.1 1182.5h0M1291.1 1176.5h0M1292.1 1176.9h0M1293.0 1177.1h0M1294.0 1172.3h0M1295.0 1174.0h0M1296.0 1171.3h0M1296.9 1176.2h0M1297.9 1169.1h0M1298.9 1171.8h0M1299.9 1175.1h0M1300.9 1164.4h0M1301.8 1172.9h0M1302.8 1161.2h0M1303.8 1167.8h0M1304.8 1169.4h0M1305.8 1154.7h0M1306.7 1166.3h0M1307.7 1164.1h0M1308.7 1153.8h0M1309.7 1164.0h0M1310.7 1162.9h0M1311.6 1163.7h0M1312.6 1157.3h0M1313.6 1159.2h0M1314.6 1153.4h0M1315.5 1155.8h0M1316.5 1164.2h0M1317.5 1164.9h0M1318.5 1170.0h0M1319.5 1157.9h0M1320.4 1169.6h0M1321.4 1163.1h0M1322.4 1164.5h0M1323.4 1153.3h0M1324.4 1165.0h0M1325.3 1157.3h0M1326.3 1159.3h0M1327.3 1159.9h0M1328.3 1161.5h0M1329.2 1167.2h0M1330.2 1156.4h0M1331.2 1153.6h0M1332.2 1166.6h0M1333.2 1150.9h0M1334.1 1167.6h0M1335.1 1168.5h0M1336.1 1150.3h0M1337.1 1160.9h0M1338.1 1154.7h0M1339.0 1163.5h0M1340.0 1161.6h0M1341.0 1157.3h0M1342.0 1162.7h0M1342.9 1164.1h0M1343.9 1169.2h0M1344.9 1163.3h0M1345.9 1167.9h0M1346.9 1157.6h0M1347.8 1160.4h0M1348.8 1153.0h0M1349.8 1156.7h0M1350.8 1163.9h0M1351.8 1161.5h0M1352.7 1158.5h0M1353.7 1168.8h0M1354.7 1157.1h0M1355.7 1149.5h0M1356.6 1152.3h0M1357.6 1149.2h0M1358.6 1155.0h0M1359.6 1156.1h0M1360.6 1165.5h0M1361.5 1153.4h0M1362.5 1168.9h0M1363.5 1149.7h0M1364.5 1148.4h0M1365.5 1158.7h0M1366.4 1165.4h0M1367.4 1155.8h0M1368.4 1164.0h0M1369.4 1154.8h0M1370.3 1148.7h0M1371.3 1159.7h0M1372.3 1160.4h0M1373.3 1159.4h0M1374.3 1155.7h0M1375.2 1161.4h0M1376.2 1165.6h0M1377.2 1166.0h0M1378.2 1166.8h0M1379.2 1149.5h0M1380.1 1147.6h0M1381.1 1147.3h0M1382.1 1152.6h0M1383.1 1160.5h0M1384.1 1163.7h0M1385.0 1149.9h0M1386.0 1153.3h0M1387.0 1165.5h0M1388.0 1167.5h0M1388.9 1163.0h0M1389.9 1146.0h0M1390.9 1144.7h0M1391.9 1155.6h0M1392.9 1157.1h0M1393.8 1157.7h0M1394.8 1157.3h0M1395.8 1160.9h0M1396.8 1144.3h0M1397.8 1151.4h0M1398.7 1147.0h0M1399.7 1164.2h0M1400.7 1154.2h0M1401.7 1164.6h0M1402.6 1166.4h0M1403.6 1155.1h0M1404.6 1149.7h0M1405.6 1159.1h0M1406.6 1155.1h0M1407.5 1146.2h0M1408.5 1149.7h0M1409.5 1157.6h0M1410.5 1151.3h0M1411.5 1158.8h0M1412.4 1164.6h0M1413.4 1156.4h0M1414.4 1148.4h0M1415.4 1162.5h0M1416.3 1158.3h0M1417.3 1157.5h0M1418.3 1144.8h0M1419.3 1158.1h0M1420.3 1151.2h0M1421.2 1160.4h0M1422.2 1163.0h0M1423.2 1162.5h0M1424.2 1158.2h0M1425.2 1150.4h0M1426.1 1153.8h0M1427.1 1156.3h0M1428.1 1161.4h0M1429.1 1159.8h0M1430.0 1163.3h0M1431.0 1158.3h0M1432.0 1161.3h0M1433.0 1146.2h0M1434.0 1147.9h0M1434.9 1165.0h0M1435.9 1161.1h0M1436.9 1164.2h0M1437.9 1152.9h0M1438.9 1166.4h0M1439.8 1156.6h0M1440.8 1153.7h0M1441.8 1150.5h0M1442.8 1168.1h0M1443.7 1164.3h0M1444.7 1149.7h0M1445.7 1168.0h0M1446.7 1161.7h0M1447.7 1150.7h0M1448.6 1148.1h0M1449.6 1151.6h0M1450.6 1159.5h0M1451.6 1155.9h0M1452.6 1151.3h0M1453.5 1153.4h0M1454.5 1158.4h0M1455.5 1167.5h0M1456.5 1164.0h0M1457.5 1159.3h0M1458.4 1153.7h0M1459.4 1159.2h0M1460.4 1150.4h0M1461.4 1160.8h0M1462.3 1155.8h0M1463.3 1163.2h0M1464.3 1151.9h0M1465.3 1162.4h0M1466.3 1165.9h0M1467.2 1172.4h0M1468.2 1153.9h0M1469.2 1165.2h0M1470.2 1151.0h0M1471.2 1157.9h0M1472.1 1169.5h0M1473.1 1170.2h0M1474.1 1165.0h0M1475.1 1166.4h0M1476.0 1163.4h0M1477.0 1162.2h0M1478.0 1166.9h0M1479.0 1162.9h0M1480.0 1157.7h0M1480.9 1158.6h0M1481.9 1167.2h0M1482.9 1158.9h0M1483.9 1170.1h0M1484.9 1160.0h0M1485.8 1166.8h0M1486.8 1156.3h0M1487.8 1150.6h0M1488.8 1150.9h0M1489.7 1149.2h0M1490.7 1163.0h0M1491.7 1157.8h0M1492.7 1156.7h0M1493.7 1154.2h0M1494.6 1149.7h0M1495.6 1170.5h0M1496.6 1151.2h0M1497.6 1162.4h0M1498.6 1149.5h0M1499.5 1162.1h0M1500.5 1159.4h0M1501.5 1158.4h0M1502.5 1151.2h0M1503.4 1172.1h0M1504.4 1151.9h0M1505.4 1156.2h0M1506.4 1158.0h0M1507.4 1169.6h0M1508.3 1156.8h0M1509.3 1151.3h0M1510.3 1159.3h0M1511.3 1153.2h0M1512.3 1171.2h0M1513.2 1159.9h0M1514.2 1147.6h0M1515.2 1150.7h0M1516.2 1172.0h0M1517.2 1160.8h0M1518.1 1170.7h0M1519.1 1169.9h0M1520.1 1160.4h0M1521.1 1173.0h0M1522.0 1170.5h0M1523.0 1173.3h0M1524.0 1173.5h0M1525.0 1164.4h0M1526.0 1172.3h0M1526.9 1173.0h0M1527.9 1149.6h0M1528.9 1164.4h0M1529.9 1155.7h0M1530.9 1171.7h0M1531.8 1158.8h0M1532.8 1166.1h0M1533.8 1173.2h0M1534.8 1146.0h0M1535.7 1156.3h0M1536.7 1168.1h0M1537.7 1154.6h0M1538.7 1173.4h0M1539.7 1170.9h0M1540.6 1166.1h0M1541.6 1172.8h0M1542.6 1149.6h0M1543.6 1153.4h0M1544.6 1152.3h0M1545.5 1159.5h0M1546.5 1153.2h0M1547.5 1155.2h0M1548.5 1165.6h0M1549.4 1169.7h0M1550.4 1163.6h0M1551.4 1175.9h0M1552.4 1170.4h0M1553.4 1152.8h0M1554.3 1172.7h0M1555.3 1172.5h0M1556.3 1155.7h0M1557.3 1175.3h0M1558.3 1155.6h0M1559.2 1175.1h0M1560.2 1168.4h0M1561.2 1154.3h0M1562.2 1158.3h0M1563.1 1164.6h0M1564.1 1161.7h0M1565.1 1175.0h0M1566.1 1156.0h0M1567.1 1163.6h0M1568.0 1166.8h0M1569.0 1173.9h0M1570.0 1162.6h0M1571.0 1150.0h0M1572.0 1148.8h0M1572.9 1153.8h0M1573.9 1163.4h0M1574.9 1172.7h0M1575.9 1166.9h0M1576.8 1156.0h0M1577.8 1167.1h0M1578.8 1172.6h0M1579.8 1173.8h0M1580.8 1168.8h0M1581.7 1162.6h0M1582.7 1166.2h0M1583.7 1176.3h0M1584.7 1175.7h0M1585.7 1154.0h0M1586.6 1174.5h0M1587.6 1172.8h0M1588.6 1173.7h0M1589.6 1163.1h0M1590.6 1168.9h0M1591.5 1164.8h0M1592.5 1174.6h0M1593.5 1159.9h0M1594.5 1159.1h0M1595.4 1161.0h0M1596.4 1170.7h0M1597.4 1176.7h0M1598.4 1165.3h0M1599.4 1166.4h0M1600.3 1172.4h0M1601.3 1166.3h0M1602.3 1161.5h0M1603.3 1168.0h0M1604.3 1175.8h0M1605.2 1175.7h0M1606.2 1167.8h0M1607.2 1164.5h0M1608.2 1169.4h0M1609.1 1158.7h0M1610.1 1166.6h0M1611.1 1174.4h0M1612.1 1174.5h0M1613.1 1175.2h0M1614.0 1165.7h0M1615.0 1154.5h0M1616.0 1153.3h0M1617.0 1169.8h0M1618.0 1163.5h0M1618.9 1169.7h0M1619.9 1175.3h0M1620.9 1152.9h0M1621.9 1160.9h0M1622.8 1158.0h0M1623.8 1161.1h0M1624.8 1171.7h0M1625.8 1173.4h0M1626.8 1172.5h0M1627.7 1163.0h0M1628.7 1163.3h0M1629.7 1175.9h0M1630.7 1173.1h0M1631.7 1177.4h0M1632.6 1173.2h0M1633.6 1155.1h0M1634.6 1151.9h0M1635.6 1154.2h0M1636.5 1164.1h0M1637.5 1174.0h0M1638.5 1175.4h0M1639.5 1176.7h0M1640.5 1168.7h0M1641.4 1167.5h0M1642.4 1159.0h0M1643.4 1172.4h0M1644.4 1171.2h0M1645.4 1166.0h0M1646.3 1164.6h0M1647.3 1164.4h0M1648.3 1151.6h0M1649.3 1155.5h0M1650.2 1152.6h0M1651.2 1160.5h0M1652.2 1163.1h0M1653.2 1160.5h0M1654.2 1176.5h0M1655.1 1169.8h0M1656.1 1156.9h0M1657.1 1155.7h0M1658.1 1157.2h0M1659.1 1154.4h0M1660.0 1154.4h0M1661.0 1175.4h0M1662.0 1175.0h0M1663.0 1168.3h0M1664.0 1157.9h0M1664.9 1157.7h0M1665.9 1157.0h0M1666.9 1177.5h0M1667.9 1175.3h0M1668.8 1174.5h0M1669.8 1169.5h0M1670.8 1160.4h0M1671.8 1166.9h0M1672.8 1178.3h0M1673.7 1155.2h0M1674.7 1162.4h0M1675.7 1170.4h0M1676.7 1174.0h0M1677.7 1172.7h0M1678.6 1154.4h0M1679.6 1169.6h0M1680.6 1170.4h0M1681.6 1166.2h0M1682.5 1171.1h0M1683.5 1179.1h0M1684.5 1157.4h0M1685.5 1160.1h0M1686.5 1157.0h0M1687.4 1161.7h0M1688.4 1152.7h0M1689.4 1155.4h0M1690.4 1173.4h0M1691.4 1177.6h0M1692.3 1164.3h0M1693.3 1157.2h0M1694.3 1173.4h0M1695.3 1160.2h0M1696.2 1166.9h0M1697.2 1174.6h0M1698.2 1176.3h0M1699.2 1156.7h0M1700.2 1164.7h0M1701.1 1155.8h0M1702.1 1154.3h0M1703.1 1156.4h0M1704.1 1157.8h0M1705.1 1172.1h0M1706.0 1164.9h0M1707.0 1175.8h0M1708.0 1181.6h0M1709.0 1170.7h0M1709.9 1174.6h0M1710.9 1176.2h0M1711.9 1170.7h0M1712.9 1179.4h0M1713.9 1161.6h0M1714.8 1175.6h0M1715.8 1174.4h0M1716.8 1182.0h0M1717.8 1175.0h0M1718.8 1169.4h0M1719.7 1159.9h0M1720.7 1158.2h0M1721.7 1159.8h0M1722.7 1156.9h0M1723.7 1179.0h0M1724.6 1162.9h0M1725.6 1173.8h0M1726.6 1161.4h0M1727.6 1165.4h0M1728.5 1159.6h0M1729.5 1176.8h0M1730.5 1169.6h0M1731.5 1166.7h0M1732.5 1161.6h0M1733.4 1157.5h0M1734.4 1161.8h0M1735.4 1177.0h0M1736.4 1177.2h0M1737.4 1165.8h0M1738.3 1177.6h0M1739.3 1156.1h0M1740.3 1159.5h0M1741.3 1177.6h0M1742.2 1179.3h0M1743.2 1172.4h0M1744.2 1170.0h0M1745.2 1166.6h0M1746.2 1175.1h0M1747.1 1176.4h0M1748.1 1171.6h0M1749.1 1179.9h0M1750.1 1162.7h0M1751.1 1154.9h0M1752.0 1174.6h0M1753.0 1164.5h0M1754.0 1166.1h0M1755.0 1161.2h0M1755.9 1161.8h0M1756.9 1162.3h0M1757.9 1154.5h0M1758.9 1156.2h0M1759.9 1168.2h0M1760.8 1174.2h0M1761.8 1178.8h0M1762.8 1164.6h0M1763.8 1170.0h0M1764.8 1167.3h0M1765.7 1175.8h0M1766.7 1176.5h0M1767.7 1180.8h0M1768.7 1156.8h0M1769.6 1158.6h0M1770.6 1177.0h0M1771.6 1156.0h0M1772.6 1156.4h0M1773.6 1155.7h0M1774.5 1157.1h0M1775.5 1156.6h0M1776.5 1176.3h0M1777.5 1156.5h0M1778.5 1178.5h0M1779.4 1173.3h0M1780.4 1178.2h0M1781.4 1169.7h0M1782.4 1180.8h0M1783.3 1175.8h0M1784.3 1169.6h0M1785.3 1156.2h0M1786.3 1160.9h0M1787.3 1158.0h0M1788.2 1168.6h0M1789.2 1160.3h0M1790.2 1163.8h0M1791.2 1172.4h0M1792.2 1165.7h0M1793.1 1154.9h0M1794.1 1162.4h0M1795.1 1169.6h0M1796.1 1157.7h0M1797.1 1161.9h0M1798.0 1169.8h0M1799.0 1160.6h0M1800.0 1161.5h0M1801.0 1164.7h0M1801.9 1175.0h0M1802.9 1174.4h0M1803.9 1165.3h0M1804.9 1160.5h0M1805.9 1174.1h0M1806.8 1164.2h0M1807.8 1161.3h0M1808.8 1180.8h0M1809.8 1158.2h0M1810.8 1175.4h0M1811.7 1154.9h0M1812.7 1173.3h0M1813.7 1169.5h0M1814.7 1179.2h0M1815.6 1167.4h0M1816.6 1158.8h0M1817.6 1169.0h0M1818.6 1155.6h0M1819.6 1154.5h0M1820.5 1175.2h0M1821.5 1179.4h0M1822.5 1176.2h0M1823.5 1163.7h0M1824.5 1165.3h0M1825.4 1172.7h0M1826.4 1159.9h0M1827.4 1162.0h0M1828.4 1172.2h0M1829.3 1164.2h0M1830.3 1155.4h0M1831.3 1163.3h0M1832.3 1177.4h0M1833.3 1168.8h0M1834.2 1175.2h0M1835.2 1180.6h0M1836.2 1179.2h0M1837.2 1167.1h0M1838.2 1172.7h0M1839.1 1159.5h0M1840.1 1156.8h0M1841.1 1158.2h0M1842.1 1163.3h0M1843.0 1160.7h0M1844.0 1157.1h0M1845.0 1158.9h0M1846.0 1165.0h0M1847.0 1171.7h0M1847.9 1155.1h0M1848.9 1158.7h0M1849.9 1161.1h0M1850.9 1157.5h0M1851.9 1164.3h0M1852.8 1157.7h0M1853.8 1177.1h0M1854.8 1181.0h0M1855.8 1164.0h0M1856.7 1170.4h0M1857.7 1165.4h0M1858.7 1172.4h0M1859.7 1175.2h0M1860.7 1168.3h0M1861.6 1178.9h0M1862.6 1175.7h0M1863.6 1181.1h0M1864.6 1169.2h0M1865.6 1174.8h0M1866.5 1166.7h0M1867.5 1178.3h0M1868.5 1160.6h0M1869.5 1158.7h0M1870.5 1176.8h0M1871.4 1166.4h0M1872.4 1181.7h0M1873.4 1174.5h0M1874.4 1179.3h0M1875.3 1157.3h0M1876.3 1171.6h0M1877.3 1164.4h0M1878.3 1155.0h0M1879.3 1174.3h0M1880.2 1165.9h0M1881.2 1179.0h0M1882.2 1175.7h0M1883.2 1172.5h0M1884.2 1160.9h0M1885.1 1160.1h0M1886.1 1176.2h0M1887.1 1166.0h0M1888.1 1159.7h0M1889.0 1176.8h0M1890.0 1179.9h0M1891.0 1172.3h0M1892.0 1163.5h0M1893.0 1180.0h0M1893.9 1166.0h0M1894.9 1180.7h0M1895.9 1179.2h0M1896.9 1174.2h0M1897.9 1178.9h0M1898.8 1178.7h0M1899.8 1156.4h0M1900.8 1174.0h0M1901.8 1156.7h0M1902.7 1164.9h0M1903.7 1161.9h0M1904.7 1171.3h0M1905.7 1173.1h0M1906.7 1172.3h0M1907.6 1157.2h0M1908.6 1155.9h0M1909.6 1164.4h0M1910.6 1159.5h0M1911.6 1173.4h0M1912.5 1176.8h0M1913.5 1170.3h0M1914.5 1174.5h0M1915.5 1165.1h0M1916.4 1170.0h0M1917.4 1177.4h0M1918.4 1176.1h0M1919.4 1166.7h0M1920.4 1160.9h0M1921.3 1171.7h0M1922.3 1172.9h0M1923.3 1172.0h0M1924.3 1171.1h0M1925.3 1157.0h0M1926.2 1170.3h0M1927.2 1179.7h0M1928.2 1176.1h0M1929.2 1167.7h0M1930.2 1164.8h0M1931.1 1156.8h0M1932.1 1163.8h0M1933.1 1164.2h0M1934.1 1163.3h0M1935.0 1166.0h0M1936.0 1160.8h0M1937.0 1161.9h0M1938.0 1178.3h0M1939.0 1161.4h0M1939.9 1168.8h0M1940.9 1165.3h0M1941.9 1174.4h0M1942.9 1172.6h0M1943.9 1174.2h0M1944.8 1183.0h0M1945.8 1185.4h0M1946.8 1157.9h0M1947.8 1179.5h0M1948.7 1162.4h0M1949.7 1162.6h0M1950.7 1167.0h0M1951.7 1185.7h0M1952.7 1170.0h0M1953.6 1164.3h0M1954.6 1184.7h0M1955.6 1166.0h0M1956.6 1170.1h0M1957.6 1171.2h0M1958.5 1176.3h0M1959.5 1168.6h0M1960.5 1161.9h0M1961.5 1162.8h0M1962.4 1178.2h0M1963.4 1163.0h0M1964.4 1165.3h0M1965.4 1161.4h0M1966.4 1167.8h0M1967.3 1186.3h0M1968.3 1175.0h0M1969.3 1162.2h0M1970.3 1176.5h0M1971.3 1175.2h0M1972.2 1177.5h0M1973.2 1173.6h0M1974.2 1184.5h0M1975.2 1186.1h0M1976.1 1170.9h0M1977.1 1187.3h0M1978.1 1167.6h0M1979.1 1187.1h0M1980.1 1176.4h0M1981.0 1159.7h0M1982.0 1188.4h0M1983.0 1182.1h0M1984.0 1188.4h0M1985.0 1174.1h0M1985.9 1173.8h0M1986.9 1166.1h0M1987.9 1176.2h0M1988.9 1171.9h0M1989.8 1184.4h0M1990.8 1174.4h0M1991.8 1166.9h0M1992.8 1187.3h0M1993.8 1177.2h0M1994.7 1188.0h0M1995.7 1174.4h0M1996.7 1189.5h0M1997.7 1180.1h0M1998.7 1173.9h0M1999.6 1175.2h0M2000.6 1164.5h0M2001.6 1180.2h0M2002.6 1170.5h0M2003.6 1170.5h0M2004.5 1172.4h0M2005.5 1167.4h0M2006.5 1185.8h0M2007.5 1185.2h0M2008.4 1177.6h0M2009.4 1169.6h0M2010.4 1166.6h0M2011.4 1164.9h0M2012.4 1165.3h0M2013.3 1166.7h0M2014.3 1168.8h0M2015.3 1165.3h0M2016.3 1183.7h0M2017.3 1165.4h0M2018.2 1171.3h0M1200.6 1180.4h0" stroke="#ffe6d2" stroke-width="1.6" stroke-linecap="round" fill="none"/>
</g>
<rect x="1171.3" y="1109.5" width="849" height="416.7" fill="none" stroke="#111" stroke-width="2"/>
<path d="M1171.3 1526.1h-9M1171.3 1453.62h-9M1171.3 1381.14h-9M1171.3 1308.66h-9M1171.3 1236.18h-9M1171.3 1163.7h-9" stroke="#111" stroke-width="1.8" fill="none"/>
<path d="M1171.3 1489.86h-5M1171.3 1417.38h-5M1171.3 1344.9h-5M1171.3 1272.42h-5M1171.3 1199.94h-5M1171.3 1127.46h-5" stroke="#111" stroke-width="1.8" fill="none"/>
<path d="M1171.3 1526.2v9M1378.6 1526.2v9M1585.9 1526.2v9M1793.2 1526.2v9M2000.5 1526.2v9" stroke="#111" stroke-width="1.8" fill="none"/>
<path d="M1274.95 1526.2v4.5M1482.25 1526.2v4.5M1689.55 1526.2v4.5M1896.85 1526.2v4.5" stroke="#111" stroke-width="1.8" fill="none"/>
<text x="1154" y="1536.1" font-size="28.5" text-anchor="end">0.0</text>
<text x="1154" y="1463.62" font-size="28.5" text-anchor="end">0.2</text>
<text x="1154" y="1391.14" font-size="28.5" text-anchor="end">0.4</text>
<text x="1154" y="1318.66" font-size="28.5" text-anchor="end">0.6</text>
<text x="1154" y="1246.18" font-size="28.5" text-anchor="end">0.8</text>
<text x="1154" y="1173.7" font-size="28.5" text-anchor="end">1.0</text>
<text x="1171.3" y="1565.4" font-size="28.5" text-anchor="middle">0</text>
<text x="1378.6" y="1565.4" font-size="28.5" text-anchor="middle">500</text>
<text x="1585.9" y="1565.4" font-size="28.5" text-anchor="middle">1000</text>
<text x="1793.2" y="1565.4" font-size="28.5" text-anchor="middle">1500</text>
<text x="2000.5" y="1565.4" font-size="28.5" text-anchor="middle">2000</text>
<text x="2009" y="1143.3" font-size="28.3" text-anchor="end" fill="#f0641e">91.7%</text>
<text x="2009" y="1269" font-size="28.3" text-anchor="end" fill="#ad78e3">80.8%</text>
<text x="1185.5" y="1367.9" font-size="30.3">MPP with 100 mW/cm<tspan font-size="21" dy="-12">2</tspan><tspan dy="12"> LED in N</tspan><tspan font-size="21" dy="7">2</tspan></text>
<line x1="1186" y1="1451.3" x2="1251.6" y2="1451.3" stroke="#f9600f" stroke-width="2.2" />
<circle cx="1218.8" cy="1451.3" r="3.2" fill="#f9600f"/><circle cx="1218.3" cy="1450.7" r="1.1" fill="#ffe6d2"/>
<line x1="1186" y1="1488.2" x2="1251.6" y2="1488.2" stroke="#a96be4" stroke-width="2.2" />
<circle cx="1218.8" cy="1488.2" r="3" fill="#a96be4"/>
<text x="1259" y="1460.3" font-size="31">Target</text>
<text x="1259" y="1496.8" font-size="31">Control</text>
<text x="1099.8" y="1317.8" font-size="38.3" text-anchor="middle" transform="rotate(-90 1099.8 1317.8)">Normalized PCE</text>
<text x="1596.1" y="1620.8" font-size="38.3" text-anchor="middle">Time (h)</text>
<text x="26" y="1722.6" font-size="29.5" fill="#bb4347" font-weight="bold" textLength="1217" lengthAdjust="spacingAndGlyphs">Figure 5. Photovoltaic performance and electrical characterization of FHJ devices</text>
<text x="25.3" y="1763.8" font-size="28.5" fill="#111" textLength="1092.3" lengthAdjust="spacingAndGlyphs">(A) <tspan font-style="italic">J-V</tspan> curves of control and target PSCs under reverse scan (from 1.20 to −0.01 V).</text>
<text x="25.3" y="1803.2" font-size="28.5" fill="#111" textLength="1099" lengthAdjust="spacingAndGlyphs">(B) <tspan font-style="italic">J-V</tspan> curves of control and target PSCs under forward scan (from −0.01 to 1.20 V).</text>
<text x="25.3" y="1842" font-size="28.5" fill="#111" textLength="1541.9" lengthAdjust="spacingAndGlyphs">(C) Statistical distributions of the PCE for control and FHJ devices (statistical performance of 20 devices for each type).</text>
<text x="25.3" y="1881.9" font-size="28.5" fill="#111" textLength="771.7" lengthAdjust="spacingAndGlyphs">(D) Light intensity-dependent <tspan font-style="italic">V</tspan><tspan font-size="21" dy="6">OC</tspan><tspan dy="-6"> of control and FHJ PSCs.</tspan></text>
<text x="25.3" y="1920.7" font-size="28.5" fill="#111" textLength="801.3" lengthAdjust="spacingAndGlyphs">(E and F) EL stability of control and FHJ devices, respectively.</text>
<text x="25.3" y="1961" font-size="28.5" fill="#111" textLength="1399.9" lengthAdjust="spacingAndGlyphs">(G) Thermal stability of control and FHJ devices up to 1,600 h, respectively (heating under 85°C, ISOS-D-1I).</text>
<text x="25.3" y="2000" font-size="28.5" fill="#111" textLength="1798.7" lengthAdjust="spacingAndGlyphs">(H) Operational stability of control and FHJ devices up to 2,000 h, respectively (MPP tracking under continuous light irradiation, ISOS-L-1I).</text>
</svg>
</body></html>
